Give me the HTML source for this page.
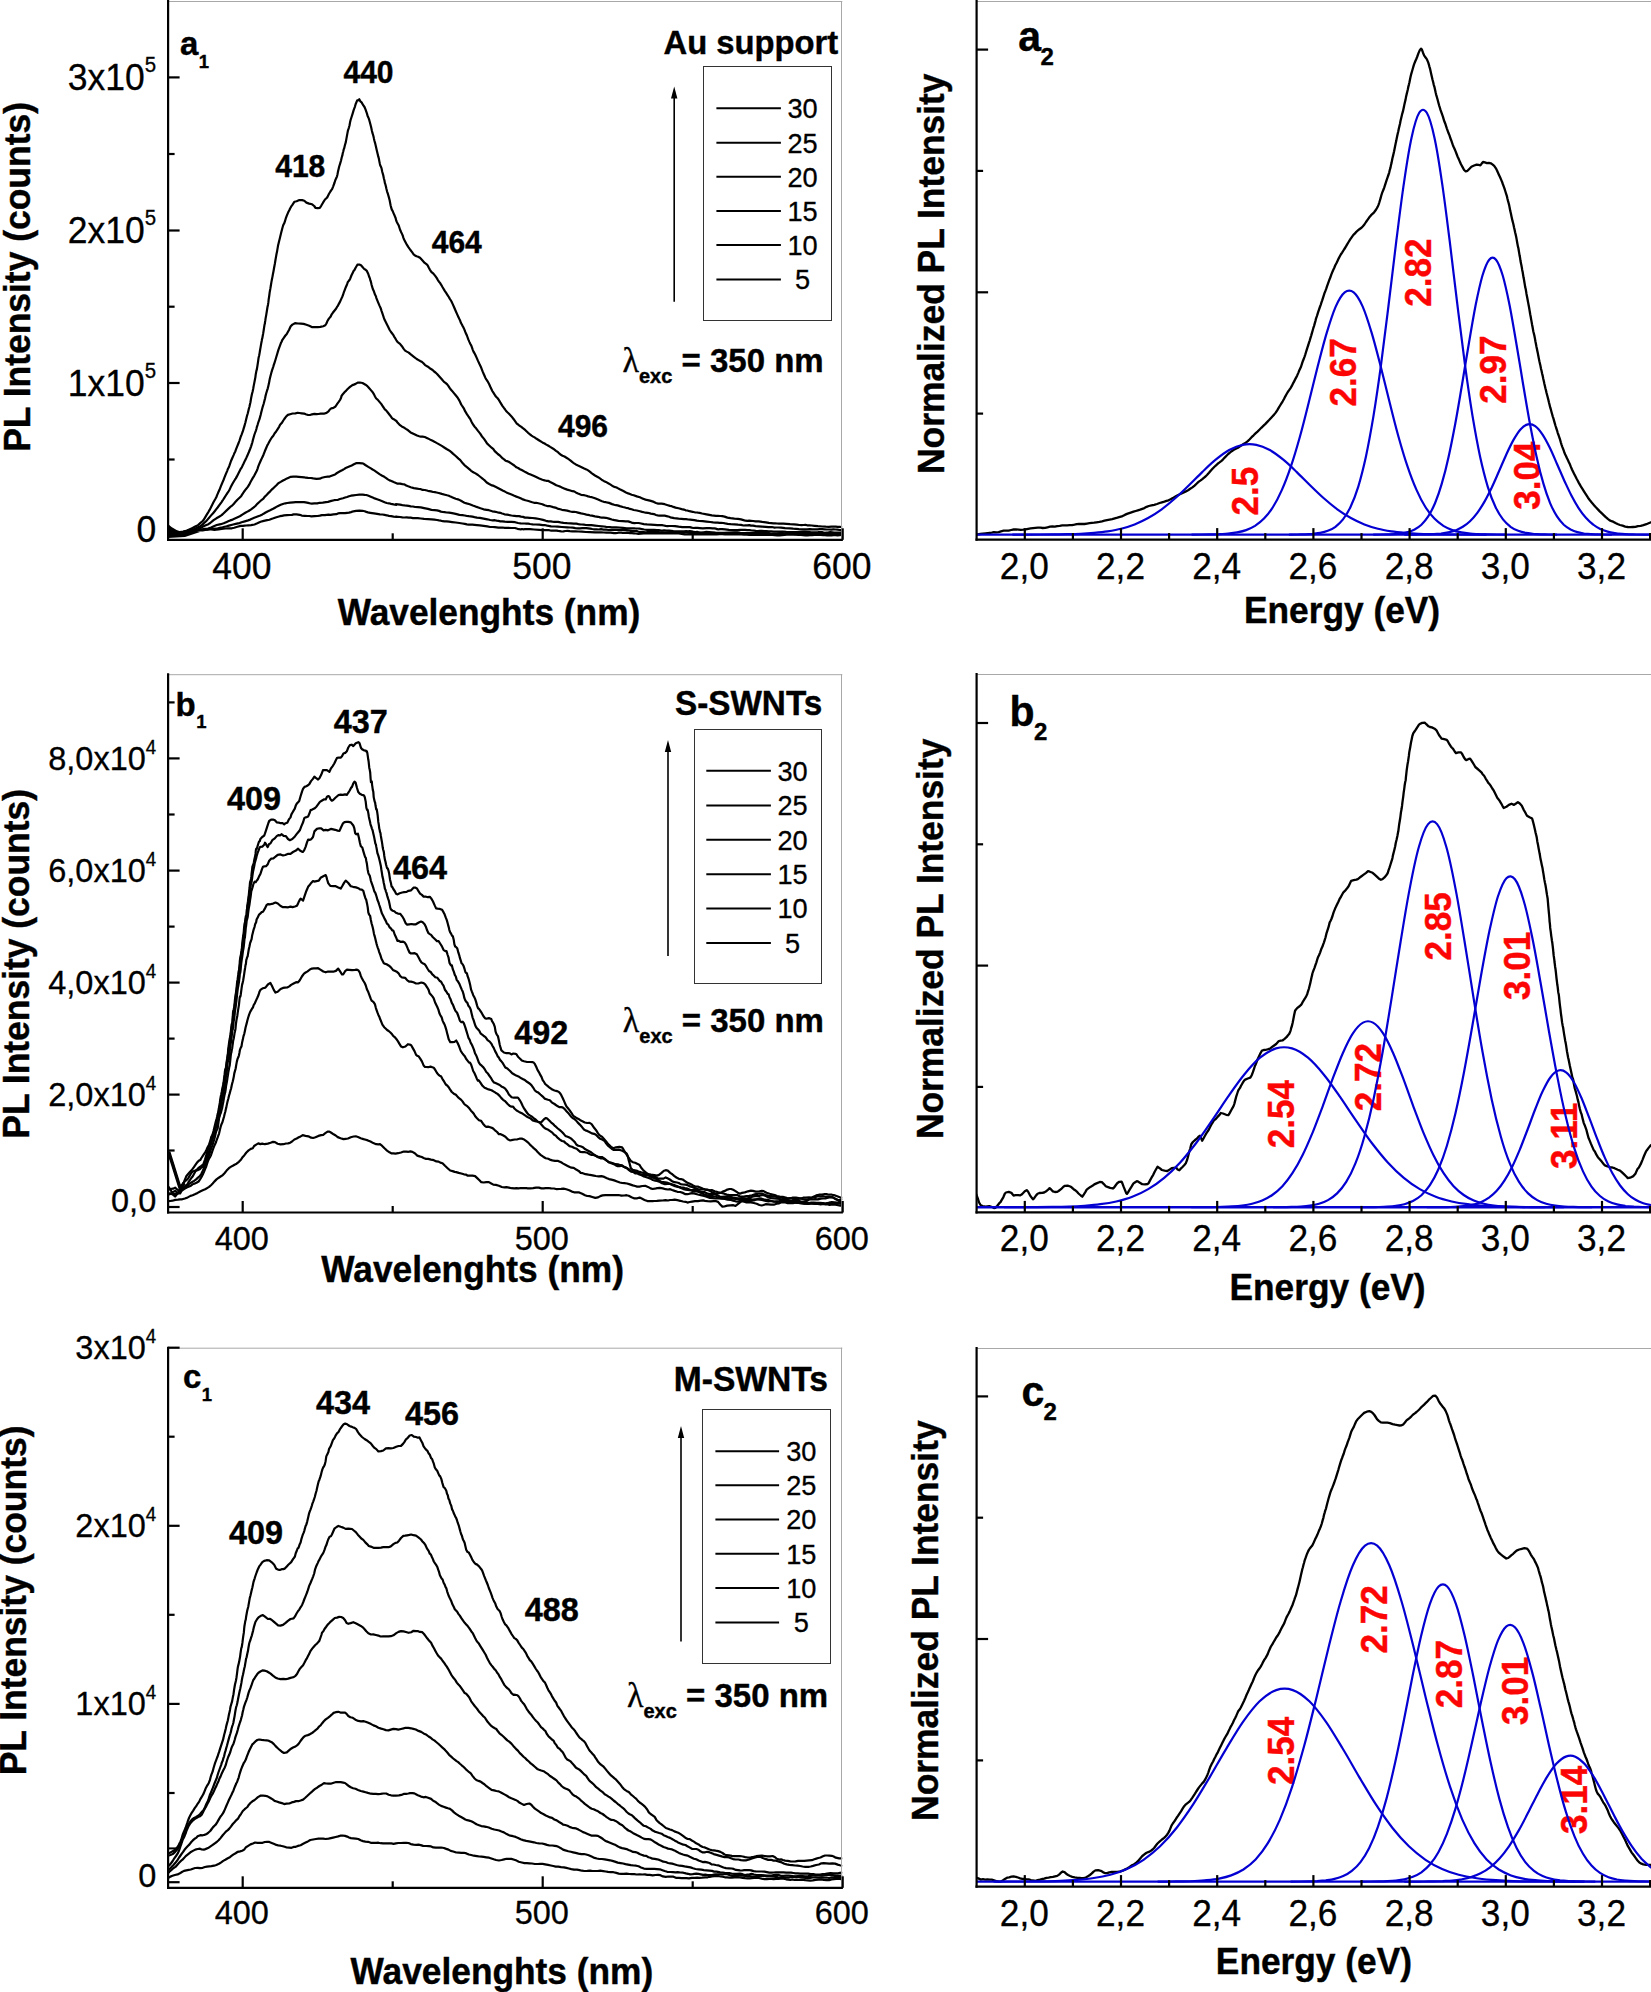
<!DOCTYPE html>
<html lang="en"><head><meta charset="utf-8"><title>PL spectra</title>
<style>html,body{margin:0;padding:0;background:#fff}svg{display:block}text{font-family:'Liberation Sans', Arial, sans-serif;stroke:#000;stroke-width:.3px}text[font-weight=bold]{stroke-width:.4px}text[fill]{stroke:#fb0505}</style>
</head><body>
<svg width="1651" height="1992" viewBox="0 0 1651 1992">
<rect width="1651" height="1992" fill="#fff"/>
<defs>
<clipPath id="cl_a1"><rect x="168.1" y="1" width="674.1999999999999" height="538.8"/></clipPath>
<clipPath id="cl_b1"><rect x="168.1" y="674.2" width="674.1999999999999" height="538.3"/></clipPath>
<clipPath id="cl_c1"><rect x="168.1" y="1347.7" width="674.1999999999999" height="540.0999999999999"/></clipPath>
<clipPath id="cl_a2"><rect x="976.6" y="1" width="675.4" height="538.6"/></clipPath>
<clipPath id="cl_b2"><rect x="976.6" y="674" width="675.4" height="538.4000000000001"/></clipPath>
<clipPath id="cl_c2"><rect x="976.6" y="1348" width="675.4" height="538.5999999999999"/></clipPath>
</defs>
<path d="M168.7,532.2 170.8,532.3 173.1,532.5 176.0,532.5 179.9,532.1 183.1,531.5 185.3,531.0 187.2,530.6 189.3,529.6 192.1,528.2 195.2,526.6 196.9,525.8 198.3,524.8 200.5,522.9 202.7,521.0 203.9,519.5 205.0,517.6 206.9,514.4 208.5,511.8 209.6,509.9 210.5,508.2 211.6,506.1 213.2,502.7 214.6,500.2 215.6,498.5 216.4,497.0 217.1,495.2 218.1,492.8 219.5,489.8 220.9,486.1 221.9,483.8 222.7,481.9 223.5,480.0 224.4,477.7 225.8,474.1 227.1,471.1 228.0,468.7 228.8,467.3 229.4,465.7 230.2,463.4 231.0,461.0 232.2,458.2 233.6,455.1 234.5,452.9 235.3,451.4 236.1,449.1 237.4,445.9 238.6,443.0 239.5,440.5 240.2,438.4 240.8,436.5 241.6,434.6 242.7,431.7 243.7,428.4 244.4,426.2 244.9,424.3 245.4,422.5 246.0,420.0 246.9,416.3 247.8,413.2 248.4,410.7 248.9,408.5 249.4,407.0 249.8,405.0 250.4,402.5 251.1,398.2 251.9,394.3 252.5,392.0 252.8,390.7 253.2,388.8 253.6,386.4 254.3,382.9 254.9,379.7 255.4,377.1 255.7,374.6 256.0,373.0 256.4,370.9 256.9,369.1 257.5,365.3 258.1,361.3 258.5,358.3 258.9,356.6 259.2,355.2 259.6,353.1 260.0,350.5 260.6,347.1 261.2,343.6 261.7,341.0 262.0,339.1 262.4,337.9 262.7,336.0 263.2,333.4 263.8,329.5 264.3,326.2 264.6,324.4 264.9,323.6 265.0,322.2 265.3,320.5 265.6,318.4 266.2,315.1 267.1,309.5 267.5,306.9 268.0,304.7 268.4,302.2 268.7,299.2 269.1,296.8 269.4,294.5 269.7,292.2 270.1,290.0 270.4,288.4 270.7,286.5 271.1,284.0 271.5,281.6 271.9,279.5 272.4,277.1 272.9,274.3 273.5,271.2 274.1,267.7 274.9,263.5 275.5,259.8 276.1,256.4 276.5,254.0 277.0,251.8 277.4,249.3 277.8,247.1 278.1,245.3 278.5,243.7 278.9,242.0 279.4,240.0 279.9,238.0 280.5,235.5 281.1,233.1 282.4,228.0 283.2,225.3 283.8,224.0 284.3,223.2 284.9,221.3 285.7,218.7 286.8,215.7 288.2,212.3 289.3,210.3 290.1,208.5 291.1,206.7 292.4,204.9 294.5,201.7 296.6,201.2 299.4,200.0 302.2,200.1 304.3,200.7 306.4,202.6 309.1,203.6 312.1,204.3 314.2,206.0 315.6,208.0 317.7,208.2 319.8,207.8 321.2,205.8 323.3,202.2 325.0,199.5 326.1,198.5 327.2,197.4 328.9,194.0 330.4,191.5 331.3,190.2 332.1,189.1 333.1,186.6 334.6,182.5 335.5,179.7 336.3,178.1 336.9,176.6 337.4,174.8 337.9,172.1 338.5,169.4 339.2,166.5 340.2,163.3 341.1,160.2 341.7,157.5 342.3,155.7 342.8,153.0 343.2,151.7 343.7,149.4 344.2,148.3 344.9,145.3 345.8,142.1 346.7,137.1 347.4,133.4 348.0,130.3 348.5,128.9 349.0,127.3 349.5,125.5 350.0,122.6 350.6,120.0 351.4,117.5 352.7,113.3 353.5,110.6 354.1,108.9 354.8,107.1 355.6,104.2 357.2,100.4 358.2,100.3 359.3,99.2 360.4,101.4 361.6,102.4 363.2,105.2 364.5,107.0 365.4,109.2 366.9,113.4 367.7,116.3 368.3,117.4 368.8,118.6 369.3,120.2 370.0,122.7 371.1,127.1 371.9,130.8 372.5,133.2 373.1,135.0 373.5,136.5 374.0,138.9 374.5,141.0 375.1,143.1 375.8,145.9 376.7,149.9 377.6,153.7 378.3,156.7 378.8,158.3 379.3,161.1 379.8,163.5 380.2,165.2 380.8,166.4 381.5,168.1 382.3,172.0 383.2,175.1 383.9,178.4 384.5,180.8 384.9,183.1 385.4,184.4 385.8,186.0 386.4,188.8 387.1,191.6 388.0,194.2 388.9,197.4 389.7,200.5 390.2,203.2 390.7,205.8 391.2,207.6 391.8,209.6 392.6,210.9 393.6,213.3 394.7,215.8 395.6,218.0 396.2,220.5 396.8,221.9 397.6,223.4 398.6,225.2 400.0,229.5 401.2,232.2 402.1,234.1 402.8,235.7 403.4,237.9 404.1,239.5 405.1,241.4 406.5,244.1 408.4,247.1 410.4,250.0 412.1,252.2 413.6,254.3 415.0,255.5 416.5,256.3 418.1,256.7 420.0,257.8 422.3,260.3 424.7,262.9 426.4,264.1 427.6,265.2 428.7,267.5 429.8,269.6 431.3,271.8 433.4,273.6 435.4,276.1 436.8,278.1 438.0,280.3 439.0,281.7 440.0,282.9 441.2,284.8 442.6,287.3 444.6,290.6 446.3,293.2 447.7,295.3 448.8,297.0 449.7,298.6 450.6,300.0 451.5,301.5 452.6,303.9 454.0,307.0 455.7,311.0 457.2,314.4 458.4,317.0 459.4,319.1 460.2,320.8 460.9,322.8 461.7,324.2 462.4,325.6 463.2,327.0 464.2,329.1 465.4,332.2 466.9,335.5 468.3,339.4 469.5,342.1 470.5,344.2 471.3,345.6 472.1,347.8 472.8,349.8 473.5,351.6 474.4,353.1 475.4,355.0 476.6,357.6 478.0,360.9 479.6,364.3 480.9,366.9 481.9,369.6 482.8,371.9 483.6,373.7 484.4,375.5 485.3,377.7 486.3,379.4 487.6,381.3 489.2,384.2 490.9,388.1 492.3,391.0 493.4,392.7 494.3,394.1 495.2,395.5 496.1,396.8 497.2,397.8 498.6,399.5 500.3,402.4 502.4,405.8 503.9,407.9 505.1,409.5 506.1,411.0 507.4,412.3 509.0,413.8 511.5,416.4 513.7,419.2 515.4,421.6 516.8,423.6 518.1,424.5 519.5,425.8 521.0,426.6 522.9,428.2 525.4,430.2 528.1,432.8 530.1,434.5 531.6,435.6 533.1,436.6 534.6,437.4 536.6,438.8 539.3,440.5 542.4,442.4 544.6,443.5 546.3,444.6 548.0,445.5 550.2,446.9 553.2,448.7 556.0,450.8 558.0,452.2 559.5,453.7 560.9,454.8 562.5,455.7 564.5,456.5 567.2,458.2 570.3,460.3 572.4,462.1 574.1,463.3 575.8,464.4 578.0,465.5 581.1,466.9 584.2,468.4 586.4,469.4 588.1,470.4 589.8,471.7 591.9,473.4 595.0,475.5 598.1,477.2 600.3,478.7 602.0,480.0 603.7,480.9 605.9,481.9 609.0,483.7 612.1,485.7 614.2,486.9 615.9,487.3 617.6,488.1 619.8,489.3 622.9,490.8 626.0,492.4 628.2,493.4 629.9,494.0 631.6,494.7 633.7,495.3 636.8,496.4 639.9,497.2 642.1,498.4 643.8,499.0 645.5,499.6 647.7,500.1 650.8,500.9 653.9,501.9 656.0,502.9 657.7,503.6 659.4,503.7 661.6,503.6 664.7,504.2 667.8,505.2 670.0,505.9 671.7,506.2 673.4,506.9 675.5,507.6 678.6,508.3 681.7,509.1 683.9,509.6 685.6,510.3 687.3,510.5 689.5,511.2 692.6,511.8 695.4,512.5 697.0,512.5 698.1,512.7 699.6,512.9 702.1,513.5 706.5,514.3 709.3,514.9 711.8,515.4 714.0,515.6 716.0,515.8 718.0,515.9 720.1,516.0 722.2,516.1 724.6,516.6 727.4,517.6 730.6,518.1 734.4,518.6 738.0,518.8 741.0,519.4 743.5,520.1 745.5,520.7 747.4,520.9 749.2,520.7 751.0,520.8 753.1,521.0 755.6,521.3 758.6,521.4 762.2,521.9 765.9,522.3 768.9,522.9 771.3,523.1 773.4,523.3 775.3,523.3 777.0,523.5 778.9,523.7 781.0,523.6 783.4,523.7 786.4,523.8 790.1,524.1 793.8,524.3 796.8,524.6 799.4,525.0 801.5,525.1 803.5,525.0 805.4,524.9 807.2,525.3 809.3,525.3 811.7,525.5 814.5,525.8 817.9,526.2 822.2,526.5 825.7,526.7 828.8,526.8 831.4,526.6 833.7,526.5 835.7,526.6 837.7,526.8 839.6,526.8 841.6,527.0" fill="none" stroke="#000" stroke-width="2.2" stroke-linejoin="round" stroke-linecap="round" clip-path="url(#cl_a1)"/>
<path d="M168.7,533.1 170.7,533.3 172.9,533.6 175.7,533.5 179.9,533.0 182.9,532.0 185.3,531.3 187.4,530.7 189.3,530.5 191.5,529.9 194.2,529.1 197.5,527.6 199.0,527.1 200.3,526.3 202.7,524.4 204.8,522.3 206.3,521.0 207.5,519.6 208.9,518.0 211.1,515.4 213.3,512.9 214.9,511.0 216.1,509.4 217.6,507.5 219.5,504.9 221.4,502.3 222.5,500.7 223.3,499.5 224.3,497.9 225.8,495.5 227.5,492.8 228.6,491.3 229.5,489.7 230.5,487.6 232.2,484.3 233.8,481.5 234.9,479.7 235.8,478.4 236.9,476.4 238.5,473.2 239.9,470.5 240.9,468.6 241.8,467.3 242.6,465.6 243.5,463.8 244.8,460.9 246.3,457.9 247.3,455.7 248.0,454.1 248.9,452.0 250.1,449.0 251.1,446.3 251.8,444.2 252.3,442.5 252.8,440.4 253.4,438.2 254.3,435.0 255.2,432.5 255.9,430.6 256.4,429.0 256.9,426.8 257.6,424.8 258.5,421.8 259.5,419.2 260.1,416.9 260.6,415.1 261.1,412.9 261.8,410.3 262.7,406.8 263.6,404.0 264.2,401.7 264.6,400.1 265.1,398.3 265.5,396.1 266.1,393.8 267.0,390.7 267.8,388.3 268.4,385.8 268.9,383.6 269.3,381.5 269.7,379.3 270.3,376.8 271.2,373.3 272.1,370.1 272.8,368.1 273.3,366.6 273.8,364.9 274.5,362.8 275.4,360.0 276.5,356.3 277.2,354.0 277.8,351.9 278.5,349.6 279.6,346.7 280.9,343.1 281.6,341.7 282.4,339.8 283.8,337.8 285.4,335.5 286.6,334.2 287.7,332.2 289.1,329.7 290.7,326.3 292.4,324.6 295.0,323.2 298.0,323.5 300.8,323.6 303.6,323.9 306.4,324.8 309.2,325.8 311.8,327.1 314.9,327.0 317.9,327.1 320.3,326.9 323.3,326.2 325.3,325.3 326.4,323.5 327.3,321.3 328.9,318.6 330.7,316.5 331.7,314.3 332.8,312.8 334.6,310.5 336.0,308.8 337.0,306.9 337.8,305.9 338.7,304.1 340.2,301.4 341.4,298.6 342.3,296.7 343.0,295.0 343.7,292.7 344.5,290.6 345.8,287.2 347.1,284.2 348.0,281.7 348.7,281.0 349.5,280.0 350.3,278.4 351.4,275.5 352.9,272.4 353.7,270.8 354.5,269.9 355.6,267.7 357.4,264.7 359.3,264.5 361.0,265.3 362.3,266.8 364.1,268.9 365.6,269.8 366.6,270.6 368.3,274.0 369.2,276.8 369.9,278.4 370.4,280.4 371.0,282.1 371.5,284.5 372.1,286.6 372.9,289.2 373.9,291.3 375.1,294.8 375.9,296.2 376.4,298.1 377.1,299.9 378.0,302.1 379.5,305.6 380.7,308.2 381.6,311.1 382.4,313.3 383.1,315.5 383.8,317.7 384.6,319.8 385.5,321.6 386.6,323.8 388.0,326.5 389.7,330.0 391.0,332.0 392.2,333.5 393.2,334.8 394.1,336.6 395.2,338.2 396.4,340.3 397.7,342.2 400.0,343.9 401.9,346.2 403.5,348.6 405.1,350.6 406.8,351.6 408.7,352.6 411.1,354.7 413.9,356.8 416.7,359.0 418.6,360.1 420.2,361.0 421.6,361.7 423.2,363.0 425.1,365.1 427.9,366.7 430.6,368.8 432.6,370.0 434.1,371.5 435.5,372.5 437.1,374.0 439.1,376.3 441.8,379.3 444.0,381.9 445.8,383.2 447.2,384.4 448.5,386.1 449.6,387.9 450.8,389.5 452.1,390.9 453.7,392.9 455.7,395.3 457.7,397.7 459.1,400.1 460.3,402.5 461.2,404.5 462.0,405.7 462.8,406.8 463.8,408.3 465.1,411.2 466.9,414.1 468.8,417.0 470.3,419.1 471.4,421.5 472.4,423.4 473.4,425.0 474.6,426.7 476.1,428.3 478.0,430.9 480.2,433.6 481.8,436.2 483.0,437.6 484.2,439.2 485.4,440.9 487.0,443.4 489.2,445.5 491.6,447.7 493.4,449.2 494.7,451.1 496.1,452.4 497.8,454.0 500.3,455.9 502.7,458.4 504.4,459.6 505.6,460.8 506.9,461.1 508.7,461.8 511.5,463.6 514.3,465.5 516.4,467.3 518.1,468.0 520.0,469.2 522.2,470.3 525.4,472.1 528.5,473.7 530.6,474.6 532.3,475.3 534.1,476.1 536.2,477.1 539.3,478.5 542.4,479.7 544.6,480.4 546.3,480.8 548.0,480.8 550.2,482.0 553.2,483.5 556.3,485.3 558.5,486.0 560.2,486.6 561.9,487.5 564.1,488.4 567.2,489.6 570.3,490.5 572.4,491.2 574.1,491.4 575.8,492.4 578.0,493.5 581.1,494.8 584.2,495.2 586.4,495.8 588.1,496.4 589.8,496.8 591.9,497.2 595.0,498.2 598.1,499.6 600.3,500.6 602.0,501.3 603.7,501.8 605.9,502.2 609.0,502.9 612.1,504.1 614.2,504.8 615.9,505.2 617.6,505.4 619.8,506.1 622.9,507.0 626.0,507.8 628.2,508.2 629.9,508.9 631.6,509.3 633.7,510.0 636.8,510.5 639.9,511.2 642.1,511.9 643.8,512.3 645.5,512.7 647.7,512.8 650.8,513.6 653.9,514.1 656.0,515.0 657.7,515.4 659.4,515.7 661.6,515.6 664.7,515.7 667.5,516.3 669.1,516.7 670.3,517.3 671.7,517.6 674.2,518.1 678.6,518.6 681.5,518.8 683.9,519.1 686.1,519.2 688.2,519.5 690.2,519.7 692.2,519.9 694.4,520.2 696.8,520.7 699.5,521.0 702.7,521.2 706.5,521.6 710.2,522.0 713.1,522.4 715.6,522.6 717.7,522.7 719.5,522.9 721.3,522.9 723.2,523.0 725.2,523.4 727.7,523.8 730.7,524.1 734.4,524.3 738.0,524.7 741.0,524.9 743.5,525.5 745.5,525.4 747.4,525.4 749.2,525.1 751.0,525.6 753.1,525.7 755.6,526.1 758.6,526.3 762.2,526.6 765.7,526.9 768.4,527.2 770.3,527.1 771.8,527.0 773.1,527.3 774.5,527.6 776.1,527.5 778.2,527.5 781.1,527.6 785.0,528.1 790.1,528.3 793.1,528.7 796.0,528.9 798.9,529.2 801.7,529.3 804.5,529.4 807.2,529.3 809.8,529.2 812.4,529.3 814.9,529.4 817.4,529.3 819.9,529.1 822.2,529.2 824.6,529.3 826.9,529.5 829.1,529.5 831.3,529.7 833.4,529.4 835.6,529.5 837.6,529.7 839.6,530.0 841.6,530.2" fill="none" stroke="#000" stroke-width="2.2" stroke-linejoin="round" stroke-linecap="round" clip-path="url(#cl_a1)"/>
<path d="M168.7,532.9 170.7,533.0 172.7,533.6 175.5,533.6 179.9,533.0 182.8,532.2 185.2,531.5 187.3,530.8 189.3,530.7 191.3,530.8 193.6,530.6 196.3,529.7 200.0,528.2 201.7,527.4 203.0,526.6 205.8,525.3 208.4,524.2 210.2,523.0 211.8,521.7 213.6,520.2 216.4,518.3 219.1,516.7 220.9,515.6 222.4,514.5 224.2,512.7 226.9,510.1 229.3,507.9 231.0,506.3 232.4,505.3 233.7,503.9 235.3,502.1 237.4,499.7 239.8,497.5 241.3,495.9 242.4,494.2 243.8,492.0 245.9,489.2 247.8,486.9 249.2,484.7 250.4,482.3 251.5,480.3 252.7,478.1 254.3,475.6 256.0,472.3 256.9,470.5 257.6,468.6 258.3,466.4 259.6,463.2 260.9,460.3 261.8,458.4 262.6,456.7 263.5,454.7 264.8,451.3 266.3,447.8 267.3,445.4 268.1,444.0 269.0,442.3 270.1,440.3 271.8,437.5 273.3,435.8 274.7,433.3 275.8,432.0 277.5,429.3 279.1,426.8 280.1,424.8 281.7,423.1 283.3,420.5 284.3,419.0 285.9,416.8 287.9,414.9 290.1,414.2 292.6,413.5 295.4,413.4 297.7,412.8 299.3,413.0 301.7,413.3 304.1,413.6 305.7,414.3 308.1,415.0 310.5,414.8 312.0,414.4 314.4,413.9 316.8,414.1 318.4,414.0 320.7,413.7 323.8,413.7 326.5,412.9 328.5,411.3 329.6,409.8 331.3,408.3 333.4,407.9 335.5,406.5 337.2,403.9 338.5,402.2 340.0,400.0 341.1,397.7 341.5,396.0 343.0,393.9 344.7,392.0 346.2,390.6 347.9,388.8 350.0,386.9 352.4,385.1 353.8,384.6 355.6,383.9 357.7,382.6 359.9,382.5 362.5,383.0 365.5,384.7 367.4,386.1 368.6,387.5 371.1,390.4 372.7,392.2 374.0,394.4 375.0,396.5 376.2,398.5 377.6,399.6 379.5,401.9 381.4,404.1 382.7,406.3 383.8,407.7 384.8,409.4 386.1,410.4 388.0,412.8 390.3,415.7 392.0,418.1 393.3,419.1 394.7,419.8 396.4,421.0 397.7,422.8 400.0,425.2 402.1,426.7 404.0,427.6 405.9,428.9 408.1,430.3 410.6,432.4 413.9,434.0 417.0,435.5 419.2,436.2 420.9,436.6 422.6,436.6 424.8,437.0 427.9,438.4 431.0,440.1 433.1,441.1 434.8,441.9 436.5,442.9 438.7,444.1 441.8,445.9 444.6,447.7 446.6,449.0 448.3,450.0 449.8,450.9 451.3,452.1 453.2,453.9 455.7,456.0 458.5,458.6 460.3,460.1 461.6,461.8 462.8,463.3 464.4,465.1 466.9,467.1 469.3,469.1 471.1,470.8 472.4,471.7 473.8,472.5 475.5,473.4 478.0,475.0 480.5,477.0 482.2,478.3 483.6,479.5 485.0,480.7 486.7,482.5 489.2,484.0 492.0,485.4 493.9,485.9 495.5,486.7 497.4,487.7 500.3,489.3 503.1,490.8 504.9,491.6 506.4,492.4 508.3,493.3 511.5,494.6 514.3,495.8 516.4,496.6 518.1,497.2 520.0,498.1 522.2,499.1 525.4,500.3 528.5,501.0 530.6,501.7 532.3,502.3 534.1,502.8 536.2,502.8 539.3,503.5 542.4,504.2 544.6,505.3 546.3,505.7 548.0,506.2 550.2,506.2 553.2,507.1 556.3,507.9 558.5,508.9 560.2,509.3 561.9,509.8 564.1,510.1 567.2,510.6 570.3,511.5 572.4,511.8 574.1,511.9 575.8,512.0 578.0,512.6 581.1,513.4 584.2,514.0 586.4,514.6 588.1,514.9 589.8,515.3 591.9,515.7 595.0,516.3 598.1,516.8 600.3,517.4 602.0,517.6 603.7,517.7 605.9,517.8 609.0,518.6 611.8,519.5 613.4,519.9 614.5,520.2 616.0,520.4 618.5,520.9 622.9,521.2 625.7,521.4 628.2,521.4 630.4,522.1 632.4,522.9 634.4,523.2 636.5,523.0 638.6,523.0 641.1,523.5 643.8,524.1 647.0,524.4 650.8,524.6 654.4,524.9 657.4,525.2 659.9,525.2 662.0,525.2 663.8,525.5 665.6,525.9 667.4,526.1 669.5,526.0 672.0,526.0 675.0,526.2 678.6,526.7 682.3,527.1 685.3,527.2 687.7,527.1 689.8,527.1 691.7,527.6 693.5,528.0 695.3,527.9 697.4,527.9 699.8,528.1 702.8,528.3 706.5,528.1 710.0,528.1 712.5,528.3 714.4,528.3 715.8,528.6 717.0,529.2 718.3,529.4 719.9,529.2 722.0,529.1 725.0,529.4 729.0,529.8 734.4,530.1 737.3,530.1 740.0,529.8 742.6,529.8 745.0,529.9 747.3,530.2 749.5,530.1 751.7,530.5 753.7,530.7 755.8,530.9 757.8,531.0 759.8,530.8 761.9,530.9 764.1,531.0 766.3,531.1 768.7,531.4 771.1,531.4 773.8,531.6 776.6,531.6 779.6,531.6 782.8,531.5 786.3,531.8 790.1,532.0 794.0,532.1 797.7,532.0 801.2,531.8 804.5,531.7 807.5,531.8 810.4,532.2 813.1,532.4 815.6,532.3 818.1,532.2 820.3,532.0 822.5,532.2 824.6,532.8 826.6,532.6 828.5,532.4 830.4,532.1 832.3,532.4 834.1,532.7 835.9,532.7 837.8,532.7 839.7,532.6 841.6,532.6" fill="none" stroke="#000" stroke-width="2.2" stroke-linejoin="round" stroke-linecap="round" clip-path="url(#cl_a1)"/>
<path d="M168.7,533.3 170.6,533.3 172.5,533.6 175.2,533.5 179.9,533.1 182.7,532.6 185.0,532.3 187.1,532.0 189.0,532.1 191.0,531.8 193.2,531.1 195.6,530.4 198.4,529.8 202.3,529.4 204.5,528.9 206.1,528.9 208.0,528.5 211.1,527.5 214.4,525.9 216.7,525.0 218.6,524.6 220.7,524.2 223.7,523.3 226.7,521.9 228.7,521.0 230.2,520.4 231.8,519.9 234.3,518.8 237.1,517.5 238.7,516.8 240.2,516.0 242.7,514.4 245.3,512.8 246.9,511.9 248.6,511.0 251.1,509.4 253.7,507.4 255.4,506.0 257.0,504.1 259.6,501.8 261.8,499.8 263.4,498.6 264.6,496.9 266.1,495.5 268.0,493.4 270.2,491.4 271.4,489.8 272.5,489.0 274.3,487.2 276.7,485.0 278.3,483.2 280.7,481.9 283.0,480.5 284.6,479.7 287.0,478.4 289.2,477.4 290.7,476.8 293.3,476.7 296.4,476.7 298.7,476.9 301.7,477.1 304.3,477.3 305.6,477.7 308.1,477.9 311.0,478.0 313.2,478.4 316.5,478.8 319.8,478.7 321.9,477.8 324.9,477.0 327.8,476.6 329.6,476.6 332.3,475.5 335.1,474.4 337.0,473.0 340.0,471.3 342.5,470.0 344.0,469.1 345.7,468.0 348.6,466.8 351.7,465.5 353.9,464.3 356.1,463.2 359.3,463.1 362.2,463.3 363.7,463.8 365.3,465.0 368.3,466.9 370.9,468.4 372.6,469.5 374.2,470.4 376.3,471.8 379.5,474.1 382.2,475.7 384.3,476.8 386.2,478.1 387.9,479.4 389.6,480.4 391.4,481.0 393.6,482.1 396.5,483.3 397.1,483.6 400.0,483.7 402.4,484.2 404.4,484.3 406.2,485.5 408.2,486.3 410.7,487.2 413.9,488.1 417.0,488.6 419.2,489.0 420.9,489.2 422.6,489.9 424.8,490.0 427.9,490.8 431.0,491.4 433.1,492.0 434.8,492.1 436.5,492.5 438.7,493.0 441.8,493.9 444.9,494.7 447.1,495.3 448.8,495.7 450.5,496.6 452.6,497.5 455.7,498.8 458.8,499.6 461.0,500.8 462.7,501.8 464.4,502.7 466.6,503.4 469.7,504.2 472.8,505.5 474.9,506.2 476.6,506.9 478.3,507.5 480.5,508.3 483.6,509.3 486.7,509.8 488.9,510.2 490.6,510.7 492.3,511.3 494.4,511.6 497.5,512.3 500.4,512.8 502.0,513.5 503.1,513.8 504.5,514.3 507.1,514.7 511.5,515.5 514.3,515.8 516.7,516.1 519.0,516.1 521.0,516.6 523.0,516.9 525.0,517.6 527.2,517.6 529.6,517.8 532.4,518.0 535.6,518.4 539.3,519.0 543.0,519.9 546.0,520.8 548.4,521.3 550.5,521.4 552.4,521.7 554.1,521.8 556.0,521.8 558.1,521.8 560.5,522.3 563.5,522.8 567.2,523.1 570.8,523.3 573.8,523.6 576.3,523.7 578.4,524.1 580.2,524.4 582.0,524.5 583.9,524.7 585.9,525.0 588.4,525.2 591.4,525.2 595.0,525.6 598.7,526.0 601.7,526.3 604.1,526.5 606.2,526.8 608.1,527.0 609.9,527.1 611.7,527.3 613.8,527.4 616.3,527.4 619.2,527.5 622.9,527.9 626.6,528.3 629.6,528.4 632.0,528.3 634.1,528.4 635.9,528.5 637.7,528.5 639.6,528.7 641.7,529.0 644.1,529.5 647.1,529.8 650.8,529.9 654.3,529.9 656.8,530.0 658.7,530.1 660.1,530.4 661.3,530.7 662.6,530.7 664.2,530.4 666.3,530.5 669.3,530.7 673.3,531.1 678.6,531.3 681.5,531.3 684.0,531.3 686.2,531.2 688.1,531.3 689.8,531.1 691.4,531.4 692.9,531.7 694.3,531.9 695.6,532.0 697.1,531.8 698.6,532.2 700.2,532.6 702.0,532.7 704.0,532.3 706.3,531.9 709.0,532.0 712.0,532.3 715.4,532.7 719.3,532.8 723.8,532.8 728.8,532.5 734.4,532.4 737.4,532.4 740.4,532.8 743.3,533.0 746.3,533.1 749.2,533.0 752.1,533.2 754.9,533.0 757.8,532.8 760.6,532.6 763.4,532.6 766.1,532.9 768.9,533.1 771.6,533.7 774.2,533.7 776.9,533.6 779.5,533.2 782.1,533.1 784.7,533.3 787.3,533.4 789.8,533.2 792.3,533.3 794.8,533.4 797.3,533.8 799.7,533.7 802.1,533.6 804.5,533.5 806.9,533.4 809.2,533.7 811.5,533.9 813.8,534.0 816.1,533.7 818.4,533.5 820.6,533.5 822.8,533.6 825.0,533.6 827.1,533.5 829.3,533.6 831.4,533.9 833.5,533.8 835.5,533.6 837.6,533.6 839.6,533.8 841.6,533.9" fill="none" stroke="#000" stroke-width="2.2" stroke-linejoin="round" stroke-linecap="round" clip-path="url(#cl_a1)"/>
<path d="M168.7,533.6 170.5,533.6 172.2,533.8 175.0,534.3 179.9,533.8 182.9,533.2 185.4,532.6 187.6,532.3 189.8,532.0 192.0,531.8 194.4,531.1 197.2,530.5 200.5,530.0 204.5,529.7 207.1,529.6 208.9,529.1 210.7,529.0 212.9,528.8 216.4,528.7 219.9,527.8 222.5,527.3 224.6,526.8 226.6,526.3 228.9,525.6 232.2,524.7 235.7,523.9 238.0,523.4 239.6,523.1 241.6,522.3 244.8,521.4 248.1,520.4 250.2,519.6 252.0,518.7 254.2,517.8 257.5,516.5 260.3,515.4 262.4,514.4 264.0,513.5 265.6,512.5 267.5,511.5 270.1,510.3 273.1,508.8 275.0,507.7 276.4,506.9 278.1,506.0 280.7,504.8 283.6,503.7 285.4,503.3 287.2,503.0 290.1,502.6 293.4,502.3 295.6,502.1 297.8,502.0 300.7,502.1 303.9,502.1 305.6,502.4 308.1,502.9 310.5,503.5 311.8,503.6 314.4,503.4 317.3,503.4 319.5,502.8 322.8,502.6 326.0,502.1 328.0,501.9 331.3,500.9 334.1,500.2 336.2,500.0 338.0,499.8 340.0,499.0 343.0,498.2 345.1,497.5 347.0,497.0 349.0,496.3 351.0,495.7 353.4,495.3 356.1,495.0 359.3,494.7 362.6,494.7 364.7,494.9 366.3,495.0 367.9,495.5 370.2,496.5 373.9,498.1 377.1,499.3 379.9,500.3 382.3,501.2 384.6,502.2 386.7,503.0 388.9,503.3 391.1,503.9 393.6,504.4 396.3,504.8 395.8,504.1 400.0,504.7 402.4,505.1 404.6,505.4 406.6,505.6 408.7,505.9 410.7,506.3 412.9,506.5 415.2,507.0 417.8,507.1 420.8,507.4 424.1,508.1 427.9,508.9 431.5,509.9 434.5,510.2 437.0,510.4 439.0,510.9 440.9,511.6 442.7,512.0 444.5,512.1 446.6,512.5 449.1,512.6 452.1,513.2 455.7,513.9 459.4,514.9 462.4,515.2 464.8,515.5 466.9,516.0 468.8,516.2 470.5,516.3 472.4,516.6 474.5,517.1 476.9,517.6 479.9,517.9 483.6,518.6 487.3,519.3 490.2,520.0 492.7,520.3 494.8,520.2 496.6,520.6 498.4,520.9 500.3,521.3 502.3,521.3 504.8,521.7 507.8,521.8 511.5,521.9 515.1,522.2 518.1,523.0 520.6,523.4 522.6,523.5 524.5,523.5 526.3,523.6 528.1,523.6 530.2,524.0 532.7,524.3 535.7,524.5 539.3,524.6 542.8,525.1 545.4,525.2 547.2,525.6 548.6,525.8 549.8,526.2 551.1,526.4 552.7,526.5 554.9,526.5 557.8,526.7 561.8,527.0 567.2,527.3 570.1,527.5 572.8,527.7 575.4,528.1 577.8,528.3 580.0,528.3 582.2,528.1 584.2,528.1 586.3,528.1 588.3,528.3 590.2,528.6 592.3,529.0 594.3,529.3 596.4,529.4 598.7,529.5 601.0,529.2 603.5,529.6 606.1,529.7 609.0,530.0 612.1,529.8 615.4,529.9 619.0,529.8 622.9,529.9 626.6,530.1 629.6,530.6 632.0,531.1 633.9,531.1 635.3,531.0 636.5,530.9 637.3,531.2 638.1,531.5 638.7,531.7 639.3,531.9 640.0,532.0 640.9,531.8 642.1,531.9 643.6,532.0 645.6,532.4 648.0,532.0 651.1,531.7 654.9,531.8 659.4,532.1 664.9,532.3 671.2,532.2 678.6,532.5 681.3,532.8 684.0,532.6 686.7,532.7 689.4,532.8 692.1,533.2 694.8,532.9 697.5,532.8 700.3,532.8 703.0,532.9 705.7,533.2 708.4,533.0 711.1,533.0 713.8,533.0 716.5,533.3 719.2,533.2 721.9,533.2 724.6,533.3 727.3,533.4 730.0,533.3 732.7,533.2 735.4,533.2 738.0,533.2 740.7,533.1 743.4,533.1 746.0,533.2 748.7,533.3 751.3,533.4 754.0,533.5 756.6,533.7 759.2,533.8 761.8,533.9 764.4,533.6 767.0,533.7 769.6,534.0 772.1,534.4 774.7,534.4 777.2,534.1 779.8,534.1 782.3,534.0 784.8,534.1 787.3,533.6 789.7,533.5 792.2,533.5 794.6,534.2 797.1,534.3 799.5,534.2 801.9,534.0 804.3,534.0 806.6,533.8 809.0,533.6 811.3,533.8 813.6,534.1 815.9,534.3 818.1,534.5 820.4,534.3 822.6,534.2 824.8,534.0 827.0,534.2 829.2,534.3 831.3,534.4 833.4,534.3 835.5,534.3 837.6,534.3 839.6,534.3 841.6,534.5" fill="none" stroke="#000" stroke-width="2.2" stroke-linejoin="round" stroke-linecap="round" clip-path="url(#cl_a1)"/>
<path d="M168.7,533.8 170.4,533.9 172.0,533.9 174.8,534.1 179.9,533.6 182.7,533.4 185.2,533.0 187.4,532.9 189.5,532.5 191.6,532.1 193.8,531.4 196.3,531.0 199.2,530.5 202.7,530.3 206.3,529.6 209.0,529.4 211.1,529.4 212.8,529.6 214.5,529.8 216.3,529.7 218.6,529.3 221.6,528.9 225.5,528.5 228.1,528.4 230.1,528.3 231.9,528.3 234.2,527.8 237.4,526.8 240.7,525.9 242.9,525.8 244.6,525.6 246.2,525.5 248.2,525.3 251.1,525.2 254.5,524.5 256.7,523.6 258.4,522.7 260.6,521.8 263.8,520.9 267.1,520.2 269.4,519.7 271.3,519.0 273.4,518.3 276.4,517.2 279.9,516.2 282.0,515.8 284.0,515.4 287.0,515.2 290.0,515.0 291.9,514.9 293.7,514.4 296.5,514.3 299.7,514.8 301.7,515.6 304.9,515.8 307.7,516.0 309.4,516.0 311.3,516.3 314.4,516.1 317.6,516.0 319.8,515.6 321.9,515.1 324.9,515.1 328.5,514.7 330.5,514.9 333.4,514.3 336.3,514.2 338.0,513.4 340.0,513.2 343.0,513.2 345.1,513.2 347.0,512.9 349.0,512.6 351.0,512.1 353.4,511.3 356.1,510.9 359.3,510.6 362.6,510.8 364.7,511.3 366.3,511.9 367.9,512.4 370.2,512.8 373.9,513.4 377.1,513.9 379.9,514.3 382.3,514.5 384.6,514.9 386.7,515.3 388.9,515.9 391.1,516.2 393.6,516.6 396.3,516.8 395.8,516.7 400.0,517.0 402.4,517.3 404.6,517.5 406.6,517.4 408.7,517.6 410.7,517.7 412.9,518.1 415.2,518.0 417.8,518.2 420.8,518.5 424.1,518.9 427.9,519.1 431.5,519.3 434.5,519.7 437.0,520.0 439.0,520.4 440.9,520.7 442.7,521.2 444.5,521.3 446.6,521.4 449.1,521.7 452.1,522.1 455.7,522.5 459.4,523.0 462.4,523.5 464.8,523.9 466.9,524.3 468.8,524.6 470.5,524.7 472.4,524.7 474.5,524.9 476.9,525.1 479.9,525.3 483.6,525.8 487.3,526.4 490.2,527.0 492.7,527.0 494.8,527.2 496.6,527.4 498.4,527.6 500.3,527.7 502.3,527.5 504.8,527.8 507.8,527.8 511.5,528.0 514.9,528.0 517.5,528.8 519.4,529.2 520.8,529.4 522.0,529.0 523.3,529.3 524.8,529.2 527.0,529.1 530.0,529.2 534.0,529.5 539.3,529.9 542.2,530.1 544.8,530.0 547.2,530.2 549.3,530.2 551.3,530.7 553.1,530.6 554.8,530.7 556.5,530.6 558.2,530.9 559.9,531.1 561.6,531.5 563.4,531.4 565.4,531.0 567.5,530.9 569.8,531.2 572.4,531.4 575.3,531.3 578.4,531.5 582.0,531.6 585.9,532.0 590.2,532.1 595.0,532.4 598.3,532.3 601.2,532.3 603.9,532.5 606.3,532.7 608.5,532.7 610.6,532.6 612.4,532.8 614.1,533.1 615.7,533.1 617.2,533.0 618.6,532.7 620.0,532.7 621.3,532.7 622.6,532.9 624.0,532.8 625.4,532.8 626.8,532.6 628.4,532.9 630.1,533.1 631.9,533.2 633.8,533.3 636.0,533.5 638.3,533.8 640.9,533.6 643.8,533.5 646.9,533.5 650.3,533.5 654.1,533.4 658.2,533.4 662.7,533.4 667.6,533.5 672.9,533.3 678.6,533.5 681.7,533.8 684.7,534.4 687.7,534.5 690.6,534.4 693.6,534.2 696.5,534.3 699.5,534.3 702.4,534.4 705.3,534.4 708.1,534.5 711.0,534.5 713.8,534.4 716.7,534.3 719.5,534.1 722.3,534.1 725.0,534.3 727.8,534.4 730.5,534.4 733.3,534.4 736.0,534.3 738.7,534.4 741.3,534.5 744.0,534.6 746.7,534.6 749.3,534.9 751.9,534.9 754.5,534.8 757.1,534.7 759.6,534.9 762.2,534.9 764.7,534.9 767.2,535.0 769.7,534.9 772.2,535.0 774.7,535.2 777.1,535.5 779.6,535.3 782.0,535.1 784.4,534.9 786.8,534.7 789.2,534.7 791.5,534.6 793.9,534.6 796.2,534.7 798.5,534.9 800.8,535.0 803.1,535.1 805.4,535.4 807.6,535.4 809.9,535.2 812.1,535.1 814.3,534.9 816.5,534.8 818.7,534.9 820.8,535.0 823.0,535.1 825.1,535.1 827.2,535.5 829.3,535.5 831.4,535.4 833.5,535.1 835.5,535.2 837.6,535.3 839.6,535.1 841.6,535.0" fill="none" stroke="#000" stroke-width="2.2" stroke-linejoin="round" stroke-linecap="round" clip-path="url(#cl_a1)"/>
<path d="M168,524 Q175,531 185,532 L200,532 L185,537 L168,538 Z" fill="#000"/>
<line x1="168.1" y1="1.5" x2="842.3" y2="1.5" stroke="#a8a8a8" stroke-width="1"/>
<line x1="841.5" y1="1.0" x2="841.5" y2="539.8" stroke="#a8a8a8" stroke-width="1"/>
<line x1="168.1" y1="0.0" x2="168.1" y2="540.9" stroke="#000" stroke-width="2.2"/>
<line x1="167.0" y1="539.8" x2="842.9" y2="539.8" stroke="#000" stroke-width="2.2"/>
<line x1="242.7" y1="539.8" x2="242.7" y2="528.3" stroke="#000" stroke-width="2.2"/>
<line x1="542.7" y1="539.8" x2="542.7" y2="528.3" stroke="#000" stroke-width="2.2"/>
<line x1="842.7" y1="539.8" x2="842.7" y2="528.3" stroke="#000" stroke-width="2.2"/>
<line x1="392.7" y1="539.8" x2="392.7" y2="533.3" stroke="#000" stroke-width="2.2"/>
<line x1="692.7" y1="539.8" x2="692.7" y2="533.3" stroke="#000" stroke-width="2.2"/>
<text transform="translate(241.8 578.5) scale(1 1.05)" font-size="35.5" text-anchor="middle">400</text>
<text transform="translate(541.8 578.5) scale(1 1.05)" font-size="35.5" text-anchor="middle">500</text>
<text transform="translate(841.8 578.5) scale(1 1.05)" font-size="35.5" text-anchor="middle">600</text>
<line x1="168.1" y1="77.4" x2="179.6" y2="77.4" stroke="#000" stroke-width="2.2"/>
<line x1="168.1" y1="230.5" x2="179.6" y2="230.5" stroke="#000" stroke-width="2.2"/>
<line x1="168.1" y1="383.0" x2="179.6" y2="383.0" stroke="#000" stroke-width="2.2"/>
<line x1="168.1" y1="154.0" x2="174.6" y2="154.0" stroke="#000" stroke-width="2.2"/>
<line x1="168.1" y1="306.7" x2="174.6" y2="306.7" stroke="#000" stroke-width="2.2"/>
<line x1="168.1" y1="459.5" x2="174.6" y2="459.5" stroke="#000" stroke-width="2.2"/>
<text transform="translate(156.0 89.9) scale(1 1.05)" font-size="35.5" text-anchor="end">3x10<tspan font-size="20.4" dy="-16.7">5</tspan></text>
<text transform="translate(156.0 243.0) scale(1 1.05)" font-size="35.5" text-anchor="end">2x10<tspan font-size="20.4" dy="-16.7">5</tspan></text>
<text transform="translate(156.0 395.5) scale(1 1.05)" font-size="35.5" text-anchor="end">1x10<tspan font-size="20.4" dy="-16.7">5</tspan></text>
<text transform="translate(156.2 541.6) scale(1 1.05)" font-size="35.5" text-anchor="end">0</text>
<text transform="translate(29.6 451.8) rotate(-90) scale(1 1.03)" font-size="35.45" font-weight="bold">PL Intensity (counts)</text>
<text transform="translate(489.0 624.5) scale(1 1.03)" font-size="35.3" font-weight="bold" text-anchor="middle">Wavelenghts (nm)</text>
<text transform="translate(180.0 55.0) scale(1 1.03)" font-size="33" font-weight="bold">a<tspan font-size="18.5" dy="12.4" dx="0.5">1</tspan></text>
<text transform="translate(838.3 53.6) scale(1 1.03)" font-size="32.8" font-weight="bold" text-anchor="end">Au support</text>
<rect x="703.5" y="66.5" width="128.0" height="254.0" fill="#fff" stroke="#333" stroke-width="1"/>
<line x1="716.4" y1="108.2" x2="780.9" y2="108.2" stroke="#000" stroke-width="2.0"/>
<text transform="translate(787.5 118.0) scale(1 1.05)" font-size="27.2">30</text>
<line x1="716.4" y1="142.7" x2="780.9" y2="142.7" stroke="#000" stroke-width="2.0"/>
<text transform="translate(787.5 152.5) scale(1 1.05)" font-size="27.2">25</text>
<line x1="716.4" y1="176.7" x2="780.9" y2="176.7" stroke="#000" stroke-width="2.0"/>
<text transform="translate(787.5 186.5) scale(1 1.05)" font-size="27.2">20</text>
<line x1="716.4" y1="210.9" x2="780.9" y2="210.9" stroke="#000" stroke-width="2.0"/>
<text transform="translate(787.5 220.7) scale(1 1.05)" font-size="27.2">15</text>
<line x1="716.4" y1="244.9" x2="780.9" y2="244.9" stroke="#000" stroke-width="2.0"/>
<text transform="translate(787.5 254.7) scale(1 1.05)" font-size="27.2">10</text>
<line x1="716.4" y1="279.5" x2="780.9" y2="279.5" stroke="#000" stroke-width="2.0"/>
<text transform="translate(795.0 289.3) scale(1 1.05)" font-size="27.2">5</text>
<line x1="674.2" y1="94.4" x2="674.2" y2="301.8" stroke="#000" stroke-width="1.6"/>
<path d="M674.2,86.4 L671.0,98.4 L677.4000000000001,98.4 Z" fill="#000"/>
<text transform="translate(622.5 371.8) scale(1 1.03)" font-size="33" font-weight="bold"><tspan font-family="'Liberation Serif', 'DejaVu Serif', serif" font-weight="normal" font-size="34">λ</tspan><tspan font-size="20" dy="10.5">exc</tspan><tspan dy="-10.5"> = 350 nm</tspan></text>
<text transform="translate(343.5 82.9) scale(1 1.03)" font-size="30" font-weight="bold">440</text>
<text transform="translate(275.2 176.6) scale(1 1.03)" font-size="30" font-weight="bold">418</text>
<text transform="translate(431.7 252.5) scale(1 1.03)" font-size="30" font-weight="bold">464</text>
<text transform="translate(558.0 436.5) scale(1 1.03)" font-size="30" font-weight="bold">496</text>
<path d="M168.8,1194.4 170.4,1194.0 173.0,1191.9 175.1,1191.0 177.6,1192.6 180.1,1193.5 180.8,1192.2 181.6,1189.6 182.5,1186.5 183.4,1183.7 184.3,1181.2 185.1,1179.3 186.3,1176.2 187.9,1174.2 189.6,1172.3 191.3,1170.5 192.6,1168.9 193.9,1167.2 195.6,1164.7 197.4,1162.1 199.0,1160.6 200.2,1160.1 201.4,1158.0 202.8,1155.9 204.1,1153.9 205.2,1152.3 206.3,1150.2 207.6,1147.3 209.0,1144.7 210.2,1141.2 210.7,1139.4 211.2,1137.0 211.9,1135.7 212.7,1134.0 213.5,1131.1 214.3,1127.7 215.1,1124.4 215.8,1121.6 216.6,1118.8 217.2,1116.4 217.7,1113.8 218.1,1112.9 218.4,1110.7 218.8,1108.8 219.3,1105.6 219.8,1103.0 220.2,1099.7 220.7,1096.7 221.2,1094.5 221.8,1091.5 222.3,1088.6 222.8,1086.4 223.2,1084.7 223.7,1081.7 224.1,1078.1 224.6,1074.7 224.9,1071.4 225.3,1069.3 225.5,1069.1 225.8,1068.3 226.1,1066.3 226.4,1063.5 226.8,1060.8 227.1,1059.0 227.5,1056.1 227.9,1053.5 228.2,1049.6 228.6,1046.5 229.0,1043.3 229.4,1040.5 229.8,1038.6 230.2,1036.3 230.6,1034.4 230.9,1030.8 231.3,1027.1 231.6,1024.6 232.0,1023.2 232.3,1022.7 232.5,1019.4 232.8,1016.2 233.0,1012.6 233.3,1010.9 233.6,1010.0 233.9,1008.5 234.2,1007.3 234.6,1003.5 234.9,1000.2 235.3,996.9 235.7,994.1 236.0,992.6 236.4,989.4 236.8,985.6 237.2,981.4 237.6,979.7 237.9,977.1 238.3,974.7 238.6,971.5 239.0,970.4 239.3,967.5 239.6,964.8 239.8,961.2 240.1,958.8 240.3,957.2 240.6,956.0 240.9,954.8 241.2,952.6 241.5,950.9 241.9,947.9 242.2,944.4 242.6,940.6 243.0,937.2 243.4,935.3 243.8,931.3 244.1,927.4 244.5,924.0 244.9,922.6 245.2,920.8 245.5,918.8 245.8,916.2 246.1,916.6 246.4,915.6 246.6,915.2 246.9,910.8 247.2,907.4 247.6,903.7 248.0,901.2 248.4,897.2 248.8,895.1 249.2,890.7 249.6,887.5 250.0,882.7 250.3,881.2 250.7,880.5 251.0,879.0 251.3,876.9 251.6,873.6 252.0,870.4 252.4,866.6 252.9,865.3 253.4,864.3 253.9,862.2 254.4,859.2 255.0,856.9 255.5,853.9 255.9,850.0 256.3,848.5 256.6,849.3 257.3,847.0 258.2,844.0 259.0,841.7 259.8,841.1 260.4,838.9 262.2,837.0 264.2,835.6 265.0,833.4 266.1,830.1 267.3,826.4 268.4,823.0 269.2,821.0 271.1,819.7 273.0,819.5 274.9,820.3 276.7,822.3 279.2,822.7 280.6,823.2 282.6,823.2 284.2,824.3 285.6,823.2 287.3,822.7 289.1,819.1 290.5,817.4 291.4,814.4 292.5,812.5 293.7,810.4 294.8,808.7 295.9,805.2 296.8,803.6 297.9,802.4 299.2,801.0 300.7,795.8 302.0,791.6 303.1,788.7 304.5,786.9 306.3,786.3 308.0,785.3 309.3,784.1 311.0,781.1 312.9,778.9 314.4,776.6 316.2,778.2 318.1,779.5 319.4,778.3 321.2,774.8 323.0,770.2 324.4,770.0 326.9,770.2 329.4,771.9 330.8,768.7 332.5,766.3 334.3,763.5 335.7,760.5 337.1,757.8 338.8,757.7 340.6,757.7 342.0,756.3 343.4,753.5 345.2,752.9 346.9,751.2 348.3,747.5 349.9,745.1 351.7,744.7 353.3,746.1 355.8,743.3 358.3,742.2 359.5,743.2 360.9,747.7 362.1,749.2 364.0,750.3 365.8,750.6 366.3,751.5 366.8,751.2 367.3,752.9 367.9,756.9 368.3,759.8 368.6,761.3 368.9,764.2 369.3,767.9 369.7,769.6 370.2,772.5 370.6,778.5 371.0,782.3 371.4,782.4 371.8,781.6 372.1,785.1 372.4,786.9 372.8,789.9 373.3,791.7 373.7,797.1 374.2,799.5 374.7,801.8 375.1,802.5 375.5,805.3 375.9,807.6 376.2,809.3 376.7,809.2 377.2,812.1 377.7,815.6 378.3,821.9 378.8,824.7 379.3,828.9 379.6,829.6 380.0,832.0 380.4,832.7 380.8,835.5 381.3,838.5 381.8,841.2 382.2,843.7 382.7,847.3 383.1,849.5 383.4,850.4 383.8,851.9 384.3,856.0 384.9,859.6 385.5,861.7 386.1,864.7 386.7,866.8 387.2,868.4 387.7,868.3 388.4,870.3 389.2,873.8 390.0,879.4 390.9,882.9 391.6,886.6 392.2,886.8 393.3,889.0 394.7,891.0 396.1,893.8 397.2,894.4 399.7,893.2 402.2,892.5 404.1,892.2 406.6,891.9 408.5,890.8 411.1,890.3 413.5,887.7 415.1,887.6 417.0,888.5 418.5,891.2 420.1,893.6 421.9,894.9 423.6,896.6 425.4,896.5 427.8,897.2 429.8,896.8 431.2,898.4 432.9,901.3 434.7,905.4 436.1,908.4 437.8,908.7 439.9,908.9 442.1,909.8 443.6,912.4 444.6,914.3 445.7,917.4 446.8,920.1 447.8,923.7 448.7,927.1 449.3,929.8 450.2,932.3 451.1,933.7 452.0,935.6 452.9,936.4 453.7,939.7 454.4,944.3 455.2,946.5 456.2,947.1 457.3,948.5 458.3,952.4 459.2,955.1 459.9,957.9 460.7,960.4 461.6,963.3 462.6,964.2 463.6,966.1 464.6,969.2 465.5,972.3 466.2,973.0 466.9,973.3 467.6,976.2 468.5,978.5 469.4,981.7 470.3,985.6 471.1,989.7 471.9,991.7 472.5,993.1 473.2,995.2 474.1,996.8 475.1,998.9 476.1,1001.9 477.1,1005.6 478.0,1008.2 478.8,1008.7 480.0,1010.3 481.7,1012.9 483.5,1016.3 485.1,1018.2 486.3,1018.7 488.9,1018.1 491.3,1019.0 492.0,1021.1 492.9,1022.4 493.8,1024.1 494.8,1026.9 495.6,1031.7 496.3,1033.7 497.0,1034.8 497.9,1036.1 498.9,1040.6 499.8,1045.0 500.7,1048.2 501.4,1050.4 503.9,1052.5 506.4,1053.2 508.0,1053.0 509.9,1053.4 511.4,1054.4 513.3,1053.5 515.3,1053.8 516.5,1054.3 518.2,1057.0 520.1,1058.7 521.8,1060.5 524.0,1061.3 527.1,1062.0 530.2,1062.0 532.7,1062.2 533.7,1062.6 534.8,1063.9 536.2,1066.8 537.5,1069.9 539.0,1072.3 540.3,1074.9 541.6,1077.1 542.7,1080.1 543.6,1081.3 545.2,1084.0 547.2,1085.7 549.2,1087.3 551.0,1088.6 552.3,1089.6 554.5,1090.5 556.9,1091.1 558.9,1091.9 560.0,1093.2 561.3,1095.2 562.8,1098.2 564.2,1101.4 565.4,1104.3 566.5,1106.5 568.0,1108.3 569.7,1110.4 571.4,1112.8 572.9,1115.4 574.1,1116.3 576.1,1117.7 578.5,1118.9 580.9,1120.6 582.9,1121.5 584.8,1122.5 587.2,1123.0 589.6,1122.9 591.6,1124.1 592.8,1125.8 594.3,1128.1 595.9,1129.9 597.6,1132.6 599.1,1134.8 600.3,1135.7 601.8,1136.6 603.8,1138.7 605.9,1141.1 607.7,1143.4 609.0,1144.9 611.2,1147.1 613.4,1148.2 615.9,1147.3 619.3,1146.9 622.1,1147.4 623.3,1149.2 624.8,1151.9 626.5,1154.3 628.1,1156.9 629.6,1159.1 630.8,1160.8 632.8,1162.2 635.2,1162.8 637.6,1163.9 639.6,1165.0 641.0,1167.5 642.9,1169.7 644.9,1171.7 646.8,1173.3 648.3,1174.2 651.0,1174.7 654.3,1175.1 657.0,1175.6 659.0,1174.9 661.5,1172.9 663.9,1170.7 665.7,1170.2 667.8,1170.6 670.2,1172.9 672.3,1174.2 674.1,1175.9 676.4,1177.5 678.9,1178.8 681.0,1179.1 682.7,1179.5 685.0,1181.1 687.5,1182.8 689.9,1183.7 691.9,1184.7 693.6,1185.8 695.8,1186.7 698.3,1186.7 700.8,1187.7 703.1,1188.8 705.0,1189.3 706.8,1189.6 709.0,1190.1 711.5,1191.9 714.0,1192.9 716.2,1194.0 718.1,1193.5 719.9,1192.9 722.2,1191.9 724.8,1190.9 727.3,1189.6 729.5,1189.0 731.1,1189.0 733.2,1189.8 735.5,1191.1 737.8,1192.7 739.9,1193.7 742.0,1192.9 744.8,1192.4 748.0,1191.3 750.9,1190.7 752.9,1190.9 755.8,1191.6 758.8,1191.5 761.7,1190.9 763.7,1191.2 766.5,1192.7 769.6,1193.8 772.5,1194.5 774.7,1195.1 777.0,1196.1 779.8,1196.5 782.8,1196.8 785.6,1197.5 787.8,1198.6 790.1,1198.5 792.9,1197.5 795.9,1197.6 798.7,1198.1 800.9,1198.5 803.2,1197.7 806.0,1197.6 809.0,1197.4 811.8,1197.5 814.0,1196.4 816.2,1195.4 819.0,1194.7 822.0,1194.5 824.8,1194.1 827.1,1194.2 829.2,1194.7 831.9,1194.7 835.0,1195.4 837.9,1196.6 840.2,1197.6 841.7,1197.6" fill="none" stroke="#000" stroke-width="2.2" stroke-linejoin="round" stroke-linecap="round" clip-path="url(#cl_b1)"/>
<path d="M168.8,1187.2 169.9,1188.8 171.6,1191.8 173.6,1195.1 175.1,1196.5 176.5,1194.7 178.2,1192.5 179.9,1190.8 181.3,1189.8 183.3,1187.9 185.6,1185.6 187.6,1184.1 188.6,1181.9 189.9,1180.2 191.3,1178.0 192.8,1176.2 194.1,1173.8 195.1,1171.9 196.8,1169.7 198.9,1167.6 201.0,1166.2 202.7,1164.8 203.3,1164.3 204.1,1162.1 205.0,1159.5 206.0,1156.1 206.9,1153.2 207.9,1149.9 208.7,1147.2 209.5,1145.8 210.2,1144.4 210.7,1142.2 211.4,1139.3 212.1,1137.8 212.8,1136.2 213.6,1133.5 214.4,1130.4 215.1,1127.7 215.9,1125.1 216.6,1121.8 217.2,1119.1 217.7,1116.4 218.1,1114.9 218.4,1113.1 218.8,1112.2 219.3,1110.3 219.8,1107.6 220.2,1103.7 220.7,1100.7 221.2,1097.8 221.8,1096.1 222.3,1093.1 222.8,1090.1 223.2,1086.0 223.7,1083.1 224.1,1080.6 224.6,1077.9 224.9,1075.3 225.3,1072.4 225.5,1070.5 225.8,1069.1 226.1,1067.6 226.4,1065.7 226.8,1063.2 227.1,1060.8 227.5,1058.0 227.9,1055.1 228.2,1052.4 228.6,1049.2 229.0,1047.2 229.4,1045.2 229.8,1043.1 230.2,1038.9 230.6,1035.4 230.9,1032.9 231.3,1031.6 231.6,1028.9 232.0,1026.0 232.3,1024.3 232.5,1023.4 232.8,1021.1 233.0,1017.9 233.3,1014.4 233.6,1011.9 233.9,1010.2 234.2,1008.8 234.6,1006.2 234.9,1003.9 235.3,1001.9 235.7,998.6 236.0,995.0 236.4,991.4 236.8,989.2 237.2,985.9 237.6,983.4 237.9,981.4 238.3,978.6 238.6,975.1 239.0,972.6 239.3,969.9 239.6,968.0 239.8,965.4 240.1,963.6 240.3,961.5 240.6,959.4 240.9,957.9 241.2,955.8 241.5,953.3 241.9,950.4 242.2,947.4 242.6,945.1 243.0,940.8 243.4,937.3 243.8,934.6 244.1,933.2 244.5,931.2 244.9,927.8 245.2,924.8 245.5,921.4 245.8,918.4 246.1,918.1 246.4,916.1 246.6,915.2 246.9,909.7 247.2,907.9 247.6,905.1 248.0,904.6 248.4,902.1 248.8,901.1 249.2,897.6 249.6,894.6 250.0,890.7 250.3,888.7 250.7,885.6 251.0,883.3 251.3,882.2 251.6,882.1 252.0,878.9 252.5,875.2 253.0,871.9 253.6,869.0 254.2,866.2 254.8,862.8 255.3,861.2 255.8,859.4 256.3,857.7 256.6,856.1 257.5,853.1 258.6,850.3 259.6,847.6 260.4,846.8 262.3,846.6 264.2,844.8 265.0,842.7 265.9,844.0 266.7,845.6 267.7,847.1 269.1,844.0 270.4,843.5 272.3,840.2 274.8,838.4 276.7,836.1 278.3,835.1 280.1,835.4 281.7,834.2 283.6,835.9 285.9,836.1 288.0,839.0 289.9,840.2 292.3,839.1 294.9,836.4 296.8,833.9 298.2,832.2 299.8,830.3 301.5,825.9 303.1,822.3 304.3,818.1 305.4,817.4 306.8,817.1 308.2,816.4 309.5,813.3 310.6,810.1 312.2,809.6 314.3,808.6 316.4,806.7 318.1,804.4 319.9,801.9 322.1,800.5 324.2,799.3 325.7,799.5 327.0,796.7 328.4,796.0 329.4,796.6 330.5,799.3 331.8,800.7 333.2,800.0 335.4,797.8 338.3,795.2 340.7,794.7 342.8,794.9 345.1,794.4 347.0,794.8 348.2,792.8 349.7,790.5 351.0,787.9 352.0,786.9 353.3,783.3 354.5,781.7 355.6,782.6 357.0,788.0 358.3,792.1 359.8,793.8 361.8,794.8 363.3,795.1 364.0,795.5 364.8,797.2 365.7,801.6 366.4,807.8 367.1,810.0 367.5,809.6 367.9,811.0 368.4,813.6 368.9,817.0 369.4,819.2 369.9,821.2 370.4,823.8 370.8,825.4 371.3,826.5 371.9,828.6 372.6,830.2 373.3,833.4 374.0,836.4 374.7,840.0 375.4,843.7 375.9,844.5 376.3,846.9 376.8,849.5 377.4,853.0 378.1,854.9 378.7,856.9 379.3,859.2 379.9,861.8 380.4,864.1 380.9,866.3 381.3,869.2 381.9,872.9 382.4,876.4 383.1,879.1 383.7,882.8 384.3,885.2 384.9,888.8 385.5,889.8 385.9,891.6 386.5,892.9 387.2,895.6 388.0,898.4 388.8,900.6 389.6,904.2 390.3,907.9 390.9,909.3 392.5,910.7 394.3,911.2 395.9,912.7 397.9,913.6 400.3,913.8 402.2,916.3 403.8,919.0 405.6,923.1 407.2,924.7 409.1,924.4 411.5,924.0 413.5,924.4 415.9,924.3 418.8,922.5 421.0,921.5 422.7,922.3 424.6,924.3 426.1,927.3 427.1,930.3 428.5,933.2 429.8,934.1 431.1,934.9 432.7,937.0 434.8,939.0 437.0,941.1 438.6,941.2 440.1,943.5 441.8,946.1 443.5,949.8 444.9,950.8 445.6,951.2 446.5,951.1 447.5,954.5 448.5,957.3 449.5,962.9 450.4,964.5 451.2,965.6 451.9,965.4 452.8,969.3 453.8,971.6 454.8,974.9 455.8,976.5 456.7,979.9 457.4,980.7 458.3,982.0 459.4,983.9 460.6,986.8 461.8,989.6 462.8,991.7 463.7,994.9 464.4,998.2 465.3,1000.4 466.3,1001.9 467.4,1002.9 468.4,1005.8 469.3,1006.8 470.0,1007.8 470.7,1009.6 471.6,1013.5 472.6,1017.6 473.6,1020.2 474.6,1023.3 475.5,1026.0 476.3,1027.5 477.5,1028.9 479.1,1030.5 480.8,1033.7 482.5,1034.9 483.8,1036.0 485.5,1037.1 487.6,1040.2 489.7,1041.6 491.3,1043.6 492.4,1045.7 493.7,1047.9 495.1,1051.1 496.5,1053.6 497.8,1056.5 498.9,1057.6 499.9,1059.8 501.2,1061.1 502.6,1062.9 504.0,1065.2 505.3,1067.6 506.4,1067.9 508.1,1069.2 510.1,1071.0 512.2,1073.3 513.9,1074.3 516.2,1075.6 519.1,1076.8 521.8,1078.6 523.1,1079.2 524.9,1080.1 527.0,1081.8 529.2,1083.2 531.4,1085.1 533.3,1087.8 534.9,1090.5 536.4,1091.7 538.3,1092.6 540.4,1094.5 542.5,1096.3 544.6,1098.6 546.4,1099.2 548.0,1099.8 549.8,1100.2 552.0,1102.6 554.5,1104.0 557.0,1105.8 559.2,1107.1 561.1,1107.2 562.6,1107.4 564.5,1108.9 566.5,1111.3 568.7,1113.6 570.7,1116.2 572.6,1118.0 574.1,1118.9 575.7,1120.1 577.6,1122.4 579.8,1124.6 582.0,1127.1 584.0,1129.5 585.9,1130.6 587.2,1130.9 589.4,1132.0 591.8,1133.4 594.1,1133.8 595.9,1134.8 597.9,1136.8 600.3,1138.8 602.7,1139.8 604.7,1141.1 606.1,1143.3 607.9,1145.7 609.8,1147.1 611.7,1148.8 613.4,1149.8 615.5,1149.9 618.5,1149.6 621.7,1150.5 624.6,1152.0 626.5,1153.3 627.4,1155.0 628.2,1158.1 628.8,1160.7 629.5,1162.9 630.1,1165.4 630.8,1168.0 632.5,1169.8 634.8,1170.3 637.3,1170.9 639.6,1171.9 641.2,1172.4 643.4,1172.9 645.9,1173.7 648.5,1174.8 650.8,1175.6 652.6,1176.0 654.9,1176.7 657.7,1178.5 660.7,1178.7 663.5,1178.6 665.7,1177.4 667.5,1178.3 669.8,1179.5 672.3,1181.4 674.7,1182.2 677.0,1182.5 678.8,1183.0 680.6,1184.1 682.8,1184.5 685.3,1184.7 687.7,1185.2 690.0,1186.4 691.9,1186.8 693.9,1187.8 696.5,1188.7 699.4,1189.5 702.3,1189.1 705.0,1189.7 707.2,1189.9 709.3,1190.3 711.8,1190.1 714.7,1191.2 717.6,1192.1 720.2,1192.8 722.4,1193.3 724.3,1193.8 726.7,1194.6 729.4,1195.1 732.3,1195.2 735.1,1195.2 737.7,1195.2 739.9,1196.5 741.6,1196.6 743.9,1196.6 746.4,1196.1 749.2,1195.9 752.0,1195.3 754.8,1194.4 757.4,1193.8 759.7,1193.5 761.7,1193.6 763.6,1194.3 765.9,1195.1 768.4,1195.8 771.2,1196.0 774.0,1196.3 776.7,1197.0 779.3,1197.1 781.6,1197.7 783.5,1198.2 785.4,1198.6 787.7,1198.4 790.3,1198.1 793.0,1198.9 795.8,1198.9 798.5,1198.9 801.1,1198.4 803.4,1199.4 805.3,1199.7 807.2,1199.5 809.6,1198.8 812.2,1197.8 815.1,1197.1 817.9,1196.2 820.7,1196.4 823.2,1196.2 825.4,1196.8 827.1,1196.6 829.5,1196.9 832.4,1197.1 835.3,1198.9 838.1,1200.0 840.3,1200.2 841.7,1199.3" fill="none" stroke="#000" stroke-width="2.2" stroke-linejoin="round" stroke-linecap="round" clip-path="url(#cl_b1)"/>
<path d="M168.8,1152.1 169.1,1153.0 169.6,1154.8 170.3,1157.8 171.0,1159.9 171.9,1162.1 172.8,1164.0 173.7,1167.7 174.7,1170.9 175.7,1174.1 176.6,1176.9 177.5,1180.0 178.3,1182.7 179.0,1184.6 179.6,1185.4 180.1,1185.8 181.9,1185.8 183.6,1183.2 185.1,1180.9 186.3,1180.3 187.9,1178.7 189.6,1175.9 191.3,1173.0 192.6,1171.5 195.0,1170.7 197.9,1170.1 200.2,1168.9 201.4,1167.5 202.8,1166.6 204.1,1164.8 205.2,1162.5 205.9,1159.9 206.7,1157.2 207.6,1155.1 208.5,1152.6 209.4,1150.7 210.2,1147.3 210.7,1144.9 211.4,1142.8 212.1,1140.5 213.0,1138.0 213.9,1134.8 214.7,1132.3 215.6,1128.8 216.4,1125.6 217.1,1123.7 217.7,1122.2 218.1,1120.4 218.5,1118.9 218.9,1117.4 219.4,1115.5 219.9,1112.1 220.4,1109.2 221.0,1106.3 221.5,1103.2 222.0,1099.4 222.6,1096.8 223.1,1094.6 223.6,1092.2 224.1,1089.7 224.5,1086.5 224.9,1084.0 225.3,1081.5 225.5,1079.8 225.8,1077.5 226.1,1075.2 226.5,1073.5 226.8,1071.1 227.2,1067.6 227.6,1063.1 228.0,1060.6 228.4,1059.8 228.8,1059.5 229.2,1057.1 229.6,1052.8 230.0,1047.8 230.4,1044.9 230.8,1043.0 231.2,1040.6 231.6,1037.1 231.9,1034.5 232.2,1031.9 232.5,1030.1 232.8,1029.4 233.0,1028.3 233.3,1025.4 233.6,1021.6 233.9,1020.2 234.2,1017.9 234.6,1015.1 234.9,1011.5 235.3,1009.0 235.7,1006.7 236.0,1004.2 236.4,1001.1 236.8,997.1 237.2,993.5 237.6,990.2 237.9,987.8 238.3,986.0 238.6,984.1 239.0,981.9 239.3,979.0 239.6,976.8 239.8,974.2 240.1,973.2 240.3,972.3 240.6,970.1 240.9,966.7 241.2,963.6 241.5,961.4 241.9,958.6 242.2,956.8 242.6,953.8 243.0,950.9 243.4,948.8 243.8,946.0 244.1,943.2 244.5,938.6 244.9,937.5 245.2,934.2 245.5,931.5 245.8,927.4 246.1,926.0 246.4,923.3 246.6,921.4 246.9,919.8 247.3,918.6 247.7,917.0 248.1,913.4 248.5,910.1 248.9,907.5 249.4,905.0 249.8,902.2 250.2,899.2 250.6,896.9 251.0,893.7 251.3,891.2 251.6,890.4 252.5,887.4 253.5,883.7 254.6,881.7 255.7,882.2 256.6,880.7 257.7,879.5 259.0,876.6 260.4,874.0 261.8,869.6 262.9,866.8 264.3,866.4 266.0,866.2 267.8,864.2 269.2,860.7 271.1,858.7 273.4,858.3 275.5,856.7 277.7,854.8 280.6,854.4 283.0,855.4 285.3,855.0 288.2,853.8 290.5,853.8 293.0,852.0 295.9,850.6 298.1,848.7 300.0,850.5 301.8,851.7 302.8,852.0 304.1,850.4 305.6,846.8 307.0,842.3 308.1,839.6 309.5,839.9 311.3,839.2 313.0,837.0 314.4,831.4 316.9,828.9 319.4,828.3 321.2,828.3 323.6,830.4 325.7,829.9 328.0,830.3 330.9,828.9 333.2,829.4 335.2,829.8 337.6,830.6 339.5,830.9 341.1,827.2 343.0,823.3 344.5,822.1 346.4,821.9 348.3,821.9 350.8,822.4 353.3,825.5 354.2,827.8 355.2,833.2 356.2,834.3 357.0,833.9 357.9,833.7 358.9,837.7 359.9,842.8 360.8,846.2 361.4,846.7 362.3,847.5 363.3,851.1 364.2,854.1 365.1,857.0 365.8,857.9 366.3,861.0 366.9,863.8 367.6,869.2 368.3,872.8 369.0,874.6 369.7,875.4 370.3,877.9 370.8,880.5 371.5,882.6 372.4,885.2 373.4,888.2 374.3,891.3 375.2,892.7 375.9,894.5 376.6,896.8 377.4,899.8 378.4,902.1 379.3,905.0 380.2,907.6 380.9,910.2 382.0,913.6 383.3,916.0 384.7,918.9 385.9,921.1 386.9,923.7 388.3,924.7 389.7,927.4 391.1,928.6 392.2,930.3 393.3,930.5 394.6,934.2 396.0,937.2 397.4,940.9 398.5,940.7 400.4,941.8 402.8,941.6 404.7,942.5 406.1,944.6 407.8,948.7 409.5,952.5 411.0,953.5 412.6,953.3 414.7,953.2 416.8,954.3 418.5,957.2 419.8,959.8 421.4,962.4 423.2,963.6 424.8,964.3 426.1,966.2 427.4,968.5 429.0,971.0 430.7,972.0 432.3,974.3 433.6,975.4 435.3,977.2 437.4,977.8 439.5,980.7 441.1,981.7 442.2,983.8 443.5,985.6 444.9,989.7 446.3,991.5 447.6,993.8 448.7,994.5 449.5,997.3 450.6,999.3 451.8,1002.9 453.0,1004.8 454.2,1008.0 455.3,1010.6 456.2,1011.7 457.2,1013.0 458.5,1016.5 459.9,1020.7 461.4,1022.2 462.7,1021.7 463.7,1022.9 464.5,1025.0 465.4,1027.7 466.4,1030.9 467.5,1034.5 468.6,1038.2 469.6,1039.7 470.5,1042.2 471.2,1043.7 472.0,1045.0 472.9,1047.1 473.9,1049.7 475.0,1053.2 476.1,1055.2 477.1,1057.6 478.0,1060.1 478.8,1062.4 480.1,1064.3 481.7,1065.7 483.4,1067.4 485.0,1069.7 486.3,1072.0 487.6,1073.2 489.2,1075.5 490.9,1077.8 492.5,1080.7 493.8,1082.4 495.5,1083.0 497.6,1084.0 499.7,1085.0 501.4,1086.4 503.1,1087.2 505.2,1088.7 507.3,1091.5 508.9,1094.5 511.6,1097.2 513.9,1097.7 517.4,1097.6 518.3,1098.0 519.5,1099.8 521.0,1102.3 522.6,1105.7 524.2,1108.7 525.8,1111.0 527.2,1113.0 528.3,1114.3 529.9,1115.4 531.9,1116.7 534.0,1118.5 536.1,1120.0 537.9,1121.5 539.2,1122.5 541.5,1122.0 543.8,1119.4 545.8,1118.0 547.2,1118.6 549.0,1120.2 551.0,1122.3 552.9,1123.8 554.5,1125.6 555.9,1126.7 557.8,1128.5 559.9,1130.2 562.0,1132.0 563.9,1134.1 565.4,1135.9 566.9,1136.5 568.8,1137.3 570.9,1138.4 572.9,1140.3 574.8,1142.1 576.3,1144.5 578.2,1145.7 580.5,1146.3 583.0,1147.3 585.4,1149.3 587.2,1150.2 589.1,1151.2 591.4,1152.5 593.9,1154.5 596.3,1156.1 598.1,1156.9 600.0,1157.2 602.3,1157.2 604.7,1159.3 607.1,1160.9 609.0,1162.5 610.8,1162.5 613.0,1163.2 615.5,1164.2 618.0,1164.4 620.3,1165.2 622.1,1165.4 623.9,1166.9 626.2,1167.6 628.7,1169.1 631.1,1171.2 633.4,1172.0 635.2,1173.3 637.0,1173.3 639.3,1174.4 641.7,1174.6 644.2,1174.9 646.5,1175.1 648.3,1175.3 650.1,1176.5 652.3,1177.4 654.8,1178.2 657.3,1179.4 659.5,1180.8 661.4,1181.9 663.2,1182.1 665.4,1182.3 667.9,1182.9 670.4,1183.9 672.6,1184.5 674.4,1185.1 676.3,1185.9 678.5,1186.7 681.0,1187.9 683.5,1189.1 685.7,1189.6 687.5,1189.9 689.7,1190.1 692.4,1190.1 695.3,1189.7 698.2,1190.8 700.6,1191.5 702.5,1192.0 704.8,1192.2 707.5,1193.7 710.4,1194.1 713.2,1194.2 715.8,1194.5 718.1,1195.8 719.8,1196.6 722.1,1196.9 724.6,1196.5 727.4,1196.5 730.2,1196.8 733.0,1197.6 735.6,1198.0 737.9,1198.4 739.9,1198.4 741.8,1198.2 744.1,1198.4 746.6,1198.6 749.4,1197.9 752.2,1196.7 754.9,1196.2 757.4,1196.1 759.7,1195.8 761.7,1195.2 763.6,1195.2 765.9,1196.1 768.4,1197.5 771.2,1198.2 774.0,1198.4 776.7,1198.6 779.3,1198.8 781.6,1199.5 783.5,1199.7 785.4,1200.0 787.7,1200.1 790.3,1201.1 793.0,1201.2 795.8,1201.1 798.5,1200.9 801.1,1201.5 803.4,1202.0 805.3,1201.3 807.2,1200.8 809.6,1199.3 812.2,1199.5 815.1,1199.1 817.9,1199.4 820.7,1198.6 823.2,1198.5 825.4,1198.5 827.1,1198.0 829.5,1197.5 832.4,1197.3 835.3,1198.7 838.1,1200.3 840.3,1202.0 841.7,1202.2" fill="none" stroke="#000" stroke-width="2.2" stroke-linejoin="round" stroke-linecap="round" clip-path="url(#cl_b1)"/>
<path d="M168.8,1189.5 170.4,1189.0 173.0,1188.7 175.1,1187.7 177.5,1189.8 180.1,1190.9 181.6,1190.5 183.7,1189.4 185.9,1187.7 187.6,1185.9 189.3,1183.7 191.4,1182.5 193.5,1181.3 195.1,1180.2 196.4,1179.1 198.0,1177.6 199.8,1176.2 201.4,1173.8 202.7,1171.0 203.3,1169.6 204.1,1167.7 205.0,1165.5 206.0,1161.9 206.9,1160.1 207.9,1158.1 208.7,1156.1 209.5,1153.9 210.2,1151.3 210.8,1149.5 211.5,1147.6 212.3,1145.6 213.1,1143.0 214.0,1140.1 214.8,1137.2 215.7,1133.2 216.4,1130.7 217.1,1129.4 217.7,1128.2 218.1,1125.2 218.6,1121.5 219.1,1117.9 219.7,1116.0 220.3,1114.0 220.9,1112.8 221.5,1110.2 222.1,1108.2 222.7,1104.8 223.3,1102.0 223.9,1098.0 224.4,1095.6 224.9,1093.3 225.3,1091.9 225.6,1089.9 225.9,1087.3 226.2,1085.2 226.6,1083.3 227.0,1081.1 227.5,1077.6 227.9,1075.4 228.3,1072.3 228.8,1069.9 229.3,1066.9 229.7,1065.4 230.2,1060.8 230.6,1057.2 231.0,1053.5 231.4,1052.4 231.8,1049.8 232.2,1048.2 232.5,1045.7 232.8,1043.6 233.1,1041.1 233.4,1039.8 233.8,1038.2 234.2,1035.6 234.6,1032.9 235.0,1031.2 235.5,1028.7 235.9,1024.2 236.4,1020.5 236.8,1018.2 237.3,1015.9 237.7,1012.7 238.2,1009.4 238.6,1007.1 239.0,1004.3 239.4,1000.5 239.7,997.5 240.0,996.5 240.3,996.7 240.7,994.9 241.1,991.9 241.6,988.2 242.0,985.3 242.5,983.4 243.1,980.8 243.6,977.8 244.1,974.6 244.6,971.0 245.1,968.0 245.5,965.1 245.9,964.0 246.3,959.8 246.6,959.3 247.1,957.2 247.6,956.6 248.2,952.8 248.8,949.3 249.5,946.2 250.1,943.1 250.7,941.5 251.2,940.1 251.6,939.1 252.2,935.2 252.9,932.5 253.7,929.3 254.5,927.1 255.3,923.8 256.1,922.4 256.6,919.5 257.7,917.4 259.1,914.6 260.5,913.4 261.7,912.1 263.0,911.7 264.7,908.9 266.5,905.2 267.9,904.1 270.2,904.3 273.1,903.6 275.5,902.5 277.8,903.5 280.6,906.0 283.0,907.2 285.4,907.2 288.2,907.3 290.5,906.6 292.6,907.1 295.0,906.5 296.8,905.8 297.8,904.2 298.8,901.7 299.8,899.9 300.6,898.7 303.1,900.5 303.8,898.3 304.8,895.4 306.0,891.8 307.1,889.2 308.1,886.8 309.4,885.3 311.2,882.9 313.0,881.0 314.4,881.6 316.4,881.1 318.8,880.6 320.6,877.8 323.3,876.3 325.7,875.1 326.4,876.7 327.2,879.8 328.2,883.1 330.3,885.9 333.4,886.2 335.7,886.2 338.3,887.5 340.7,888.6 342.3,886.0 344.2,882.6 345.7,880.6 348.1,882.8 350.8,886.2 353.0,886.8 356.0,887.4 358.3,888.2 360.0,889.4 361.8,889.6 363.3,890.8 363.9,893.1 364.6,895.7 365.4,898.2 366.2,899.8 367.0,903.4 367.7,907.1 368.3,912.4 368.8,913.9 369.4,915.0 370.1,915.7 370.8,919.7 371.6,923.5 372.2,925.5 372.8,927.8 373.4,930.6 373.9,933.4 374.4,935.4 375.1,937.7 375.8,940.7 376.5,943.6 377.2,946.0 377.8,947.8 378.4,949.3 379.2,952.1 380.3,954.9 381.5,958.8 382.7,961.1 383.8,963.2 384.6,963.6 386.6,964.3 389.0,965.7 390.9,967.3 392.9,969.9 395.2,971.1 397.2,972.1 398.6,973.3 400.3,976.2 402.0,977.5 403.5,977.6 405.1,977.8 407.3,980.4 409.4,981.7 411.0,981.6 413.5,982.3 416.0,983.5 418.3,983.5 421.3,982.5 423.6,983.1 425.2,984.3 427.1,987.3 428.6,989.9 429.6,993.2 431.0,994.8 432.4,996.4 433.6,998.1 434.3,1000.1 435.1,1002.5 436.2,1004.7 437.2,1006.8 438.4,1009.6 439.4,1013.2 440.4,1015.3 441.1,1016.3 441.8,1017.8 442.6,1020.6 443.5,1022.6 444.4,1024.2 445.4,1026.9 446.3,1029.8 447.2,1033.4 448.0,1036.4 448.7,1039.3 450.3,1042.2 452.4,1042.1 454.5,1041.8 456.2,1040.5 457.5,1042.8 459.1,1046.3 460.8,1051.0 462.4,1053.4 463.7,1055.0 464.8,1056.2 466.1,1058.8 467.5,1060.6 468.9,1062.4 470.2,1062.9 471.2,1064.8 472.1,1067.5 473.2,1071.0 474.4,1073.0 475.6,1075.7 476.8,1078.7 477.9,1080.6 478.8,1080.4 480.4,1082.6 482.5,1085.8 484.6,1087.8 486.3,1088.4 488.6,1089.4 491.5,1090.2 493.8,1091.6 495.5,1092.7 497.5,1093.9 499.6,1095.9 501.4,1098.1 503.1,1099.8 505.4,1101.4 507.9,1104.2 510.0,1106.1 511.4,1106.7 513.1,1106.7 514.4,1108.5 516.6,1110.5 519.1,1111.9 521.8,1113.2 524.3,1114.9 526.2,1116.2 528.0,1117.2 530.2,1118.2 532.7,1120.4 535.2,1121.1 537.4,1121.7 539.2,1122.1 541.1,1124.2 543.3,1126.8 545.8,1128.8 548.3,1129.8 550.5,1131.3 552.3,1132.6 553.9,1134.5 555.7,1135.6 557.8,1137.9 559.9,1139.6 562.0,1141.0 563.9,1141.4 565.4,1142.9 567.2,1144.2 569.5,1146.1 572.0,1146.7 574.4,1148.0 576.7,1148.8 578.5,1150.4 580.3,1151.9 582.6,1152.2 585.0,1152.2 587.5,1152.8 589.8,1154.3 591.6,1155.0 593.4,1154.9 595.7,1155.8 598.1,1157.3 600.6,1158.3 602.8,1158.5 604.7,1158.7 606.5,1160.4 608.7,1162.1 611.2,1163.3 613.7,1164.1 615.9,1165.4 617.7,1166.1 619.6,1166.1 621.8,1165.7 624.3,1166.9 626.8,1168.2 629.0,1170.1 630.8,1171.5 632.7,1172.0 634.9,1172.0 637.4,1172.5 639.8,1174.2 642.1,1175.5 643.9,1176.4 645.7,1176.9 648.0,1177.8 650.5,1178.6 652.9,1180.0 655.2,1180.6 657.0,1180.9 659.2,1181.6 662.0,1183.2 665.0,1184.1 667.8,1183.9 670.1,1183.9 672.3,1184.9 675.1,1186.2 678.1,1186.9 680.9,1187.3 683.2,1187.5 684.9,1188.0 687.0,1188.4 689.3,1189.5 691.7,1190.6 694.1,1191.3 696.2,1191.5 697.9,1191.7 700.1,1192.5 702.6,1193.7 705.3,1194.8 708.2,1195.8 711.0,1195.8 713.7,1196.4 716.1,1196.7 718.1,1198.0 720.0,1198.2 722.3,1198.7 724.8,1198.9 727.6,1199.6 730.3,1199.8 733.1,1200.6 735.6,1201.3 737.9,1201.6 739.9,1201.0 741.8,1200.7 744.1,1200.8 746.6,1201.0 749.4,1201.2 752.2,1200.7 754.9,1200.1 757.4,1199.1 759.7,1198.4 761.7,1198.7 763.6,1199.3 765.9,1199.8 768.4,1199.9 771.2,1201.0 774.0,1201.5 776.7,1201.8 779.3,1201.6 781.6,1201.3 783.5,1201.0 785.3,1201.3 787.5,1202.2 789.9,1202.6 792.4,1202.2 795.1,1201.6 797.7,1201.9 800.4,1202.7 802.9,1203.5 805.3,1203.8 806.9,1203.4 808.9,1203.1 811.3,1202.7 813.9,1202.6 816.8,1202.8 819.8,1203.0 822.9,1203.7 826.0,1203.4 829.0,1202.7 831.9,1202.1 834.5,1202.3 836.9,1202.6 839.0,1202.4 840.6,1202.2 841.7,1202.5" fill="none" stroke="#000" stroke-width="2.2" stroke-linejoin="round" stroke-linecap="round" clip-path="url(#cl_b1)"/>
<path d="M168.8,1193.7 170.3,1193.4 172.8,1194.4 175.5,1193.8 177.6,1193.7 179.3,1192.8 181.4,1191.0 183.5,1188.8 185.1,1188.1 187.4,1187.3 190.3,1186.1 192.6,1184.3 194.3,1183.8 196.5,1182.8 198.6,1181.5 200.2,1179.2 201.4,1177.2 202.8,1174.5 204.1,1171.6 205.2,1168.9 206.0,1167.1 207.0,1164.0 208.1,1160.7 209.2,1158.3 210.2,1156.9 210.8,1155.6 211.5,1153.7 212.4,1150.9 213.4,1148.1 214.3,1145.8 215.3,1143.8 216.2,1141.5 217.1,1138.8 217.7,1137.3 218.3,1135.7 219.0,1133.8 219.8,1130.3 220.6,1126.9 221.5,1124.2 222.4,1122.3 223.2,1119.5 224.0,1116.7 224.7,1113.8 225.3,1111.8 225.7,1109.7 226.3,1107.4 226.9,1104.4 227.6,1101.2 228.3,1098.8 229.0,1095.7 229.7,1093.4 230.4,1090.7 231.1,1088.5 231.7,1085.5 232.3,1083.0 232.8,1081.3 233.2,1079.5 233.8,1076.6 234.3,1073.4 235.0,1070.9 235.6,1068.7 236.3,1064.6 236.9,1061.4 237.6,1058.7 238.3,1057.3 238.9,1055.5 239.4,1053.0 239.9,1050.0 240.3,1048.8 240.8,1047.6 241.5,1046.4 242.1,1042.5 242.8,1039.6 243.5,1036.1 244.2,1034.1 244.9,1031.1 245.5,1027.8 246.1,1025.5 246.6,1023.6 247.3,1020.8 248.2,1017.5 249.2,1014.3 250.2,1011.8 251.2,1010.2 252.1,1008.5 252.9,1007.6 253.7,1005.0 254.8,1003.3 256.1,1000.4 257.3,997.8 258.6,994.8 259.6,991.4 260.4,989.9 263.0,988.2 265.4,987.6 267.9,984.5 270.4,982.9 271.9,985.7 273.8,989.9 275.5,992.6 277.7,991.7 280.6,989.0 283.0,987.9 284.9,987.6 287.2,987.5 289.3,986.4 291.1,984.9 293.6,983.5 296.1,982.2 298.1,982.3 299.8,980.3 301.9,976.5 304.0,973.6 305.6,972.5 307.6,971.4 309.9,969.5 311.9,968.6 313.8,968.4 316.1,968.3 318.1,968.2 320.4,969.6 323.3,971.5 325.7,972.3 328.1,971.5 331.0,971.7 333.2,971.7 335.9,970.9 338.2,968.6 340.1,971.4 342.0,974.5 343.3,974.3 345.1,971.2 347.0,969.7 349.1,969.8 352.1,970.2 355.0,969.9 357.0,969.6 358.5,970.5 359.7,972.3 360.8,975.9 361.9,978.2 363.3,980.7 364.7,983.0 365.8,985.5 366.9,989.2 368.3,992.1 369.7,995.8 370.8,998.9 371.7,1000.8 372.8,1001.4 373.9,1002.6 375.0,1004.4 375.9,1008.1 376.6,1010.1 377.4,1012.4 378.4,1014.9 379.3,1016.7 380.2,1019.3 380.9,1020.8 382.4,1024.7 384.2,1027.2 385.9,1028.8 387.1,1030.0 388.7,1031.0 390.4,1032.5 392.1,1034.3 393.4,1036.1 394.7,1037.1 396.3,1038.9 398.0,1041.4 399.6,1044.1 401.0,1046.4 402.9,1047.3 405.4,1046.5 407.9,1044.2 409.7,1044.6 411.2,1045.3 412.8,1048.1 414.5,1051.1 416.0,1054.6 417.1,1055.7 418.5,1056.2 420.2,1058.6 421.9,1061.4 423.6,1065.4 425.0,1066.9 426.1,1067.0 428.2,1067.2 430.5,1066.6 432.3,1067.2 433.7,1067.7 435.3,1070.0 437.0,1073.0 438.6,1074.9 439.6,1075.7 441.0,1076.2 442.5,1079.1 444.2,1081.7 445.8,1084.5 447.4,1085.7 448.7,1087.2 450.0,1089.4 451.8,1092.0 453.8,1093.7 455.9,1094.8 457.9,1097.1 459.7,1098.7 461.2,1099.9 462.5,1101.4 464.0,1103.7 465.7,1105.2 467.5,1106.4 469.3,1108.3 471.0,1110.7 472.5,1112.2 473.8,1113.8 475.2,1116.3 477.0,1118.3 479.0,1120.3 481.1,1120.9 483.0,1123.7 484.8,1125.8 486.3,1126.9 488.0,1126.6 490.2,1127.3 492.6,1128.1 495.0,1130.3 497.1,1132.0 498.9,1134.2 500.7,1134.2 502.9,1135.3 505.4,1136.7 507.8,1139.3 509.9,1140.4 511.4,1140.2 514.8,1139.5 517.4,1139.3 519.5,1138.7 521.8,1138.6 523.5,1139.2 526.0,1140.9 528.5,1142.9 530.5,1145.2 532.0,1146.5 533.7,1148.1 535.7,1149.8 537.6,1151.9 539.2,1153.6 540.9,1155.1 543.2,1156.7 545.7,1158.2 548.3,1158.8 550.6,1159.9 552.3,1160.4 554.9,1160.8 558.1,1160.9 561.1,1162.3 563.2,1163.6 565.4,1164.8 567.6,1165.9 569.8,1167.0 571.4,1167.7 573.7,1167.8 576.2,1169.6 578.7,1170.9 580.7,1172.9 582.8,1173.2 585.5,1174.2 588.5,1174.7 591.4,1175.1 593.8,1175.6 595.8,1176.0 598.5,1176.3 601.4,1176.1 604.3,1176.9 607.0,1178.2 609.0,1179.1 611.4,1179.6 614.2,1180.4 617.1,1181.5 619.9,1182.5 622.1,1183.0 624.3,1183.1 627.0,1183.5 629.9,1184.4 632.8,1185.4 635.2,1186.0 637.1,1186.6 639.5,1186.6 642.3,1186.0 645.2,1185.8 648.0,1186.9 650.6,1188.4 652.6,1189.0 654.7,1188.7 657.2,1188.1 659.9,1187.9 662.8,1188.4 665.6,1189.2 668.0,1189.5 670.1,1189.2 672.1,1190.0 674.6,1190.9 677.4,1191.8 680.2,1192.0 683.0,1192.9 685.5,1194.2 687.5,1194.2 689.6,1193.7 692.1,1193.2 695.0,1193.7 697.9,1194.5 700.7,1195.1 703.1,1195.8 705.0,1196.3 707.3,1197.0 709.9,1197.9 712.7,1198.1 715.5,1198.5 718.1,1198.2 719.7,1198.4 721.9,1198.5 724.4,1198.2 727.1,1198.2 730.0,1198.3 732.9,1198.7 735.5,1198.9 737.9,1199.2 739.9,1199.5 741.8,1199.8 744.1,1199.2 746.6,1199.3 749.4,1198.9 752.2,1199.5 754.9,1199.3 757.4,1199.5 759.7,1199.7 761.7,1199.8 763.6,1200.5 765.9,1200.9 768.4,1201.3 771.2,1201.0 774.0,1201.7 776.7,1201.4 779.3,1201.1 781.6,1200.4 783.5,1200.5 785.3,1200.6 787.5,1200.8 789.9,1201.7 792.4,1202.3 795.1,1202.7 797.7,1202.8 800.4,1203.0 802.9,1202.9 805.3,1203.5 806.9,1203.9 808.9,1203.9 811.3,1203.5 813.9,1203.3 816.8,1203.1 819.8,1202.8 822.9,1203.0 826.0,1203.7 829.0,1203.7 831.9,1203.8 834.5,1203.9 836.9,1203.9 839.0,1203.2 840.6,1203.4 841.7,1203.9" fill="none" stroke="#000" stroke-width="2.2" stroke-linejoin="round" stroke-linecap="round" clip-path="url(#cl_b1)"/>
<path d="M168.8,1201.2 170.2,1201.0 172.5,1200.7 175.3,1199.9 178.0,1199.7 180.1,1199.3 182.2,1199.3 184.9,1198.5 187.7,1197.4 190.5,1195.9 192.6,1195.3 194.8,1194.3 197.6,1192.9 200.6,1191.2 203.3,1190.0 205.2,1189.3 207.1,1188.1 209.1,1186.9 211.0,1185.2 212.7,1183.5 214.3,1181.6 216.5,1179.4 218.8,1177.7 221.0,1176.3 222.8,1175.1 224.5,1173.2 226.6,1170.6 228.9,1168.2 231.1,1166.6 232.8,1165.7 234.5,1164.7 236.6,1163.7 238.9,1161.8 241.1,1159.4 242.8,1156.9 244.4,1155.2 246.4,1152.5 248.6,1150.4 250.8,1148.9 252.8,1148.2 254.1,1146.0 256.2,1144.6 258.3,1143.4 260.4,1144.1 262.2,1143.6 264.8,1144.2 267.8,1143.6 270.6,1142.8 273.0,1141.9 275.0,1142.1 277.6,1143.7 280.5,1144.4 283.4,1144.2 286.0,1143.5 288.0,1143.3 289.9,1142.9 292.0,1141.5 294.4,1139.5 296.7,1138.5 298.8,1137.3 300.6,1136.4 302.7,1135.2 305.5,1135.8 308.4,1136.3 311.1,1137.7 313.1,1138.0 315.5,1137.3 318.4,1135.9 321.2,1135.1 323.2,1134.8 325.3,1133.2 327.6,1131.7 329.4,1131.6 331.3,1132.8 333.6,1134.3 335.7,1135.5 337.7,1137.1 340.6,1138.2 343.5,1139.1 345.7,1138.8 348.0,1138.5 350.8,1137.2 353.6,1136.5 355.8,1136.3 358.0,1137.0 360.7,1138.2 363.5,1139.1 365.8,1139.7 367.8,1140.4 370.5,1141.5 373.3,1143.1 376.1,1144.2 378.4,1144.3 380.0,1144.2 382.2,1145.9 384.5,1148.3 387.0,1150.6 389.5,1152.3 391.7,1153.4 393.4,1153.4 395.5,1153.6 398.1,1153.2 401.0,1152.5 403.8,1151.5 406.4,1151.6 408.5,1151.8 410.3,1151.4 412.4,1151.9 414.8,1153.3 417.3,1155.6 419.6,1156.4 421.8,1157.0 423.6,1157.9 425.6,1158.8 428.2,1158.9 431.0,1159.6 433.8,1160.2 436.4,1161.4 438.6,1161.6 440.3,1162.6 442.5,1163.2 445.0,1165.8 447.6,1168.2 450.2,1170.5 452.6,1171.1 454.7,1171.9 456.2,1172.1 458.7,1172.9 461.3,1173.5 463.9,1174.3 466.2,1174.7 467.8,1175.7 470.0,1175.7 472.5,1175.7 475.1,1176.1 477.5,1178.4 479.7,1180.5 481.3,1182.2 483.7,1182.5 486.3,1182.1 488.9,1182.1 491.3,1183.5 493.3,1184.6 495.9,1184.9 498.9,1185.7 501.8,1187.0 504.5,1187.4 506.4,1187.1 508.9,1187.6 511.6,1188.2 514.3,1188.4 516.4,1188.2 518.5,1188.4 521.0,1188.0 523.6,1188.2 526.2,1188.2 527.9,1188.3 530.3,1188.4 533.1,1188.2 536.0,1187.7 538.9,1187.6 541.5,1188.4 543.6,1188.4 545.7,1188.1 548.2,1188.0 551.1,1188.4 554.0,1188.5 556.8,1189.2 559.2,1189.0 561.1,1188.9 563.5,1188.6 566.3,1189.3 569.2,1190.3 571.9,1191.6 574.1,1192.3 576.4,1192.4 579.2,1192.4 582.2,1193.7 585.0,1195.2 587.2,1196.0 589.5,1196.1 592.3,1197.0 595.3,1197.9 598.1,1197.4 600.3,1196.1 602.5,1195.4 605.4,1195.2 608.3,1195.1 611.1,1195.2 613.4,1195.0 615.6,1195.1 618.4,1195.0 621.4,1195.6 624.2,1195.5 626.5,1195.2 628.7,1195.7 631.5,1197.2 634.5,1198.4 637.3,1198.3 639.6,1197.6 641.7,1198.6 644.5,1199.9 647.4,1201.1 650.2,1201.1 652.6,1201.1 654.5,1201.0 656.9,1200.9 659.7,1200.6 662.6,1200.5 665.5,1200.1 668.0,1200.5 670.1,1200.0 672.1,1200.0 674.6,1199.6 677.4,1200.2 680.2,1200.8 683.0,1201.5 685.5,1201.8 687.5,1202.6 689.6,1202.0 692.1,1201.6 695.0,1201.1 697.9,1201.1 700.7,1200.7 703.1,1200.4 705.0,1200.8 707.5,1201.1 710.5,1201.3 713.6,1201.1 716.3,1201.2 718.1,1201.9 720.2,1204.5 722.4,1206.6 724.3,1206.5 727.2,1205.6 730.4,1205.3 733.4,1205.2 735.5,1205.9 737.5,1204.4 739.7,1202.7 741.9,1201.1 744.2,1201.8 745.9,1202.3 748.2,1202.5 750.9,1202.5 753.8,1203.0 756.7,1203.8 759.4,1205.0 761.7,1205.5 763.5,1205.0 765.7,1204.2 768.2,1204.4 771.0,1204.7 773.8,1204.7 776.6,1203.7 779.2,1203.3 781.5,1202.3 783.5,1202.4 785.4,1202.5 787.7,1203.2 790.3,1203.2 793.0,1203.1 795.8,1202.4 798.5,1203.0 801.1,1203.3 803.4,1203.5 805.3,1202.7 807.2,1202.7 809.6,1203.3 812.2,1203.6 815.1,1203.9 817.9,1203.8 820.7,1204.3 823.2,1204.0 825.4,1204.5 827.1,1204.3 829.5,1204.9 832.4,1204.3 835.3,1204.6 838.1,1205.2 840.3,1205.6 841.7,1205.1" fill="none" stroke="#000" stroke-width="2.2" stroke-linejoin="round" stroke-linecap="round" clip-path="url(#cl_b1)"/>
<path d="M168.8,1152 L180.2,1188.6 L184,1183" fill="none" stroke="#000" stroke-width="3.4" stroke-linejoin="round" clip-path="url(#cl_b1)"/>
<line x1="168.1" y1="674.7" x2="842.3" y2="674.7" stroke="#a8a8a8" stroke-width="1"/>
<line x1="841.5" y1="674.2" x2="841.5" y2="1212.5" stroke="#a8a8a8" stroke-width="1"/>
<line x1="168.1" y1="673.2" x2="168.1" y2="1213.6" stroke="#000" stroke-width="2.2"/>
<line x1="167.0" y1="1212.5" x2="842.9" y2="1212.5" stroke="#000" stroke-width="2.2"/>
<line x1="242.7" y1="1212.5" x2="242.7" y2="1201.0" stroke="#000" stroke-width="2.2"/>
<line x1="542.7" y1="1212.5" x2="542.7" y2="1201.0" stroke="#000" stroke-width="2.2"/>
<line x1="842.7" y1="1212.5" x2="842.7" y2="1201.0" stroke="#000" stroke-width="2.2"/>
<line x1="392.7" y1="1212.5" x2="392.7" y2="1206.0" stroke="#000" stroke-width="2.2"/>
<line x1="692.7" y1="1212.5" x2="692.7" y2="1206.0" stroke="#000" stroke-width="2.2"/>
<text transform="translate(241.8 1250.0) scale(1 1.05)" font-size="32.5" text-anchor="middle">400</text>
<text transform="translate(541.8 1250.0) scale(1 1.05)" font-size="32.5" text-anchor="middle">500</text>
<text transform="translate(841.8 1250.0) scale(1 1.05)" font-size="32.5" text-anchor="middle">600</text>
<line x1="168.1" y1="758.4" x2="179.6" y2="758.4" stroke="#000" stroke-width="2.2"/>
<line x1="168.1" y1="870.6" x2="179.6" y2="870.6" stroke="#000" stroke-width="2.2"/>
<line x1="168.1" y1="982.6" x2="179.6" y2="982.6" stroke="#000" stroke-width="2.2"/>
<line x1="168.1" y1="1094.6" x2="179.6" y2="1094.6" stroke="#000" stroke-width="2.2"/>
<line x1="168.1" y1="1207.0" x2="179.6" y2="1207.0" stroke="#000" stroke-width="2.2"/>
<line x1="168.1" y1="702.4" x2="174.6" y2="702.4" stroke="#000" stroke-width="2.2"/>
<line x1="168.1" y1="814.5" x2="174.6" y2="814.5" stroke="#000" stroke-width="2.2"/>
<line x1="168.1" y1="926.6" x2="174.6" y2="926.6" stroke="#000" stroke-width="2.2"/>
<line x1="168.1" y1="1038.6" x2="174.6" y2="1038.6" stroke="#000" stroke-width="2.2"/>
<line x1="168.1" y1="1150.5" x2="174.6" y2="1150.5" stroke="#000" stroke-width="2.2"/>
<text transform="translate(156.2 769.7) scale(1 1.05)" font-size="32.5" text-anchor="end">8,0x10<tspan font-size="18.7" dy="-15.3">4</tspan></text>
<text transform="translate(156.2 881.9) scale(1 1.05)" font-size="32.5" text-anchor="end">6,0x10<tspan font-size="18.7" dy="-15.3">4</tspan></text>
<text transform="translate(156.2 993.9) scale(1 1.05)" font-size="32.5" text-anchor="end">4,0x10<tspan font-size="18.7" dy="-15.3">4</tspan></text>
<text transform="translate(156.2 1105.9) scale(1 1.05)" font-size="32.5" text-anchor="end">2,0x10<tspan font-size="18.7" dy="-15.3">4</tspan></text>
<text transform="translate(156.2 1212.2) scale(1 1.05)" font-size="32.5" text-anchor="end">0,0</text>
<text transform="translate(28.9 1138.7) rotate(-90) scale(1 1.03)" font-size="35.45" font-weight="bold">PL Intensity (counts)</text>
<text transform="translate(472.6 1282.1) scale(1 1.03)" font-size="35.3" font-weight="bold" text-anchor="middle">Wavelenghts (nm)</text>
<text transform="translate(175.6 716.0) scale(1 1.03)" font-size="33" font-weight="bold">b<tspan font-size="18.5" dy="11.6" dx="0.5">1</tspan></text>
<text transform="translate(822.3 714.6) scale(1 1.03)" font-size="33.3" font-weight="bold" text-anchor="end">S-SWNTs</text>
<rect x="694.5" y="729.5" width="127.0" height="254.0" fill="#fff" stroke="#333" stroke-width="1"/>
<line x1="706.3" y1="770.8" x2="770.9" y2="770.8" stroke="#000" stroke-width="2.0"/>
<text transform="translate(777.5 780.6) scale(1 1.05)" font-size="27.2">30</text>
<line x1="706.3" y1="805.4" x2="770.9" y2="805.4" stroke="#000" stroke-width="2.0"/>
<text transform="translate(777.5 815.2) scale(1 1.05)" font-size="27.2">25</text>
<line x1="706.3" y1="839.8" x2="770.9" y2="839.8" stroke="#000" stroke-width="2.0"/>
<text transform="translate(777.5 849.6) scale(1 1.05)" font-size="27.2">20</text>
<line x1="706.3" y1="874.3" x2="770.9" y2="874.3" stroke="#000" stroke-width="2.0"/>
<text transform="translate(777.5 884.1) scale(1 1.05)" font-size="27.2">15</text>
<line x1="706.3" y1="908.5" x2="770.9" y2="908.5" stroke="#000" stroke-width="2.0"/>
<text transform="translate(777.5 918.3) scale(1 1.05)" font-size="27.2">10</text>
<line x1="706.3" y1="943.0" x2="770.9" y2="943.0" stroke="#000" stroke-width="2.0"/>
<text transform="translate(785.0 952.8) scale(1 1.05)" font-size="27.2">5</text>
<line x1="668.0" y1="748.1" x2="668.0" y2="956.0" stroke="#000" stroke-width="1.6"/>
<path d="M668,740.1 L664.8,752.1 L671.2,752.1 Z" fill="#000"/>
<text transform="translate(622.8 1032.4) scale(1 1.03)" font-size="33" font-weight="bold"><tspan font-family="'Liberation Serif', 'DejaVu Serif', serif" font-weight="normal" font-size="34">λ</tspan><tspan font-size="20" dy="10.5">exc</tspan><tspan dy="-10.5"> = 350 nm</tspan></text>
<text transform="translate(333.8 732.5) scale(1 1.03)" font-size="32.4" font-weight="bold">437</text>
<text transform="translate(227.0 809.8) scale(1 1.03)" font-size="32.4" font-weight="bold">409</text>
<text transform="translate(393.0 878.8) scale(1 1.03)" font-size="32.4" font-weight="bold">464</text>
<text transform="translate(514.3 1044.0) scale(1 1.03)" font-size="32.4" font-weight="bold">492</text>
<path d="M168.8,1853.2 170.5,1852.4 172.7,1851.2 175.2,1849.8 177.6,1847.0 178.7,1845.0 179.7,1842.9 180.5,1841.4 181.3,1839.5 182.0,1837.1 182.8,1834.4 183.8,1831.9 184.8,1829.6 185.7,1827.5 186.5,1825.2 187.3,1822.9 188.1,1820.3 189.0,1818.0 190.1,1815.8 191.7,1812.8 193.2,1810.6 194.7,1808.2 196.2,1806.2 197.6,1803.8 199.2,1801.6 200.2,1799.4 201.3,1797.6 202.7,1795.2 203.7,1793.4 204.7,1790.8 205.7,1788.3 206.7,1786.4 207.8,1784.7 208.9,1782.7 209.8,1780.4 210.6,1777.3 211.4,1774.6 212.1,1772.8 212.8,1771.0 213.5,1768.3 214.3,1765.5 215.2,1762.6 216.1,1760.3 216.9,1758.2 217.6,1756.5 218.3,1754.1 219.1,1751.9 219.8,1749.6 220.6,1747.1 221.5,1744.3 222.2,1742.2 222.9,1740.2 223.5,1737.9 224.1,1735.0 224.6,1733.2 225.2,1730.9 225.8,1728.4 226.4,1725.6 227.0,1723.4 227.8,1720.5 228.4,1717.5 228.9,1714.8 229.5,1712.2 230.0,1709.9 230.5,1706.8 231.0,1705.1 231.5,1703.3 232.0,1701.7 232.5,1699.1 233.0,1696.4 233.5,1694.2 234.0,1690.3 234.6,1686.7 235.1,1684.0 235.5,1682.4 236.0,1680.3 236.4,1678.0 236.7,1675.9 237.1,1672.9 237.5,1669.7 237.8,1667.4 238.2,1665.6 238.6,1664.1 239.1,1662.1 239.6,1659.2 240.1,1656.6 240.5,1653.3 240.9,1650.6 241.3,1648.1 241.7,1647.2 242.0,1645.5 242.4,1642.9 242.8,1639.6 243.2,1636.6 243.5,1634.6 243.8,1632.9 244.0,1630.7 244.2,1628.2 244.5,1625.7 244.9,1623.4 245.3,1621.0 245.8,1619.4 246.2,1616.2 246.7,1613.5 247.2,1610.7 247.7,1608.7 248.2,1607.0 248.7,1604.1 249.2,1601.4 249.8,1597.9 250.4,1595.7 251.1,1592.8 251.7,1590.1 252.3,1587.8 252.9,1585.0 253.4,1582.4 254.0,1580.4 254.7,1578.3 255.4,1576.0 256.8,1572.0 258.0,1568.9 259.2,1566.4 260.4,1564.9 262.3,1562.2 264.2,1560.9 266.6,1560.2 269.2,1560.4 271.8,1562.3 274.2,1564.8 276.2,1568.8 278.0,1569.6 279.8,1570.0 281.7,1569.2 283.3,1569.1 284.8,1568.6 286.8,1566.4 288.3,1564.8 289.7,1563.5 291.2,1562.1 293.0,1559.2 294.0,1557.8 294.9,1556.5 295.8,1553.0 296.7,1551.0 297.6,1548.5 298.5,1547.9 299.5,1544.8 300.6,1542.5 301.4,1539.1 302.2,1536.5 302.9,1534.4 303.6,1532.9 304.3,1530.8 305.0,1528.1 305.7,1525.8 306.4,1524.4 307.2,1521.6 308.1,1517.7 309.0,1513.7 309.7,1511.6 310.5,1509.6 311.2,1507.7 311.9,1505.5 312.5,1503.3 313.2,1501.6 314.0,1499.3 314.8,1497.0 315.6,1493.8 316.5,1490.8 317.3,1487.1 318.0,1484.0 318.7,1481.3 319.4,1479.7 320.1,1477.7 320.8,1475.4 321.5,1472.5 322.3,1469.6 323.2,1467.3 324.0,1466.4 324.8,1464.5 325.6,1461.2 326.3,1456.4 327.0,1454.9 327.7,1453.5 328.4,1452.1 329.1,1448.8 329.9,1447.5 330.7,1446.2 331.9,1442.9 333.0,1439.9 334.0,1438.7 334.9,1437.1 335.9,1435.1 337.0,1433.4 338.5,1432.0 339.7,1429.7 340.8,1428.0 342.0,1426.3 343.7,1424.3 345.2,1423.6 347.2,1424.3 349.5,1426.0 351.2,1426.6 352.7,1427.3 354.5,1427.9 356.3,1429.2 357.8,1431.9 359.5,1434.3 362.0,1437.0 364.6,1439.0 366.6,1440.2 368.5,1441.7 370.8,1443.4 372.8,1446.0 374.5,1447.9 376.3,1449.1 378.4,1451.5 381.0,1451.1 383.3,1450.5 385.9,1448.3 388.5,1448.2 390.8,1448.3 393.4,1448.0 396.2,1446.8 398.6,1446.0 401.0,1445.9 403.0,1443.9 404.5,1441.9 406.0,1439.3 407.8,1437.8 409.7,1435.5 411.8,1435.0 413.8,1436.7 416.0,1437.0 417.9,1437.7 419.4,1437.3 421.0,1440.4 422.4,1443.0 423.6,1446.3 424.7,1447.9 426.1,1449.7 427.4,1450.8 428.6,1453.4 429.7,1454.5 431.1,1458.1 432.1,1459.0 433.0,1461.7 433.8,1463.7 434.8,1467.5 436.1,1469.6 437.2,1470.8 438.2,1473.1 439.2,1475.4 440.2,1476.4 441.3,1478.9 442.4,1483.1 443.6,1487.1 444.6,1487.8 445.5,1489.3 446.3,1490.7 447.0,1493.7 447.8,1495.2 448.5,1498.7 449.3,1500.0 450.2,1503.4 451.2,1505.6 452.1,1509.4 453.0,1511.0 453.8,1513.3 454.6,1514.9 455.3,1516.6 456.1,1517.8 456.9,1520.0 457.7,1522.7 458.7,1525.3 459.6,1528.6 460.3,1531.3 461.1,1534.0 461.8,1535.4 462.5,1537.9 463.1,1539.8 463.8,1541.0 464.6,1542.8 465.4,1546.2 466.2,1549.7 467.6,1552.1 468.8,1552.6 470.0,1554.7 471.1,1556.9 472.4,1559.9 473.8,1562.0 475.4,1563.9 476.8,1564.4 478.2,1565.6 479.6,1567.1 481.3,1569.2 482.3,1570.8 483.3,1573.6 484.2,1576.1 485.1,1578.3 485.9,1580.4 486.8,1582.5 487.8,1585.0 488.8,1588.0 489.9,1590.7 490.8,1592.9 491.7,1595.3 492.6,1598.1 493.4,1599.9 494.3,1601.7 495.3,1603.6 496.3,1606.6 497.6,1609.0 498.6,1610.0 499.6,1611.0 500.6,1613.1 501.6,1616.5 502.7,1619.6 503.9,1622.0 505.2,1624.4 506.4,1625.4 507.4,1626.8 508.5,1628.4 509.8,1630.9 511.4,1633.8 512.9,1636.0 514.3,1638.1 515.7,1638.9 517.1,1640.1 518.5,1642.6 520.1,1645.0 521.8,1647.6 523.3,1649.0 524.7,1651.2 526.0,1653.1 527.2,1655.8 528.5,1657.9 529.8,1660.1 531.2,1661.4 532.7,1663.7 534.2,1666.1 535.6,1668.5 536.9,1670.5 538.2,1672.2 539.4,1674.4 540.7,1677.1 542.1,1679.2 543.6,1681.3 545.0,1682.6 546.2,1685.2 547.4,1688.0 548.5,1690.3 549.6,1691.9 550.7,1693.6 551.9,1696.1 553.1,1698.1 554.5,1700.5 556.1,1702.5 557.4,1705.8 558.7,1707.5 560.0,1709.3 561.2,1710.9 562.5,1713.4 563.9,1716.1 565.4,1718.5 567.0,1720.8 568.3,1722.6 569.6,1724.4 570.9,1726.2 572.1,1727.8 573.4,1729.0 574.8,1730.6 576.3,1733.0 578.1,1735.6 579.6,1737.7 581.1,1738.8 582.5,1740.1 583.9,1741.1 585.5,1743.2 587.2,1746.4 588.8,1749.3 590.2,1751.3 591.4,1752.5 592.7,1754.1 593.9,1755.2 595.2,1757.3 596.6,1759.4 598.1,1761.8 600.1,1764.0 601.9,1765.3 603.6,1766.7 605.2,1768.6 607.0,1770.9 609.0,1773.2 611.0,1775.4 612.8,1776.9 614.5,1778.4 616.1,1779.7 617.9,1781.7 619.9,1783.9 621.9,1786.7 623.7,1788.8 625.4,1790.1 627.0,1791.2 628.8,1792.1 630.8,1794.3 632.9,1796.0 634.6,1797.5 636.3,1798.9 637.9,1800.9 639.7,1802.5 641.7,1803.9 643.8,1805.6 645.5,1807.3 647.2,1809.5 648.8,1812.4 650.6,1814.0 652.6,1815.3 654.7,1816.9 656.4,1819.9 658.1,1821.7 659.7,1823.1 661.5,1824.3 663.5,1826.0 665.9,1828.0 668.0,1828.7 670.0,1829.5 672.1,1830.1 674.4,1831.4 676.8,1832.2 678.9,1833.1 680.9,1834.4 683.0,1835.9 685.3,1837.7 687.7,1839.0 689.8,1839.2 691.8,1840.5 693.9,1841.6 696.2,1843.3 698.6,1844.4 700.7,1846.0 702.7,1847.0 704.8,1847.4 707.2,1848.5 709.5,1849.5 711.6,1850.1 713.6,1850.3 715.7,1850.7 718.1,1851.1 720.4,1851.9 722.5,1853.0 724.5,1854.5 726.6,1855.2 729.0,1855.4 731.9,1855.9 734.4,1856.2 736.9,1856.2 739.9,1856.0 742.8,1856.5 745.3,1857.1 747.8,1857.5 750.8,1857.3 753.7,1856.9 756.2,1856.2 758.7,1855.8 761.7,1855.6 764.7,1856.0 767.4,1856.3 770.0,1856.3 772.6,1856.0 775.1,1857.2 776.8,1858.7 779.1,1859.6 781.1,1859.4 783.0,1860.0 785.1,1860.6 787.8,1860.9 790.4,1861.3 792.9,1861.5 795.5,1861.3 798.1,1860.9 800.9,1860.8 804.1,1860.8 806.7,1860.6 809.1,1860.4 811.8,1860.2 814.3,1859.2 816.3,1858.6 818.3,1858.0 820.5,1857.5 822.9,1856.3 825.1,1855.5 827.1,1855.5 829.3,1855.6 831.8,1855.8 833.7,1856.5 835.8,1857.7 839.2,1858.4 841.7,1858.4" fill="none" stroke="#000" stroke-width="2.2" stroke-linejoin="round" stroke-linecap="round" clip-path="url(#cl_c1)"/>
<path d="M168.8,1855.4 170.5,1855.0 172.7,1854.1 175.2,1851.9 177.6,1849.0 178.9,1846.7 180.0,1844.7 180.9,1842.8 181.8,1840.7 182.7,1837.9 183.8,1835.0 184.9,1832.7 185.8,1830.8 186.7,1828.4 187.6,1825.9 188.7,1823.8 190.1,1821.8 192.1,1819.4 194.1,1817.9 196.1,1817.0 198.2,1815.7 200.1,1814.0 201.8,1811.9 203.0,1810.8 204.1,1809.2 205.1,1807.0 206.4,1803.9 207.4,1802.1 208.3,1800.0 209.1,1797.4 209.9,1794.7 210.7,1793.0 211.6,1790.9 212.7,1788.2 213.6,1785.8 214.4,1783.7 215.2,1781.8 216.0,1779.8 216.8,1778.0 217.6,1775.0 218.4,1772.5 219.3,1770.0 220.2,1767.5 221.1,1765.1 221.9,1762.4 222.7,1760.7 223.4,1758.1 224.1,1756.3 224.8,1753.0 225.5,1750.9 226.2,1748.2 227.0,1745.5 227.8,1742.5 228.5,1739.9 229.2,1737.4 229.9,1735.0 230.4,1733.5 231.0,1731.4 231.5,1728.7 232.1,1726.7 232.7,1725.0 233.3,1723.0 234.0,1719.3 234.6,1716.1 235.2,1712.2 235.7,1709.3 236.2,1706.9 236.7,1705.5 237.2,1703.4 237.6,1701.6 238.1,1698.8 238.6,1696.2 239.1,1693.7 239.7,1690.9 240.3,1688.4 240.9,1685.6 241.4,1682.9 241.9,1679.7 242.4,1677.0 242.9,1675.0 243.4,1672.7 243.9,1670.3 244.3,1668.3 244.8,1666.5 245.2,1663.9 245.7,1661.1 246.1,1658.5 246.6,1657.3 247.3,1653.7 247.9,1651.3 248.4,1648.0 248.8,1645.7 249.2,1643.5 249.7,1641.8 250.4,1640.0 251.1,1637.6 251.8,1635.6 252.4,1633.3 253.1,1630.6 253.8,1627.4 254.6,1624.6 255.4,1622.0 257.2,1619.0 258.9,1617.1 260.4,1616.1 262.9,1615.0 265.0,1616.6 267.9,1619.0 269.7,1618.8 271.5,1619.7 273.4,1621.4 275.5,1623.2 278.1,1625.3 280.4,1625.6 283.0,1624.9 285.6,1622.8 287.9,1620.8 290.5,1619.0 292.2,1618.7 293.6,1618.4 295.0,1616.4 296.4,1613.8 298.1,1611.0 299.3,1609.6 300.3,1607.7 301.3,1606.3 302.3,1604.4 303.3,1602.0 304.4,1599.0 305.6,1596.1 306.5,1593.8 307.4,1591.5 308.2,1589.2 309.0,1586.4 309.7,1584.7 310.5,1583.0 311.3,1581.0 312.2,1578.9 313.1,1576.6 314.2,1573.5 315.1,1569.3 316.0,1566.8 316.9,1564.8 317.7,1563.1 318.6,1561.0 319.6,1559.4 320.6,1557.3 321.7,1555.3 322.7,1553.9 323.6,1552.2 324.5,1549.9 325.4,1547.1 326.3,1545.3 327.2,1542.4 328.2,1539.5 329.6,1536.7 330.9,1536.3 331.9,1534.5 333.1,1531.8 334.4,1528.7 336.6,1527.0 338.4,1525.9 340.7,1526.8 343.2,1527.6 345.6,1528.9 348.3,1528.6 350.3,1528.8 352.0,1529.0 353.8,1530.5 355.8,1532.1 357.8,1534.7 359.5,1536.5 361.3,1538.5 363.3,1539.9 365.3,1542.4 367.1,1544.1 368.8,1546.0 370.8,1546.6 373.5,1547.8 375.8,1547.8 378.4,1547.8 381.0,1547.6 383.3,1547.2 385.9,1547.1 388.5,1547.2 390.8,1546.4 393.4,1544.2 395.5,1542.8 397.3,1542.5 399.0,1540.7 401.0,1538.0 403.3,1535.9 405.1,1535.7 407.2,1535.3 409.4,1534.9 411.2,1534.5 413.5,1535.2 416.0,1535.6 418.4,1537.4 421.0,1539.5 422.7,1541.8 424.1,1543.1 425.5,1545.2 426.9,1548.4 428.6,1550.9 429.8,1553.7 430.9,1554.6 431.9,1557.0 432.8,1558.9 433.8,1561.5 434.9,1563.2 436.1,1564.9 437.2,1566.7 438.1,1569.4 439.0,1571.9 439.9,1575.3 440.7,1576.8 441.6,1578.5 442.6,1579.5 443.6,1582.8 444.7,1584.6 445.6,1587.1 446.4,1588.4 447.2,1591.6 448.0,1593.9 448.9,1596.3 450.0,1598.6 451.2,1600.9 452.4,1604.3 453.7,1606.8 454.8,1609.2 456.0,1610.5 457.2,1611.8 458.4,1613.9 459.8,1615.6 461.2,1617.9 463.1,1620.7 464.7,1622.8 466.2,1624.4 467.7,1626.1 469.4,1628.3 471.2,1631.2 472.7,1633.1 473.9,1635.5 475.1,1638.0 476.3,1640.3 477.4,1642.0 478.6,1643.2 479.9,1645.3 481.3,1647.6 482.9,1650.2 484.3,1652.5 485.7,1654.8 487.0,1657.7 488.3,1660.3 489.7,1662.8 491.3,1665.1 492.9,1667.0 494.4,1669.1 495.7,1670.3 497.0,1672.5 498.3,1674.1 499.8,1676.9 501.4,1679.4 503.0,1682.4 504.5,1685.1 506.0,1686.9 507.4,1688.3 508.7,1689.1 510.0,1690.8 511.4,1693.1 513.6,1694.9 515.1,1694.7 517.4,1695.2 518.7,1696.5 520.0,1698.5 521.2,1700.9 522.5,1702.4 523.9,1703.9 525.3,1706.3 526.8,1709.1 528.3,1711.2 530.1,1713.5 531.7,1715.3 533.1,1717.4 534.5,1719.1 535.9,1720.7 537.5,1722.2 539.2,1724.5 541.0,1727.2 542.6,1728.4 544.0,1729.8 545.4,1731.0 546.8,1733.9 548.4,1736.2 550.2,1737.9 551.9,1739.5 553.5,1740.6 554.9,1743.4 556.3,1745.0 557.7,1747.5 559.3,1748.6 561.1,1750.6 562.8,1752.2 564.4,1755.2 565.8,1757.9 567.2,1759.5 568.7,1760.3 570.2,1761.1 572.0,1763.1 574.0,1765.2 575.8,1767.5 577.4,1768.6 579.1,1769.4 580.8,1770.9 582.9,1773.0 584.6,1774.7 586.2,1775.9 587.6,1778.1 589.0,1780.2 590.5,1781.6 592.0,1782.9 593.8,1784.5 596.2,1787.2 598.2,1788.7 600.2,1790.3 602.3,1791.8 604.7,1794.3 606.7,1795.4 608.5,1796.6 610.1,1797.5 611.8,1798.9 613.6,1800.5 615.6,1802.0 617.6,1803.8 619.4,1805.1 621.0,1806.5 622.7,1807.8 624.5,1809.4 626.5,1811.7 628.5,1813.5 630.3,1814.6 631.9,1815.3 633.6,1816.9 635.4,1818.7 637.4,1820.4 639.8,1822.3 641.8,1824.1 643.8,1825.8 645.9,1826.3 648.3,1827.6 650.7,1828.9 652.7,1830.6 654.7,1831.6 656.8,1832.2 659.2,1833.0 661.6,1833.7 663.6,1835.2 665.6,1836.0 667.7,1837.0 670.1,1837.9 672.5,1839.3 674.5,1840.4 676.5,1841.4 678.6,1842.8 681.0,1843.7 683.4,1844.7 685.5,1845.0 687.4,1846.3 689.5,1847.4 691.9,1848.8 694.3,1849.0 696.4,1849.0 698.3,1849.7 700.4,1851.3 702.8,1852.4 705.2,1852.3 707.3,1851.8 709.2,1852.2 711.3,1853.1 713.7,1854.1 716.6,1854.9 719.1,1855.6 721.7,1856.4 724.6,1857.2 727.0,1857.2 729.1,1857.4 731.0,1858.2 733.1,1859.1 735.5,1859.5 738.4,1859.5 741.0,1860.1 743.5,1860.4 746.4,1860.3 749.3,1859.4 751.9,1858.5 754.4,1857.6 757.3,1856.9 760.2,1856.7 762.8,1857.9 765.3,1858.9 768.2,1859.9 771.1,1859.8 773.5,1860.6 776.0,1860.7 779.1,1861.6 781.8,1862.4 784.3,1863.7 786.7,1864.4 789.3,1864.9 792.2,1865.2 795.1,1865.5 797.7,1865.7 800.1,1866.0 802.6,1866.5 805.3,1866.8 808.3,1866.9 810.7,1866.5 813.1,1865.9 816.2,1865.0 818.9,1864.5 821.4,1863.3 823.8,1863.2 826.4,1863.3 829.3,1863.6 832.3,1863.4 835.1,1863.6 837.7,1864.6 839.9,1865.3 841.7,1865.8" fill="none" stroke="#000" stroke-width="2.2" stroke-linejoin="round" stroke-linecap="round" clip-path="url(#cl_c1)"/>
<path d="M168.8,1865.7 169.8,1864.7 171.2,1863.0 172.7,1861.0 174.3,1858.3 176.0,1856.0 177.6,1853.7 178.7,1851.3 179.7,1848.6 180.5,1846.2 181.3,1844.0 182.0,1841.9 182.8,1839.5 183.8,1837.7 184.9,1835.2 185.8,1833.0 186.7,1830.2 187.6,1828.3 188.7,1825.8 190.1,1823.6 192.1,1821.2 194.0,1819.6 196.0,1818.2 198.1,1817.0 200.1,1816.3 201.7,1814.7 203.0,1812.3 204.1,1809.9 205.2,1808.0 206.3,1806.1 207.7,1803.3 208.9,1801.1 210.0,1798.5 211.0,1796.6 211.9,1794.9 212.9,1793.3 214.0,1791.0 215.2,1788.1 216.4,1785.9 217.5,1783.2 218.5,1781.2 219.5,1778.4 220.5,1776.6 221.5,1774.1 222.7,1771.6 223.8,1769.3 224.8,1767.4 225.7,1765.2 226.5,1762.3 227.4,1759.3 228.2,1757.0 229.2,1754.8 230.3,1752.0 231.1,1749.2 231.9,1746.9 232.7,1745.2 233.4,1743.9 234.0,1742.2 234.7,1739.8 235.4,1737.1 236.1,1735.1 236.9,1732.9 237.8,1729.8 238.6,1726.6 239.4,1724.1 240.1,1722.0 240.8,1720.1 241.4,1717.7 242.1,1715.3 242.7,1712.0 243.4,1709.3 244.0,1706.6 244.7,1704.6 245.3,1702.9 246.4,1700.1 247.3,1697.5 248.0,1694.9 248.7,1692.4 249.5,1690.1 250.4,1688.2 251.5,1685.2 252.4,1682.5 253.3,1680.0 254.3,1678.8 255.4,1676.8 257.1,1674.3 258.5,1672.7 260.4,1671.5 262.5,1670.4 264.4,1670.6 266.7,1671.2 268.8,1672.5 270.6,1673.7 272.9,1675.7 275.3,1677.4 277.6,1678.5 280.5,1679.1 283.1,1678.9 285.7,1679.2 288.2,1678.6 290.5,1677.9 293.2,1677.3 295.5,1675.8 297.0,1674.0 298.4,1671.2 299.8,1668.9 301.4,1667.0 303.1,1665.2 304.4,1662.8 305.6,1660.4 306.7,1658.7 307.9,1656.3 309.1,1653.9 310.6,1650.8 312.2,1648.6 313.8,1646.7 315.3,1645.0 316.7,1643.9 318.1,1642.3 319.4,1640.7 320.7,1637.0 321.4,1635.0 322.0,1632.8 323.2,1631.4 324.5,1629.0 326.0,1627.0 327.5,1624.9 329.1,1623.3 330.7,1621.6 333.0,1619.6 334.8,1618.0 337.0,1617.6 339.2,1616.9 341.2,1617.0 343.2,1618.0 345.1,1620.2 346.6,1623.1 348.3,1623.8 350.6,1623.1 353.3,1622.2 355.7,1623.3 358.1,1624.5 360.8,1625.9 362.8,1627.3 364.6,1629.2 366.3,1631.3 368.3,1633.2 371.0,1634.5 373.2,1634.4 375.9,1635.0 378.4,1635.6 380.5,1636.5 383.4,1636.3 386.0,1636.4 388.4,1636.4 390.9,1636.2 393.4,1635.3 396.3,1633.1 398.5,1631.9 401.0,1631.1 403.6,1631.4 405.9,1632.0 408.5,1632.8 411.2,1632.2 413.5,1630.8 416.0,1631.1 418.2,1631.2 419.9,1631.9 422.3,1632.2 424.0,1634.0 425.6,1636.1 427.2,1638.3 429.0,1640.5 431.1,1642.8 432.6,1645.9 434.0,1648.2 435.4,1650.9 436.7,1653.3 438.0,1655.5 439.5,1657.1 441.1,1658.6 442.7,1661.0 444.2,1662.9 445.5,1664.9 446.8,1666.7 448.1,1668.8 449.6,1671.5 451.2,1674.6 452.8,1677.0 454.2,1678.7 455.5,1680.4 456.8,1682.6 458.2,1684.3 459.6,1685.7 461.2,1687.9 463.1,1690.7 464.7,1693.1 466.2,1693.8 467.7,1695.5 469.4,1697.7 471.2,1701.3 473.1,1703.8 474.7,1706.0 476.3,1707.9 477.8,1709.8 479.4,1712.1 481.3,1714.1 483.1,1716.1 484.8,1717.5 486.3,1719.8 487.8,1722.1 489.5,1723.9 491.3,1725.9 493.2,1727.3 494.8,1728.2 496.3,1729.0 497.9,1731.3 499.5,1733.3 501.4,1734.8 503.6,1736.8 505.5,1738.6 507.3,1740.4 509.2,1741.6 511.4,1743.6 513.3,1745.9 515.0,1747.8 516.5,1749.4 518.1,1750.9 519.8,1753.1 521.8,1754.9 523.8,1757.0 525.6,1758.4 527.2,1760.2 528.9,1761.5 530.7,1763.4 532.7,1764.9 535.1,1767.0 537.2,1768.9 539.1,1769.7 541.2,1770.5 543.6,1771.2 546.0,1772.8 548.1,1774.2 550.0,1776.0 552.1,1777.3 554.5,1779.0 556.5,1780.4 558.3,1782.6 560.0,1784.1 561.6,1786.0 563.4,1787.5 565.4,1788.5 567.4,1789.3 569.2,1790.2 570.9,1792.4 572.5,1794.3 574.3,1795.7 576.3,1796.6 578.7,1798.3 580.8,1800.3 582.8,1802.0 584.8,1803.9 587.2,1805.6 589.6,1807.5 591.7,1808.7 593.7,1809.2 595.7,1810.2 598.1,1811.3 600.5,1813.0 602.6,1814.0 604.6,1815.5 606.6,1817.1 609.0,1818.7 611.4,1819.9 613.5,1820.0 615.5,1820.9 617.5,1822.2 619.9,1824.0 622.3,1825.3 624.4,1827.3 626.4,1829.0 628.4,1830.5 630.8,1831.6 633.2,1833.2 635.3,1834.3 637.3,1835.3 639.3,1836.2 641.7,1837.6 644.1,1838.9 646.2,1839.2 648.2,1839.2 650.2,1839.3 652.6,1840.6 655.0,1842.3 657.1,1843.5 659.1,1844.8 661.2,1845.7 663.5,1847.0 665.9,1847.8 668.0,1848.6 670.0,1849.0 672.1,1849.4 674.4,1850.4 676.8,1851.8 678.9,1852.9 680.9,1853.8 683.0,1854.5 685.3,1855.2 687.7,1855.6 689.8,1856.8 691.8,1857.7 693.9,1858.7 696.2,1859.3 698.6,1860.5 700.7,1861.3 702.7,1862.1 704.8,1861.9 707.2,1862.4 709.5,1863.0 711.6,1864.4 713.6,1864.5 715.7,1865.0 718.1,1865.3 721.0,1866.5 723.5,1867.5 726.0,1868.1 729.0,1868.3 731.6,1868.5 733.6,1868.9 736.0,1869.9 739.9,1870.4 742.0,1870.5 744.2,1870.1 746.5,1870.2 748.8,1870.0 751.1,1870.4 753.6,1871.1 756.2,1871.5 758.8,1871.5 761.7,1871.5 764.4,1871.6 766.9,1872.1 769.3,1872.6 771.5,1872.7 773.7,1872.5 775.9,1872.3 778.2,1872.3 780.7,1872.3 783.5,1872.4 786.2,1872.6 788.7,1872.6 791.1,1872.6 793.3,1873.0 795.5,1873.4 797.7,1873.3 800.0,1873.7 802.5,1873.6 805.3,1873.7 808.1,1873.6 810.7,1874.1 813.2,1874.0 815.6,1874.6 817.9,1874.7 820.1,1874.5 822.4,1874.2 824.7,1874.0 827.1,1873.6 830.5,1873.0 833.5,1873.3 836.0,1873.4 838.2,1873.3 840.1,1872.8 841.7,1872.6" fill="none" stroke="#000" stroke-width="2.2" stroke-linejoin="round" stroke-linecap="round" clip-path="url(#cl_c1)"/>
<path d="M168.8,1869.5 170.0,1868.5 171.5,1867.1 173.3,1865.2 175.4,1862.8 177.6,1859.8 179.1,1857.5 180.5,1855.5 181.8,1853.6 183.1,1851.9 184.5,1849.8 186.0,1848.1 187.6,1846.3 189.5,1844.4 191.3,1842.0 193.0,1840.2 194.6,1838.8 196.1,1837.9 197.6,1836.3 200.3,1835.2 202.7,1835.3 204.4,1834.9 206.1,1834.3 208.0,1833.0 210.2,1831.0 211.7,1829.0 213.1,1827.1 214.5,1825.7 215.9,1824.4 217.3,1822.1 219.0,1819.1 220.4,1816.7 221.7,1815.1 222.9,1813.4 224.0,1811.4 225.2,1808.6 226.4,1805.8 227.8,1802.6 228.9,1800.0 229.9,1798.0 230.8,1796.1 231.6,1794.5 232.4,1792.6 233.3,1791.0 234.2,1788.4 235.3,1785.8 236.2,1783.5 237.1,1782.0 237.9,1779.7 238.7,1777.6 239.4,1774.8 240.2,1772.1 241.0,1769.6 241.9,1767.3 242.8,1765.3 243.9,1762.8 244.9,1761.4 245.9,1759.3 246.8,1756.7 247.7,1754.3 248.5,1752.3 249.4,1750.2 250.4,1748.2 252.3,1744.4 253.6,1743.3 255.4,1741.4 257.3,1740.0 259.1,1739.5 261.6,1739.9 264.1,1740.2 266.6,1740.3 269.1,1740.9 271.7,1742.2 273.9,1744.1 275.6,1746.1 277.3,1747.8 279.2,1749.5 281.8,1751.7 284.0,1753.0 286.8,1752.4 289.0,1750.4 291.0,1748.7 293.0,1747.5 295.5,1746.5 297.3,1745.1 298.9,1743.5 300.5,1741.0 302.0,1739.0 303.7,1737.0 305.6,1735.7 307.8,1735.1 309.7,1734.4 311.5,1733.3 313.4,1732.0 315.6,1730.1 317.5,1728.7 319.1,1726.5 320.6,1725.3 322.2,1723.2 323.8,1721.3 325.7,1719.4 327.9,1717.8 329.8,1716.3 331.7,1714.7 333.6,1712.9 335.7,1712.2 338.4,1711.8 340.9,1712.7 343.0,1712.6 345.0,1712.5 346.6,1713.9 348.3,1716.0 350.4,1717.2 352.8,1717.8 355.4,1719.7 358.3,1720.9 361.0,1721.4 363.3,1721.1 365.6,1721.7 368.3,1722.8 371.1,1724.1 373.5,1725.4 375.9,1726.3 378.4,1727.7 381.2,1728.6 383.4,1729.2 385.9,1730.1 388.5,1730.4 390.8,1729.6 393.4,1728.9 396.1,1729.1 398.3,1729.6 401.0,1729.0 403.5,1728.4 405.6,1727.8 408.5,1727.9 411.0,1728.3 413.3,1728.9 415.8,1729.5 418.5,1730.9 421.2,1731.9 423.6,1733.4 425.9,1734.4 428.6,1736.5 430.7,1737.8 432.5,1739.4 434.3,1740.4 436.2,1742.0 438.6,1744.0 440.5,1745.8 442.2,1747.4 443.9,1748.8 445.5,1750.6 447.3,1752.5 449.1,1754.8 451.2,1756.6 453.2,1758.5 455.0,1759.9 456.6,1761.1 458.2,1762.1 459.9,1763.7 461.7,1765.3 463.7,1767.0 465.7,1769.1 467.5,1770.7 469.2,1772.2 470.8,1773.4 472.5,1775.8 474.3,1778.2 476.3,1780.0 478.6,1780.9 480.6,1781.6 482.5,1783.0 484.4,1784.2 486.5,1786.2 488.8,1787.8 491.6,1789.9 494.1,1790.4 496.4,1791.0 498.8,1791.4 501.4,1792.8 504.4,1794.4 506.9,1795.8 509.1,1797.2 511.4,1798.3 513.8,1799.2 515.5,1799.9 517.4,1800.9 519.7,1802.8 521.8,1803.9 524.0,1805.0 526.6,1804.0 529.4,1803.5 531.3,1804.7 533.0,1806.7 534.9,1808.6 537.1,1810.1 539.3,1811.6 541.2,1813.1 543.2,1814.0 545.8,1815.5 548.0,1816.4 550.1,1817.4 552.1,1817.9 554.3,1819.5 556.7,1820.4 559.1,1822.0 561.2,1823.2 563.1,1824.7 565.2,1825.0 567.6,1825.8 570.0,1827.1 572.1,1827.8 574.0,1828.1 576.1,1828.4 578.5,1829.6 580.9,1830.9 583.0,1832.1 584.9,1832.8 587.0,1833.7 589.4,1834.7 591.8,1835.7 593.9,1835.6 595.8,1835.7 597.9,1835.9 600.3,1837.3 602.7,1838.8 604.8,1840.5 606.7,1841.4 608.8,1842.2 611.2,1843.2 613.6,1844.2 615.7,1845.1 617.6,1846.3 619.7,1847.4 622.1,1848.1 624.5,1848.6 626.6,1849.1 628.5,1850.0 630.6,1850.8 633.0,1851.9 635.4,1852.1 637.5,1852.8 639.5,1854.0 641.5,1854.8 643.9,1855.6 646.3,1855.9 648.4,1857.2 650.4,1857.7 652.4,1858.7 654.8,1858.9 657.2,1859.3 659.3,1859.9 661.3,1860.7 663.3,1861.7 665.7,1862.0 668.1,1863.0 670.2,1863.3 672.2,1863.6 674.2,1864.2 676.6,1865.0 679.6,1865.7 682.1,1865.8 684.6,1866.3 687.5,1866.8 690.5,1867.4 693.0,1868.3 695.5,1869.0 698.4,1869.3 701.4,1869.7 703.9,1870.2 706.4,1870.4 709.3,1870.6 712.0,1870.9 714.1,1871.6 716.6,1871.7 720.2,1872.3 722.5,1872.5 724.7,1872.8 726.9,1873.0 729.2,1873.2 731.6,1873.7 734.2,1873.8 736.9,1873.8 739.9,1873.7 742.5,1874.2 744.9,1875.0 747.3,1874.7 749.5,1874.4 751.7,1873.9 754.0,1874.5 756.4,1875.0 758.9,1875.2 761.7,1875.1 764.4,1875.3 766.9,1875.5 769.3,1875.6 771.5,1875.6 773.7,1875.0 775.9,1874.8 778.2,1874.9 780.7,1875.8 783.5,1875.8 786.2,1875.7 788.7,1875.6 791.1,1875.9 793.3,1876.2 795.5,1876.4 797.7,1876.2 800.0,1876.1 802.5,1876.1 805.3,1876.4 808.1,1876.2 810.7,1875.9 813.2,1875.5 815.6,1875.5 817.9,1875.5 820.1,1875.4 822.4,1875.6 824.7,1875.1 827.1,1874.9 830.5,1874.6 833.5,1875.2 836.0,1875.5 838.2,1875.6 840.1,1875.7 841.7,1875.5" fill="none" stroke="#000" stroke-width="2.2" stroke-linejoin="round" stroke-linecap="round" clip-path="url(#cl_c1)"/>
<path d="M168.8,1872.4 170.0,1871.1 171.5,1869.8 173.3,1868.2 175.4,1866.9 177.6,1864.4 179.3,1862.6 180.9,1860.9 182.5,1859.7 184.0,1858.1 185.7,1856.1 187.6,1854.6 190.4,1852.3 192.9,1850.9 195.3,1849.6 197.6,1849.0 200.0,1848.7 201.7,1849.5 203.9,1849.7 206.0,1848.9 208.0,1848.1 210.2,1846.6 212.7,1844.9 214.8,1843.3 216.7,1842.0 218.6,1840.3 220.5,1838.1 222.7,1835.3 224.6,1833.1 226.2,1831.3 227.8,1830.1 229.3,1828.6 230.9,1826.6 232.8,1824.0 234.7,1822.0 236.4,1820.1 238.0,1818.7 239.5,1816.0 241.1,1813.8 242.8,1811.0 244.7,1809.2 246.1,1808.0 247.4,1807.0 248.7,1804.9 250.4,1803.0 252.4,1801.3 254.3,1800.3 256.1,1798.7 257.9,1797.1 260.4,1795.7 262.9,1795.5 265.2,1795.8 267.6,1796.4 270.4,1798.0 272.7,1799.4 274.6,1800.9 276.7,1801.5 279.2,1802.4 281.8,1803.1 284.1,1804.1 286.4,1803.7 289.3,1803.5 291.7,1802.4 293.9,1801.9 296.1,1801.1 298.3,1801.2 300.6,1800.5 303.1,1799.6 305.0,1798.0 306.9,1796.3 309.3,1794.0 311.4,1792.2 313.3,1790.4 315.1,1788.9 317.1,1787.7 319.4,1786.0 321.8,1784.7 324.0,1783.2 326.1,1783.5 328.3,1783.7 330.7,1783.7 333.7,1782.7 336.2,1782.0 338.5,1782.2 340.7,1782.2 343.2,1782.6 345.0,1783.0 346.7,1784.3 348.3,1785.7 350.8,1787.3 353.1,1788.2 355.5,1788.8 358.0,1789.9 360.8,1791.0 363.4,1791.6 365.6,1792.2 367.9,1792.9 370.8,1793.7 373.4,1793.9 375.8,1793.9 378.1,1794.1 380.6,1793.9 383.4,1793.5 386.2,1793.5 388.7,1794.7 391.0,1795.3 393.4,1795.7 395.9,1795.6 399.0,1795.4 401.4,1794.9 403.7,1793.9 406.0,1793.9 408.4,1793.5 410.0,1793.1 412.3,1793.1 414.4,1793.4 416.4,1794.5 418.5,1795.6 421.0,1796.6 423.6,1797.3 425.8,1796.9 428.1,1797.8 431.1,1798.9 433.2,1800.8 435.1,1801.7 437.0,1803.2 438.9,1804.6 441.1,1805.9 443.6,1806.8 445.9,1807.6 448.0,1808.3 450.0,1808.9 452.0,1810.4 454.0,1812.4 456.3,1814.1 458.7,1815.7 461.1,1817.0 463.3,1818.3 465.3,1819.5 467.2,1820.2 469.2,1820.6 471.3,1821.3 473.8,1822.6 476.5,1824.3 479.0,1825.2 481.3,1826.1 483.6,1826.3 486.0,1826.8 488.8,1827.5 491.7,1828.7 494.3,1829.5 496.8,1830.0 499.2,1830.5 501.5,1831.5 503.9,1832.4 506.7,1834.1 508.6,1835.0 510.4,1835.7 513.1,1836.2 515.7,1836.9 518.1,1837.9 520.6,1839.2 523.2,1840.1 526.2,1840.9 529.0,1841.3 531.5,1841.8 533.9,1842.3 536.4,1843.0 539.2,1843.3 542.1,1843.5 544.6,1844.1 547.0,1844.9 549.5,1845.5 552.3,1845.5 554.8,1845.9 556.9,1846.2 558.9,1847.1 560.9,1848.2 563.0,1849.6 565.4,1850.4 568.3,1851.2 570.8,1851.8 573.1,1852.3 575.6,1852.9 578.5,1853.6 581.4,1854.1 583.9,1854.0 586.2,1854.5 588.7,1855.3 591.6,1856.6 594.5,1857.9 596.9,1858.5 599.3,1859.0 601.8,1859.0 604.7,1859.4 607.5,1859.8 610.0,1860.3 612.4,1860.9 614.9,1861.6 617.7,1862.6 620.6,1863.1 623.1,1863.5 625.5,1864.1 628.0,1864.6 630.8,1865.2 633.7,1865.5 636.2,1865.7 638.6,1866.3 641.0,1867.4 643.9,1868.6 646.8,1868.8 649.3,1868.9 651.6,1868.9 654.1,1868.9 657.0,1869.1 659.9,1869.3 662.4,1870.2 664.7,1871.0 667.2,1871.8 670.1,1872.0 673.0,1872.1 675.4,1872.3 677.8,1872.2 680.3,1872.5 683.2,1872.7 685.9,1873.4 688.0,1873.8 690.1,1874.4 692.7,1874.2 696.2,1873.7 698.5,1873.9 700.8,1874.3 703.1,1874.8 705.3,1874.6 707.7,1875.0 710.1,1875.1 712.6,1874.9 715.2,1874.4 718.1,1874.3 720.8,1874.4 723.3,1874.3 725.6,1874.0 727.9,1874.5 730.0,1875.3 732.3,1876.0 734.6,1875.9 737.1,1875.9 739.9,1875.6 742.6,1875.7 745.1,1875.9 747.5,1876.4 749.7,1876.2 751.9,1876.5 754.1,1876.5 756.4,1876.7 758.9,1875.7 761.7,1875.9 764.4,1876.0 766.9,1876.4 769.3,1876.1 771.5,1876.3 773.7,1876.6 775.9,1876.9 778.2,1877.3 780.7,1877.6 783.5,1877.8 786.1,1877.7 788.4,1877.7 790.4,1877.2 792.3,1877.1 794.3,1876.7 796.4,1876.8 798.8,1877.0 801.7,1877.5 805.3,1877.8 807.7,1877.9 810.2,1877.8 812.8,1877.5 815.5,1877.4 818.3,1877.7 821.0,1877.4 823.8,1877.7 826.5,1877.5 829.1,1878.0 831.6,1877.4 834.0,1877.2 836.2,1876.8 838.3,1876.8 840.1,1876.7 841.7,1877.2" fill="none" stroke="#000" stroke-width="2.2" stroke-linejoin="round" stroke-linecap="round" clip-path="url(#cl_c1)"/>
<path d="M168.8,1877.7 170.4,1876.6 172.5,1875.8 174.9,1875.0 177.6,1874.4 179.9,1873.3 181.9,1872.0 184.0,1870.9 186.3,1870.4 188.7,1869.9 190.8,1869.5 192.9,1868.7 195.1,1868.0 197.8,1867.8 200.0,1868.2 202.7,1867.8 204.9,1867.0 207.0,1866.6 209.2,1866.4 211.4,1866.2 214.1,1865.7 216.3,1865.0 219.0,1863.8 221.2,1862.4 223.2,1860.9 225.3,1859.8 227.8,1858.3 229.9,1857.2 231.8,1855.7 233.6,1854.4 235.6,1853.2 237.8,1851.8 240.1,1851.4 242.2,1850.8 244.2,1849.6 246.0,1847.2 247.8,1846.1 250.5,1844.4 252.9,1843.5 255.1,1842.5 257.3,1842.8 260.4,1842.9 262.6,1842.8 264.8,1842.0 267.1,1841.8 269.3,1841.9 271.7,1842.9 274.3,1844.0 276.3,1844.9 278.2,1845.3 280.5,1845.7 282.8,1846.2 284.7,1846.8 286.7,1847.5 289.3,1847.6 291.5,1847.8 293.6,1846.9 295.7,1846.8 297.9,1845.9 300.6,1845.2 303.2,1843.8 305.6,1842.6 307.9,1841.4 310.3,1840.0 313.1,1839.5 315.9,1839.0 318.4,1838.7 320.7,1838.6 323.1,1838.6 325.7,1839.0 328.6,1838.6 330.9,1838.1 333.1,1837.6 335.7,1837.0 338.2,1836.4 340.3,1835.7 342.4,1835.5 345.0,1835.9 347.2,1836.6 349.0,1837.5 350.9,1838.1 353.1,1838.3 355.8,1838.6 358.3,1839.0 360.6,1840.3 363.0,1841.1 365.4,1841.6 368.0,1841.8 370.8,1842.8 373.6,1842.8 376.1,1842.9 378.4,1842.7 380.7,1843.2 383.1,1843.4 385.9,1843.4 388.7,1843.4 391.3,1843.4 393.6,1843.8 395.9,1843.3 398.3,1843.0 401.0,1843.0 403.9,1842.9 406.3,1842.8 408.5,1843.0 410.8,1844.1 413.5,1844.6 416.2,1844.8 418.5,1844.7 420.7,1845.1 423.1,1845.9 426.1,1846.0 428.7,1846.2 431.1,1846.4 433.4,1847.4 435.8,1847.7 438.3,1847.6 441.1,1847.5 443.9,1848.0 446.3,1848.9 448.5,1849.6 450.7,1850.9 453.2,1851.5 456.2,1852.5 458.9,1852.6 461.5,1852.8 463.9,1852.8 466.4,1853.4 468.8,1854.5 471.2,1855.0 473.8,1855.7 476.9,1856.1 479.3,1856.5 481.5,1856.6 483.7,1856.9 486.3,1857.3 489.1,1857.7 491.4,1858.5 493.7,1859.3 496.1,1860.0 498.9,1860.5 501.6,1860.0 504.1,1859.4 506.5,1858.8 508.8,1858.8 511.4,1858.9 514.3,1859.7 516.6,1860.6 518.8,1861.8 521.8,1862.5 524.5,1863.1 526.9,1863.1 529.4,1863.3 532.0,1863.5 534.9,1864.0 537.8,1864.0 540.2,1863.9 542.6,1863.9 545.1,1864.3 548.0,1864.9 550.8,1865.5 553.3,1866.0 555.7,1866.6 558.2,1866.7 561.1,1867.1 563.9,1867.4 566.4,1867.9 568.8,1868.5 571.3,1869.1 574.1,1869.7 577.0,1869.7 579.5,1870.1 581.9,1870.7 584.4,1871.0 587.2,1870.9 590.1,1870.7 592.6,1871.0 594.9,1871.0 597.4,1871.0 600.3,1870.7 603.2,1871.1 605.7,1871.5 608.0,1871.9 610.5,1872.1 613.4,1872.2 616.3,1872.9 618.7,1873.6 621.1,1873.9 623.6,1873.8 626.5,1873.6 629.3,1874.0 631.8,1874.1 634.2,1874.2 636.7,1874.5 639.6,1874.4 642.4,1874.5 644.9,1874.4 647.3,1874.9 649.8,1874.9 652.6,1875.4 655.5,1875.0 658.0,1874.9 660.4,1875.2 662.9,1876.4 665.7,1876.9 668.6,1876.5 671.1,1876.6 673.4,1876.7 675.9,1877.8 678.8,1877.9 681.7,1878.2 684.2,1878.2 686.5,1878.2 689.0,1878.3 691.9,1877.9 694.8,1877.9 697.2,1877.7 699.6,1877.8 702.1,1877.7 705.0,1877.4 707.7,1877.3 709.8,1876.8 711.9,1876.4 714.5,1876.2 718.1,1876.0 720.4,1876.5 722.6,1876.7 724.9,1877.3 727.1,1877.4 729.5,1877.7 731.9,1877.7 734.4,1877.5 737.0,1877.4 739.9,1877.5 742.6,1877.8 745.1,1878.1 747.5,1878.3 749.7,1878.3 751.9,1878.1 754.1,1878.0 756.4,1877.9 758.9,1878.0 761.7,1878.6 764.4,1879.1 766.9,1879.1 769.3,1879.0 771.5,1878.8 773.7,1879.1 775.9,1878.9 778.2,1878.8 780.7,1878.6 783.5,1878.7 786.1,1879.3 788.4,1879.7 790.4,1880.0 792.3,1879.5 794.3,1879.8 796.4,1879.7 798.8,1879.8 801.7,1879.6 805.3,1880.2 807.7,1880.4 810.2,1880.6 812.8,1880.4 815.5,1879.9 818.3,1879.6 821.0,1879.4 823.8,1879.8 826.5,1880.1 829.1,1880.1 831.6,1879.4 834.0,1879.2 836.2,1879.0 838.3,1879.0 840.1,1878.8 841.7,1879.4" fill="none" stroke="#000" stroke-width="2.2" stroke-linejoin="round" stroke-linecap="round" clip-path="url(#cl_c1)"/>
<line x1="168.0" y1="1848.4" x2="178.0" y2="1848.4" stroke="#000" stroke-width="2.0"/>
<line x1="168.1" y1="1348.2" x2="842.3" y2="1348.2" stroke="#a8a8a8" stroke-width="1"/>
<line x1="841.5" y1="1347.7" x2="841.5" y2="1887.8" stroke="#a8a8a8" stroke-width="1"/>
<line x1="168.1" y1="1346.7" x2="168.1" y2="1888.9" stroke="#000" stroke-width="2.2"/>
<line x1="167.0" y1="1887.8" x2="842.9" y2="1887.8" stroke="#000" stroke-width="2.2"/>
<line x1="242.7" y1="1887.8" x2="242.7" y2="1876.3" stroke="#000" stroke-width="2.2"/>
<line x1="542.7" y1="1887.8" x2="542.7" y2="1876.3" stroke="#000" stroke-width="2.2"/>
<line x1="842.7" y1="1887.8" x2="842.7" y2="1876.3" stroke="#000" stroke-width="2.2"/>
<line x1="392.7" y1="1887.8" x2="392.7" y2="1881.3" stroke="#000" stroke-width="2.2"/>
<line x1="692.7" y1="1887.8" x2="692.7" y2="1881.3" stroke="#000" stroke-width="2.2"/>
<text transform="translate(241.8 1924.4) scale(1 1.05)" font-size="32.5" text-anchor="middle">400</text>
<text transform="translate(541.8 1924.4) scale(1 1.05)" font-size="32.5" text-anchor="middle">500</text>
<text transform="translate(841.8 1924.4) scale(1 1.05)" font-size="32.5" text-anchor="middle">600</text>
<line x1="168.1" y1="1347.7" x2="179.6" y2="1347.7" stroke="#000" stroke-width="2.2"/>
<line x1="168.1" y1="1525.8" x2="179.6" y2="1525.8" stroke="#000" stroke-width="2.2"/>
<line x1="168.1" y1="1703.9" x2="179.6" y2="1703.9" stroke="#000" stroke-width="2.2"/>
<line x1="168.1" y1="1882.2" x2="179.6" y2="1882.2" stroke="#000" stroke-width="2.2"/>
<line x1="168.1" y1="1436.7" x2="174.6" y2="1436.7" stroke="#000" stroke-width="2.2"/>
<line x1="168.1" y1="1614.8" x2="174.6" y2="1614.8" stroke="#000" stroke-width="2.2"/>
<line x1="168.1" y1="1793.0" x2="174.6" y2="1793.0" stroke="#000" stroke-width="2.2"/>
<text transform="translate(156.2 1358.6) scale(1 1.05)" font-size="32.5" text-anchor="end">3x10<tspan font-size="18.7" dy="-15.3">4</tspan></text>
<text transform="translate(156.2 1536.9) scale(1 1.05)" font-size="32.5" text-anchor="end">2x10<tspan font-size="18.7" dy="-15.3">4</tspan></text>
<text transform="translate(156.2 1715.0) scale(1 1.05)" font-size="32.5" text-anchor="end">1x10<tspan font-size="18.7" dy="-15.3">4</tspan></text>
<text transform="translate(156.2 1887.2) scale(1 1.05)" font-size="32.5" text-anchor="end">0</text>
<text transform="translate(25.5 1775.3) rotate(-90) scale(1 1.03)" font-size="35.45" font-weight="bold">PL Intensity (counts)</text>
<text transform="translate(501.9 1984.2) scale(1 1.03)" font-size="35.3" font-weight="bold" text-anchor="middle">Wavelenghts (nm)</text>
<text transform="translate(183.0 1388.4) scale(1 1.03)" font-size="33" font-weight="bold">c<tspan font-size="18.5" dy="12.4" dx="0.5">1</tspan></text>
<text transform="translate(828.0 1390.6) scale(1 1.03)" font-size="33.6" font-weight="bold" text-anchor="end">M-SWNTs</text>
<rect x="702.5" y="1409.5" width="128.0" height="254.0" fill="#fff" stroke="#333" stroke-width="1"/>
<line x1="715.4" y1="1451.2" x2="779.1" y2="1451.2" stroke="#000" stroke-width="2.0"/>
<text transform="translate(786.2 1461.0) scale(1 1.05)" font-size="27.2">30</text>
<line x1="715.4" y1="1485.2" x2="779.1" y2="1485.2" stroke="#000" stroke-width="2.0"/>
<text transform="translate(786.2 1495.0) scale(1 1.05)" font-size="27.2">25</text>
<line x1="715.4" y1="1519.6" x2="779.1" y2="1519.6" stroke="#000" stroke-width="2.0"/>
<text transform="translate(786.2 1529.4) scale(1 1.05)" font-size="27.2">20</text>
<line x1="715.4" y1="1553.8" x2="779.1" y2="1553.8" stroke="#000" stroke-width="2.0"/>
<text transform="translate(786.2 1563.6) scale(1 1.05)" font-size="27.2">15</text>
<line x1="715.4" y1="1588.0" x2="779.1" y2="1588.0" stroke="#000" stroke-width="2.0"/>
<text transform="translate(786.2 1597.8) scale(1 1.05)" font-size="27.2">10</text>
<line x1="715.4" y1="1622.4" x2="779.1" y2="1622.4" stroke="#000" stroke-width="2.0"/>
<text transform="translate(793.7 1632.2) scale(1 1.05)" font-size="27.2">5</text>
<line x1="681.0" y1="1434.0" x2="681.0" y2="1641.5" stroke="#000" stroke-width="1.6"/>
<path d="M681,1426 L677.8,1438 L684.2,1438 Z" fill="#000"/>
<text transform="translate(627.0 1707.0) scale(1 1.03)" font-size="33" font-weight="bold"><tspan font-family="'Liberation Serif', 'DejaVu Serif', serif" font-weight="normal" font-size="34">λ</tspan><tspan font-size="20" dy="10.5">exc</tspan><tspan dy="-10.5"> = 350 nm</tspan></text>
<text transform="translate(316.0 1414.0) scale(1 1.03)" font-size="32.4" font-weight="bold">434</text>
<text transform="translate(405.0 1425.3) scale(1 1.03)" font-size="32.4" font-weight="bold">456</text>
<text transform="translate(229.0 1544.0) scale(1 1.03)" font-size="32.4" font-weight="bold">409</text>
<text transform="translate(524.7 1620.5) scale(1 1.03)" font-size="32.4" font-weight="bold">488</text>
<path d="M976.5,534.5 978.1,534.4 980.3,534.0 982.8,533.7 985.7,533.3 988.7,533.0 991.8,532.6 993.9,532.2 996.2,532.3 998.6,532.1 1001.0,531.3 1003.6,530.7 1006.1,530.7 1008.6,530.6 1011.2,530.0 1013.6,529.5 1016.0,529.4 1018.5,529.6 1020.9,529.8 1023.3,529.7 1025.7,529.4 1028.1,528.9 1030.6,528.4 1033.0,528.1 1035.4,527.8 1037.8,527.7 1040.3,527.7 1042.7,528.0 1045.1,527.9 1047.5,527.3 1050.0,526.7 1052.4,526.5 1054.8,526.6 1057.2,526.1 1059.7,525.8 1062.2,525.4 1064.7,525.4 1067.2,525.3 1069.6,525.2 1072.1,525.1 1074.5,524.7 1076.8,524.2 1079.0,524.0 1081.8,524.0 1084.5,524.0 1087.0,523.6 1089.5,523.2 1091.9,522.9 1094.2,522.7 1096.5,522.3 1099.4,521.9 1102.0,521.4 1104.5,520.7 1107.0,520.1 1109.6,519.6 1112.2,519.2 1114.8,518.4 1117.4,517.7 1120.0,516.9 1122.6,516.1 1124.8,514.9 1127.0,513.9 1129.2,513.1 1131.4,512.4 1133.5,511.7 1135.7,511.0 1137.9,510.3 1140.1,509.6 1142.3,508.8 1144.4,508.1 1146.6,506.8 1148.8,506.0 1151.5,505.4 1154.2,504.8 1157.0,504.0 1159.6,503.0 1161.9,502.3 1164.4,501.6 1166.5,500.9 1168.5,500.3 1170.6,499.3 1172.8,498.1 1175.0,496.7 1177.2,495.5 1179.3,494.5 1181.5,493.4 1183.7,492.4 1185.9,491.4 1188.1,490.3 1190.2,488.8 1192.4,487.4 1194.6,485.6 1196.8,483.5 1198.5,481.9 1200.3,480.6 1202.0,479.3 1203.8,477.8 1205.5,476.5 1207.2,474.8 1209.0,472.8 1210.7,470.7 1212.5,468.7 1214.2,467.0 1216.0,465.4 1217.7,463.7 1219.5,462.4 1221.2,461.1 1222.9,459.6 1224.7,457.6 1226.5,455.7 1228.2,454.0 1229.9,452.6 1231.7,451.2 1233.8,449.8 1235.9,448.7 1238.0,447.8 1240.0,446.4 1242.0,445.0 1243.9,443.8 1245.8,442.7 1247.8,441.1 1249.7,439.2 1251.6,437.2 1253.6,435.3 1255.5,433.4 1257.5,431.6 1259.4,429.7 1261.3,427.8 1263.3,425.9 1265.2,424.1 1267.1,422.1 1269.1,420.0 1271.0,417.9 1272.6,416.2 1274.1,414.6 1275.7,412.6 1277.2,410.3 1278.8,407.6 1280.1,405.5 1281.4,403.4 1282.7,401.3 1284.0,399.0 1285.2,396.6 1286.5,394.3 1287.8,392.0 1289.1,390.2 1290.4,388.3 1291.7,386.2 1293.0,383.6 1294.3,381.1 1295.3,379.1 1296.2,377.4 1297.2,375.4 1298.2,373.1 1299.1,370.8 1300.1,368.7 1301.1,366.5 1302.0,363.6 1302.8,361.2 1303.6,359.2 1304.4,357.1 1305.1,355.1 1305.9,352.5 1306.7,349.9 1307.5,347.3 1308.3,345.0 1309.0,342.7 1309.8,340.3 1310.5,337.9 1311.2,335.6 1311.9,333.1 1312.6,330.7 1313.3,328.2 1314.0,326.1 1314.7,323.6 1315.4,321.1 1316.1,318.3 1316.9,316.1 1317.6,313.9 1318.3,311.7 1319.1,309.3 1319.9,307.0 1320.7,304.8 1321.4,302.7 1322.2,300.4 1323.0,297.8 1323.8,295.3 1324.5,293.1 1325.3,291.2 1326.2,288.9 1327.0,286.4 1327.9,283.9 1328.8,281.4 1329.6,279.2 1330.5,277.0 1331.3,274.6 1332.2,272.4 1333.1,270.2 1334.2,268.0 1335.3,265.3 1336.4,263.3 1337.5,260.9 1338.6,258.6 1339.7,256.5 1340.8,254.5 1342.1,252.6 1343.4,250.5 1344.7,248.5 1346.0,246.4 1347.3,244.1 1348.6,242.0 1350.2,239.4 1351.8,237.1 1353.4,234.9 1355.0,233.4 1356.3,231.8 1358.2,230.2 1359.7,229.0 1361.5,227.7 1362.9,226.3 1364.4,224.5 1366.0,222.0 1367.7,219.6 1369.3,217.3 1370.9,215.4 1372.5,213.8 1374.1,212.3 1375.6,210.3 1377.0,208.0 1377.9,206.2 1378.6,204.6 1379.3,202.5 1379.9,200.5 1380.6,198.2 1381.3,195.5 1382.2,192.6 1382.9,191.0 1383.6,189.3 1384.3,187.4 1385.1,184.9 1385.9,182.4 1386.7,179.9 1387.5,177.6 1388.4,175.0 1389.2,172.6 1389.9,169.6 1390.5,167.6 1391.0,165.0 1391.5,163.1 1392.0,160.5 1392.5,158.0 1393.1,155.6 1393.6,153.5 1394.1,151.3 1394.6,148.7 1395.1,146.3 1395.6,143.7 1396.2,141.1 1396.7,138.4 1397.2,136.0 1397.7,133.8 1398.3,131.3 1398.8,128.7 1399.4,126.3 1400.0,123.7 1400.5,121.0 1401.1,118.4 1401.7,116.0 1402.2,113.8 1402.8,111.9 1403.3,109.7 1403.9,107.1 1404.4,104.4 1404.9,102.2 1405.5,99.9 1406.0,97.1 1406.6,94.4 1407.2,92.0 1407.8,89.4 1408.3,86.9 1408.9,84.6 1409.4,82.4 1409.9,79.9 1410.4,77.5 1410.9,75.3 1411.4,73.4 1411.9,71.7 1412.9,68.3 1413.8,65.1 1414.7,62.7 1415.5,60.8 1416.3,59.0 1417.1,57.0 1418.5,53.1 1419.8,50.1 1421.0,48.6 1422.0,49.8 1423.0,52.7 1424.1,55.4 1425.4,57.3 1426.8,59.1 1428.2,62.4 1428.8,64.3 1429.4,66.6 1430.0,68.6 1430.6,71.3 1431.2,73.9 1431.9,77.0 1432.6,80.0 1433.2,82.3 1433.7,84.6 1434.4,86.8 1435.0,89.5 1435.6,92.3 1436.3,95.1 1437.0,97.5 1437.7,100.0 1438.4,102.7 1439.1,105.3 1439.8,107.5 1440.5,109.9 1441.3,112.2 1442.1,114.4 1442.9,116.6 1443.7,119.3 1444.5,121.8 1445.3,123.7 1446.0,125.8 1446.8,128.3 1447.7,130.8 1448.6,133.3 1449.5,135.4 1450.3,138.0 1451.2,140.2 1452.1,142.8 1452.9,145.2 1453.8,147.3 1454.6,149.0 1455.6,151.4 1456.6,154.0 1457.5,156.4 1458.5,158.5 1459.4,160.6 1460.2,162.5 1461.0,164.3 1462.7,167.4 1464.1,170.0 1465.7,171.4 1467.5,170.8 1469.5,168.7 1471.4,166.8 1474.1,165.5 1476.6,164.6 1478.7,164.9 1480.4,165.3 1481.7,163.6 1483.0,162.0 1484.9,162.4 1486.9,163.1 1488.8,162.8 1490.8,163.3 1492.4,164.4 1494.2,165.9 1495.9,168.3 1497.0,170.5 1498.0,172.8 1499.0,175.0 1500.1,177.3 1501.1,179.6 1502.0,181.7 1502.8,184.0 1503.7,186.3 1504.6,188.9 1505.4,191.5 1506.3,194.3 1506.9,196.2 1507.4,198.5 1508.0,200.9 1508.6,203.0 1509.2,205.4 1509.7,208.0 1510.3,211.1 1510.9,213.6 1511.5,216.5 1512.0,218.8 1512.5,220.9 1513.0,222.7 1513.5,224.8 1514.0,227.3 1514.6,229.8 1515.1,232.2 1515.6,234.2 1516.1,236.5 1516.6,239.1 1517.1,242.0 1517.5,244.3 1517.9,246.4 1518.4,248.3 1518.8,250.8 1519.2,253.1 1519.6,255.6 1520.1,258.1 1520.5,260.8 1520.9,263.1 1521.4,265.2 1521.8,267.4 1522.2,269.9 1522.7,272.3 1523.1,274.7 1523.5,277.3 1524.0,279.7 1524.4,282.2 1524.8,284.6 1525.2,287.1 1525.7,289.0 1526.1,291.4 1526.5,293.9 1527.0,296.4 1527.4,298.5 1527.8,300.8 1528.2,302.9 1528.6,305.0 1529.0,307.0 1529.4,309.4 1529.8,311.8 1530.2,314.2 1530.7,316.7 1531.1,319.1 1531.6,321.9 1532.1,324.8 1532.6,327.3 1533.0,329.6 1533.4,331.8 1533.9,333.7 1534.4,335.8 1534.9,338.4 1535.4,341.3 1535.9,343.8 1536.4,346.4 1536.9,348.7 1537.4,351.2 1537.9,353.6 1538.4,356.3 1538.9,358.9 1539.4,361.3 1539.9,363.4 1540.5,366.1 1541.0,368.8 1541.6,371.0 1542.1,373.5 1542.7,375.9 1543.2,378.5 1543.8,381.0 1544.3,383.4 1544.9,385.9 1545.4,388.2 1546.0,390.4 1546.5,392.8 1547.1,395.0 1547.7,397.2 1548.3,399.6 1548.9,402.3 1549.6,404.9 1550.2,407.4 1550.9,409.7 1551.5,412.0 1552.2,414.5 1552.8,416.6 1553.5,418.7 1554.1,420.9 1554.8,423.4 1555.4,425.5 1556.2,428.0 1557.0,430.3 1557.7,432.8 1558.5,435.0 1559.3,437.4 1560.1,439.7 1560.8,442.3 1561.6,444.8 1562.4,447.1 1563.2,449.2 1564.1,451.7 1565.1,454.2 1566.1,456.2 1567.0,458.3 1568.0,460.3 1569.0,462.6 1570.0,464.6 1570.9,466.9 1572.0,469.5 1573.1,471.8 1574.2,474.0 1575.4,476.3 1576.5,478.5 1577.6,480.5 1578.7,482.6 1580.0,484.9 1581.3,487.2 1582.6,489.2 1583.8,491.1 1585.1,493.2 1586.4,495.2 1588.0,497.7 1589.5,499.7 1591.1,501.7 1592.6,503.6 1594.2,505.4 1596.1,507.5 1598.1,509.6 1600.0,511.6 1601.9,513.4 1603.9,515.3 1605.8,517.1 1607.8,518.9 1609.7,520.4 1611.6,521.2 1613.6,521.9 1615.5,523.0 1617.5,524.0 1620.0,525.0 1622.6,525.7 1625.2,526.6 1627.8,527.0 1630.4,527.1 1633.0,527.0 1635.5,526.9 1637.9,526.2 1640.7,525.8 1643.4,525.1 1646.4,524.2 1649.1,523.0 1651.1,522.2" fill="none" stroke="#000" stroke-width="2.3" stroke-linejoin="round" stroke-linecap="round" clip-path="url(#cl_a2)"/>
<text transform="translate(1257.8 515.6) rotate(-90) scale(1 1.05)" font-size="35.1" font-weight="bold" fill="#fb0505">2.5</text>
<text transform="translate(1356.4 406.4) rotate(-90) scale(1 1.05)" font-size="35.1" font-weight="bold" fill="#fb0505">2.67</text>
<text transform="translate(1431.3 306.8) rotate(-90) scale(1 1.05)" font-size="35.1" font-weight="bold" fill="#fb0505">2.82</text>
<text transform="translate(1505.8 403.8) rotate(-90) scale(1 1.05)" font-size="35.1" font-weight="bold" fill="#fb0505">2.97</text>
<text transform="translate(1539.9 509.8) rotate(-90) scale(1 1.05)" font-size="35.1" font-weight="bold" fill="#fb0505">3.04</text>
<path d="M1013.0,534.6 C1015.3,534.6 1022.0,534.6 1026.5,534.6 C1031.0,534.6 1035.5,534.6 1040.0,534.5 C1044.5,534.5 1049.0,534.5 1053.5,534.4 C1058.0,534.4 1062.6,534.3 1067.1,534.2 C1071.6,534.1 1076.1,534.0 1080.6,533.8 C1085.1,533.6 1089.6,533.3 1094.1,532.9 C1098.6,532.5 1103.1,532.1 1107.6,531.4 C1112.1,530.6 1116.6,529.8 1121.1,528.7 C1125.6,527.5 1130.1,526.2 1134.6,524.4 C1139.1,522.6 1143.6,520.5 1148.1,518.0 C1152.6,515.5 1157.2,512.6 1161.7,509.3 C1166.2,506.0 1170.7,502.3 1175.2,498.3 C1179.7,494.3 1184.2,489.9 1188.7,485.5 C1193.2,481.1 1197.7,476.4 1202.2,472.1 C1206.7,467.8 1211.2,463.3 1215.7,459.7 C1220.2,456.0 1224.7,452.5 1229.2,450.0 C1233.7,447.6 1238.2,445.7 1242.7,444.8 C1247.2,443.9 1251.8,443.9 1256.3,444.8 C1260.8,445.7 1265.3,447.6 1269.8,450.0 C1274.3,452.5 1278.8,456.0 1283.3,459.7 C1287.8,463.3 1292.3,467.8 1296.8,472.1 C1301.3,476.4 1305.8,481.1 1310.3,485.5 C1314.8,489.9 1319.3,494.3 1323.8,498.3 C1328.3,502.3 1332.8,506.0 1337.3,509.3 C1341.8,512.6 1346.4,515.5 1350.9,518.0 C1355.4,520.5 1359.9,522.6 1364.4,524.4 C1368.9,526.2 1373.4,527.5 1377.9,528.7 C1382.4,529.8 1386.9,530.6 1391.4,531.4 C1395.9,532.1 1400.4,532.5 1404.9,532.9 C1409.4,533.3 1413.9,533.6 1418.4,533.8 C1422.9,534.0 1427.4,534.1 1431.9,534.2 C1436.4,534.3 1441.0,534.4 1445.5,534.4 C1450.0,534.5 1454.5,534.5 1459.0,534.5 C1463.5,534.6 1468.0,534.6 1472.5,534.6 C1477.0,534.6 1483.7,534.6 1486.0,534.6" fill="none" stroke="#0400d2" stroke-width="2.2" stroke-linejoin="round" stroke-linecap="round" clip-path="url(#cl_a2)"/>
<path d="M1192.2,534.6 C1193.7,534.6 1198.2,534.6 1201.2,534.5 C1204.2,534.5 1207.2,534.5 1210.2,534.4 C1213.2,534.4 1216.2,534.3 1219.2,534.2 C1222.1,534.0 1225.1,533.9 1228.1,533.6 C1231.1,533.3 1234.1,533.0 1237.1,532.4 C1240.1,531.8 1243.1,531.2 1246.1,530.1 C1249.1,529.0 1252.0,527.8 1255.0,525.9 C1258.0,523.9 1261.0,521.7 1264.0,518.6 C1267.0,515.5 1270.0,511.8 1273.0,507.0 C1276.0,502.3 1278.9,496.7 1281.9,489.9 C1284.9,483.2 1287.9,475.3 1290.9,466.4 C1293.9,457.6 1296.9,447.4 1299.9,436.7 C1302.9,426.0 1305.9,414.0 1308.8,402.2 C1311.8,390.4 1314.8,377.6 1317.8,366.0 C1320.8,354.4 1323.8,342.5 1326.8,332.6 C1329.8,322.7 1332.8,313.3 1335.7,306.6 C1338.7,299.9 1341.7,294.8 1344.7,292.4 C1347.7,290.1 1350.7,290.1 1353.7,292.4 C1356.7,294.8 1359.7,299.9 1362.7,306.6 C1365.6,313.3 1368.6,322.7 1371.6,332.6 C1374.6,342.5 1377.6,354.4 1380.6,366.0 C1383.6,377.6 1386.6,390.4 1389.6,402.2 C1392.5,414.0 1395.5,426.0 1398.5,436.7 C1401.5,447.4 1404.5,457.6 1407.5,466.4 C1410.5,475.3 1413.5,483.2 1416.5,489.9 C1419.5,496.7 1422.4,502.3 1425.4,507.0 C1428.4,511.8 1431.4,515.5 1434.4,518.6 C1437.4,521.7 1440.4,523.9 1443.4,525.9 C1446.4,527.8 1449.3,529.0 1452.3,530.1 C1455.3,531.2 1458.3,531.8 1461.3,532.4 C1464.3,533.0 1467.3,533.3 1470.3,533.6 C1473.3,533.9 1476.3,534.0 1479.2,534.2 C1482.2,534.3 1485.2,534.4 1488.2,534.4 C1491.2,534.5 1494.2,534.5 1497.2,534.5 C1500.2,534.6 1504.7,534.6 1506.2,534.6" fill="none" stroke="#0400d2" stroke-width="2.2" stroke-linejoin="round" stroke-linecap="round" clip-path="url(#cl_a2)"/>
<path d="M1289.7,534.6 C1291.0,534.5 1294.8,534.5 1297.3,534.5 C1299.9,534.4 1302.4,534.4 1304.9,534.3 C1307.5,534.2 1310.0,534.1 1312.6,533.9 C1315.1,533.6 1317.6,533.4 1320.2,532.9 C1322.7,532.4 1325.2,531.8 1327.8,530.8 C1330.3,529.8 1332.9,528.7 1335.4,526.8 C1337.9,524.8 1340.5,522.7 1343.0,519.4 C1345.6,516.0 1348.1,512.2 1350.6,506.7 C1353.2,501.3 1355.7,494.9 1358.3,486.6 C1360.8,478.3 1363.3,468.6 1365.9,456.8 C1368.4,445.0 1370.9,431.3 1373.5,415.9 C1376.0,400.4 1378.6,382.7 1381.1,364.1 C1383.6,345.4 1386.2,324.5 1388.7,304.0 C1391.3,283.5 1393.8,261.2 1396.3,241.0 C1398.9,220.8 1401.4,199.9 1404.0,182.7 C1406.5,165.4 1409.0,149.2 1411.6,137.5 C1414.1,125.9 1416.7,116.9 1419.2,112.8 C1421.7,108.7 1424.3,108.7 1426.8,112.8 C1429.3,116.9 1431.9,125.9 1434.4,137.5 C1437.0,149.2 1439.5,165.4 1442.0,182.7 C1444.6,199.9 1447.1,220.8 1449.7,241.0 C1452.2,261.2 1454.7,283.5 1457.3,304.0 C1459.8,324.5 1462.4,345.4 1464.9,364.1 C1467.4,382.7 1470.0,400.4 1472.5,415.9 C1475.1,431.3 1477.6,445.0 1480.1,456.8 C1482.7,468.6 1485.2,478.3 1487.7,486.6 C1490.3,494.9 1492.8,501.3 1495.4,506.7 C1497.9,512.2 1500.4,516.0 1503.0,519.4 C1505.5,522.7 1508.1,524.8 1510.6,526.8 C1513.1,528.7 1515.7,529.8 1518.2,530.8 C1520.8,531.8 1523.3,532.4 1525.8,532.9 C1528.4,533.4 1530.9,533.6 1533.4,533.9 C1536.0,534.1 1538.5,534.2 1541.1,534.3 C1543.6,534.4 1546.1,534.4 1548.7,534.5 C1551.2,534.5 1555.0,534.5 1556.3,534.6" fill="none" stroke="#0400d2" stroke-width="2.2" stroke-linejoin="round" stroke-linecap="round" clip-path="url(#cl_a2)"/>
<path d="M1373.9,534.6 C1375.1,534.6 1378.4,534.6 1380.7,534.5 C1383.0,534.5 1385.2,534.5 1387.5,534.4 C1389.7,534.3 1392.0,534.3 1394.3,534.1 C1396.5,534.0 1398.8,533.8 1401.0,533.5 C1403.3,533.1 1405.6,532.8 1407.8,532.1 C1410.1,531.5 1412.3,530.7 1414.6,529.5 C1416.9,528.2 1419.1,526.8 1421.4,524.7 C1423.7,522.5 1425.9,520.0 1428.2,516.4 C1430.4,512.9 1432.7,508.7 1435.0,503.3 C1437.2,497.9 1439.5,491.6 1441.7,483.9 C1444.0,476.2 1446.3,467.3 1448.5,457.2 C1450.8,447.2 1453.0,435.6 1455.3,423.5 C1457.6,411.3 1459.8,397.7 1462.1,384.3 C1464.3,370.9 1466.6,356.4 1468.9,343.2 C1471.1,330.1 1473.4,316.5 1475.6,305.2 C1477.9,294.0 1480.2,283.4 1482.4,275.8 C1484.7,268.2 1486.9,262.4 1489.2,259.7 C1491.5,257.0 1493.7,257.0 1496.0,259.7 C1498.3,262.4 1500.5,268.2 1502.8,275.8 C1505.0,283.4 1507.3,294.0 1509.6,305.2 C1511.8,316.5 1514.1,330.1 1516.3,343.2 C1518.6,356.4 1520.9,370.9 1523.1,384.3 C1525.4,397.7 1527.6,411.3 1529.9,423.5 C1532.2,435.6 1534.4,447.2 1536.7,457.2 C1538.9,467.3 1541.2,476.2 1543.5,483.9 C1545.7,491.6 1548.0,497.9 1550.2,503.3 C1552.5,508.7 1554.8,512.9 1557.0,516.4 C1559.3,520.0 1561.5,522.5 1563.8,524.7 C1566.1,526.8 1568.3,528.2 1570.6,529.5 C1572.9,530.7 1575.1,531.5 1577.4,532.1 C1579.6,532.8 1581.9,533.1 1584.2,533.5 C1586.4,533.8 1588.7,534.0 1590.9,534.1 C1593.2,534.3 1595.5,534.3 1597.7,534.4 C1600.0,534.5 1602.2,534.5 1604.5,534.5 C1606.8,534.6 1610.1,534.6 1611.3,534.6" fill="none" stroke="#0400d2" stroke-width="2.2" stroke-linejoin="round" stroke-linecap="round" clip-path="url(#cl_a2)"/>
<path d="M1404.9,534.6 C1406.1,534.6 1409.7,534.6 1412.1,534.6 C1414.6,534.6 1417.0,534.5 1419.4,534.5 C1421.8,534.5 1424.2,534.5 1426.6,534.4 C1429.0,534.3 1431.4,534.3 1433.9,534.1 C1436.3,534.0 1438.7,533.8 1441.1,533.6 C1443.5,533.3 1445.9,533.0 1448.3,532.4 C1450.7,531.9 1453.2,531.3 1455.6,530.4 C1458.0,529.4 1460.4,528.3 1462.8,526.8 C1465.2,525.3 1467.6,523.5 1470.0,521.2 C1472.5,518.9 1474.9,516.2 1477.3,512.9 C1479.7,509.6 1482.1,505.8 1484.5,501.6 C1486.9,497.3 1489.3,492.5 1491.8,487.4 C1494.2,482.4 1496.6,476.7 1499.0,471.3 C1501.4,465.8 1503.8,460.0 1506.2,454.7 C1508.6,449.5 1511.1,444.2 1513.5,439.9 C1515.9,435.7 1518.3,431.8 1520.7,429.2 C1523.1,426.6 1525.5,424.8 1527.9,424.3 C1530.4,423.8 1532.8,424.4 1535.2,426.1 C1537.6,427.8 1540.0,430.8 1542.4,434.4 C1544.8,438.0 1547.3,442.7 1549.7,447.6 C1552.1,452.5 1554.5,458.2 1556.9,463.7 C1559.3,469.1 1561.7,474.9 1564.1,480.2 C1566.6,485.5 1569.0,490.8 1571.4,495.5 C1573.8,500.1 1576.2,504.4 1578.6,508.1 C1581.0,511.8 1583.4,515.0 1585.9,517.8 C1588.3,520.5 1590.7,522.7 1593.1,524.5 C1595.5,526.4 1597.9,527.8 1600.3,529.0 C1602.7,530.1 1605.2,530.9 1607.6,531.6 C1610.0,532.3 1612.4,532.7 1614.8,533.1 C1617.2,533.5 1619.6,533.7 1622.0,533.9 C1624.5,534.1 1626.9,534.2 1629.3,534.3 C1631.7,534.4 1634.1,534.4 1636.5,534.5 C1638.9,534.5 1641.3,534.5 1643.8,534.6 C1646.2,534.6 1649.8,534.6 1651.0,534.6" fill="none" stroke="#0400d2" stroke-width="2.2" stroke-linejoin="round" stroke-linecap="round" clip-path="url(#cl_a2)"/>
<line x1="976.6" y1="534.6" x2="1651.0" y2="534.6" stroke="#0400d2" stroke-width="2.4"/>
<line x1="976.6" y1="1.5" x2="1652.0" y2="1.5" stroke="#a8a8a8" stroke-width="1"/>
<line x1="976.6" y1="0.0" x2="976.6" y2="540.7" stroke="#000" stroke-width="2.2"/>
<line x1="975.5" y1="539.6" x2="1652.0" y2="539.6" stroke="#000" stroke-width="2.2"/>
<line x1="1024.8" y1="539.6" x2="1024.8" y2="528.1" stroke="#000" stroke-width="2.2"/>
<line x1="1072.9" y1="539.6" x2="1072.9" y2="533.1" stroke="#000" stroke-width="2.2"/>
<line x1="1121.0" y1="539.6" x2="1121.0" y2="528.1" stroke="#000" stroke-width="2.2"/>
<line x1="1169.1" y1="539.6" x2="1169.1" y2="533.1" stroke="#000" stroke-width="2.2"/>
<line x1="1217.2" y1="539.6" x2="1217.2" y2="528.1" stroke="#000" stroke-width="2.2"/>
<line x1="1265.3" y1="539.6" x2="1265.3" y2="533.1" stroke="#000" stroke-width="2.2"/>
<line x1="1313.4" y1="539.6" x2="1313.4" y2="528.1" stroke="#000" stroke-width="2.2"/>
<line x1="1361.5" y1="539.6" x2="1361.5" y2="533.1" stroke="#000" stroke-width="2.2"/>
<line x1="1409.6" y1="539.6" x2="1409.6" y2="528.1" stroke="#000" stroke-width="2.2"/>
<line x1="1457.7" y1="539.6" x2="1457.7" y2="533.1" stroke="#000" stroke-width="2.2"/>
<line x1="1505.8" y1="539.6" x2="1505.8" y2="528.1" stroke="#000" stroke-width="2.2"/>
<line x1="1553.9" y1="539.6" x2="1553.9" y2="533.1" stroke="#000" stroke-width="2.2"/>
<line x1="1602.0" y1="539.6" x2="1602.0" y2="528.1" stroke="#000" stroke-width="2.2"/>
<line x1="1650.1" y1="539.6" x2="1650.1" y2="533.1" stroke="#000" stroke-width="2.2"/>
<text transform="translate(1024.3 578.6) scale(1 1.05)" font-size="35.2" text-anchor="middle">2,0</text>
<text transform="translate(1120.5 578.6) scale(1 1.05)" font-size="35.2" text-anchor="middle">2,2</text>
<text transform="translate(1216.7 578.6) scale(1 1.05)" font-size="35.2" text-anchor="middle">2,4</text>
<text transform="translate(1312.9 578.6) scale(1 1.05)" font-size="35.2" text-anchor="middle">2,6</text>
<text transform="translate(1409.1 578.6) scale(1 1.05)" font-size="35.2" text-anchor="middle">2,8</text>
<text transform="translate(1505.3 578.6) scale(1 1.05)" font-size="35.2" text-anchor="middle">3,0</text>
<text transform="translate(1601.5 578.6) scale(1 1.05)" font-size="35.2" text-anchor="middle">3,2</text>
<line x1="976.6" y1="49.6" x2="988.1" y2="49.6" stroke="#000" stroke-width="2.2"/>
<line x1="976.6" y1="292.3" x2="988.1" y2="292.3" stroke="#000" stroke-width="2.2"/>
<line x1="976.6" y1="170.9" x2="983.1" y2="170.9" stroke="#000" stroke-width="2.2"/>
<line x1="976.6" y1="413.6" x2="983.1" y2="413.6" stroke="#000" stroke-width="2.2"/>
<text transform="translate(1018.2 50.9) scale(1 1.03)" font-size="41" font-weight="bold">a<tspan font-size="24.0" dy="14.0" dx="-0.6">2</tspan></text>
<text transform="translate(943.9 474.0) rotate(-90) scale(1 1.03)" font-size="35.4" font-weight="bold">Normalized PL Intensity</text>
<text transform="translate(1342.0 623.2) scale(1 1.03)" font-size="35.3" font-weight="bold" text-anchor="middle">Energy (eV)</text>
<path d="M976.5,1194.8 977.0,1196.5 978.0,1199.0 979.1,1202.5 980.2,1204.4 980.9,1205.4 982.7,1206.0 985.5,1206.7 987.4,1206.4 989.3,1206.1 992.1,1207.0 994.0,1208.0 995.3,1207.9 997.3,1205.8 999.3,1203.2 1000.5,1202.1 1001.6,1200.2 1003.3,1197.3 1004.9,1193.5 1006.0,1192.5 1008.8,1191.9 1011.4,1192.8 1012.5,1194.2 1013.6,1195.6 1015.4,1195.1 1018.2,1195.1 1020.2,1195.4 1022.0,1194.2 1024.8,1191.3 1026.7,1190.1 1028.0,1191.5 1030.0,1195.3 1032.0,1198.2 1033.2,1199.3 1034.5,1197.7 1036.3,1195.1 1037.6,1193.7 1039.4,1193.0 1042.2,1192.9 1044.1,1192.5 1045.8,1191.6 1048.1,1189.7 1049.6,1188.1 1051.3,1189.7 1052.9,1191.4 1054.9,1192.0 1057.2,1191.9 1058.6,1191.0 1061.0,1189.2 1063.4,1186.7 1064.9,1185.8 1067.6,1185.6 1070.3,1186.5 1071.6,1187.3 1073.6,1189.2 1075.6,1190.5 1076.8,1191.6 1078.5,1193.5 1080.8,1195.5 1082.3,1196.7 1083.5,1195.0 1085.3,1192.1 1086.7,1189.7 1088.0,1188.7 1090.4,1186.9 1092.8,1185.6 1094.3,1184.4 1096.5,1183.4 1099.8,1182.0 1101.9,1182.2 1103.6,1183.8 1105.8,1186.2 1107.4,1186.9 1110.1,1187.9 1112.8,1188.5 1114.1,1187.5 1115.9,1185.0 1117.2,1183.3 1119.3,1181.8 1121.5,1181.6 1122.3,1183.1 1123.5,1186.4 1124.9,1189.9 1126.2,1193.1 1127.0,1193.9 1127.9,1192.6 1129.5,1189.9 1131.2,1187.2 1132.7,1184.6 1133.5,1183.4 1135.2,1182.2 1136.8,1181.2 1138.3,1181.7 1140.7,1183.2 1142.3,1184.2 1145.0,1184.4 1147.7,1184.0 1148.6,1183.1 1149.9,1180.6 1151.2,1178.2 1152.1,1176.6 1153.1,1175.1 1154.8,1171.5 1156.5,1168.5 1157.5,1166.8 1159.7,1168.2 1161.9,1170.0 1164.6,1170.6 1167.3,1171.0 1169.5,1169.6 1171.7,1168.2 1173.9,1167.8 1176.1,1167.6 1177.6,1169.4 1179.3,1170.3 1180.5,1168.9 1182.5,1167.0 1184.6,1164.8 1185.9,1163.1 1186.3,1161.9 1187.0,1160.2 1187.8,1157.4 1188.6,1154.2 1189.5,1150.9 1190.3,1148.3 1190.9,1145.7 1191.3,1144.2 1192.9,1142.0 1195.3,1139.8 1196.8,1138.8 1198.5,1136.8 1200.0,1135.8 1201.1,1138.2 1202.2,1140.8 1203.2,1139.0 1204.8,1136.0 1206.6,1132.9 1207.7,1131.3 1208.6,1130.0 1210.1,1126.9 1211.8,1123.8 1213.3,1121.3 1214.2,1120.1 1215.5,1119.2 1217.5,1116.9 1219.5,1114.9 1220.8,1113.0 1223.0,1113.5 1226.2,1114.8 1228.4,1115.2 1229.5,1113.4 1231.2,1110.2 1232.8,1107.4 1233.8,1105.5 1234.4,1103.6 1235.3,1100.1 1236.3,1096.3 1237.4,1093.0 1238.2,1090.6 1238.6,1089.9 1240.0,1087.9 1240.9,1086.0 1242.5,1083.2 1244.1,1080.6 1245.2,1079.6 1247.8,1078.5 1250.3,1077.7 1250.9,1076.7 1251.8,1075.0 1252.9,1072.2 1254.0,1068.9 1254.9,1066.0 1255.5,1064.7 1256.2,1063.0 1257.3,1060.0 1258.7,1056.9 1260.1,1053.9 1261.3,1051.7 1262.0,1050.6 1263.8,1050.0 1266.5,1049.6 1268.4,1049.2 1270.0,1048.6 1272.4,1046.7 1274.8,1045.0 1276.2,1044.0 1278.8,1041.1 1280.7,1040.7 1282.7,1040.3 1284.6,1038.9 1286.5,1037.2 1287.6,1035.7 1289.3,1033.7 1290.4,1031.1 1290.7,1030.1 1291.2,1028.0 1291.9,1026.0 1292.6,1023.0 1293.3,1019.5 1294.1,1015.3 1294.7,1012.4 1295.2,1010.4 1295.6,1010.0 1297.1,1008.1 1299.2,1006.5 1300.8,1005.2 1301.7,1004.1 1303.1,1001.3 1304.8,998.7 1306.3,996.1 1307.2,994.3 1307.6,992.7 1308.1,991.1 1308.8,989.0 1309.5,986.3 1310.2,983.4 1310.9,980.3 1311.5,977.5 1312.1,975.1 1312.4,973.5 1312.9,972.0 1313.6,970.2 1314.5,967.8 1315.5,964.8 1316.4,962.3 1317.1,960.0 1317.6,958.4 1318.1,957.0 1319.0,955.2 1320.1,952.6 1321.2,949.3 1322.1,947.3 1322.7,946.0 1323.1,944.7 1323.8,942.8 1324.6,940.3 1325.5,937.5 1326.4,933.7 1327.3,930.9 1328.1,928.4 1328.8,926.2 1329.2,924.4 1329.7,922.4 1330.5,921.0 1331.4,919.0 1332.5,916.0 1333.5,912.7 1334.5,910.1 1335.2,908.3 1335.7,907.3 1336.9,904.7 1338.5,901.4 1339.5,899.2 1340.6,897.3 1342.3,894.3 1343.4,892.3 1344.9,890.9 1347.1,888.2 1348.6,886.2 1349.9,883.4 1351.2,880.8 1353.7,880.1 1356.3,879.6 1357.8,879.1 1360.0,877.3 1361.5,876.2 1363.3,874.9 1366.1,872.9 1368.0,871.2 1369.8,871.7 1372.6,872.8 1374.4,874.4 1376.3,876.1 1379.0,878.7 1380.9,879.8 1382.2,879.3 1384.2,877.7 1386.1,875.5 1387.4,873.7 1387.9,872.5 1388.6,870.1 1389.5,867.7 1390.5,864.5 1391.3,861.8 1392.1,859.4 1392.5,857.7 1392.8,856.0 1393.3,853.9 1393.8,852.0 1394.5,849.2 1395.2,846.2 1395.8,842.7 1396.5,840.0 1397.0,837.7 1397.4,835.9 1397.7,834.2 1397.9,833.1 1398.3,831.3 1398.7,828.1 1399.2,824.2 1399.7,821.2 1400.2,818.3 1400.6,815.2 1401.0,811.9 1401.4,809.9 1401.6,808.8 1401.8,807.5 1402.1,805.4 1402.4,802.7 1402.8,799.7 1403.3,796.1 1403.7,792.4 1404.2,789.1 1404.6,785.8 1405.0,783.3 1405.3,781.6 1405.5,781.0 1405.7,780.0 1405.9,777.3 1406.3,773.8 1406.7,770.1 1407.2,766.7 1407.6,763.9 1408.1,761.2 1408.5,758.4 1408.9,755.7 1409.1,753.6 1409.3,752.1 1409.7,750.0 1410.3,746.7 1410.9,743.0 1411.7,739.2 1412.3,736.2 1412.9,734.5 1413.2,733.4 1414.5,731.5 1415.8,729.7 1416.9,727.8 1418.5,725.3 1419.7,724.0 1422.2,722.9 1424.9,722.7 1426.3,724.2 1428.5,726.3 1430.0,727.0 1431.9,727.4 1434.6,728.7 1436.5,730.4 1437.5,732.2 1439.1,735.3 1440.7,737.4 1441.7,738.7 1444.2,739.2 1446.8,739.9 1447.8,741.2 1449.4,744.2 1451.0,746.7 1452.0,747.8 1453.1,748.9 1454.7,751.5 1455.9,753.2 1458.4,752.4 1461.0,752.3 1462.1,753.9 1463.7,757.0 1465.2,759.3 1466.2,760.1 1468.2,759.2 1470.1,758.6 1471.0,759.9 1472.6,762.4 1474.2,765.0 1475.3,767.0 1477.1,768.5 1479.8,770.8 1481.7,772.6 1482.6,774.2 1484.1,775.8 1485.8,778.8 1487.3,781.1 1488.2,782.8 1489.1,783.6 1490.6,785.7 1492.3,788.5 1493.8,790.7 1494.7,792.6 1495.8,794.8 1497.4,798.0 1498.5,799.3 1499.5,800.7 1501.1,803.3 1502.7,806.3 1503.7,808.0 1506.4,806.7 1508.9,804.9 1511.5,803.7 1514.0,804.9 1516.0,803.5 1517.9,802.1 1519.8,803.5 1521.8,805.7 1522.5,807.2 1523.7,809.8 1525.0,812.0 1526.2,814.3 1527.0,815.7 1529.6,817.2 1532.1,818.5 1532.6,820.1 1533.3,822.7 1534.1,826.0 1534.9,829.5 1535.6,832.8 1536.0,834.4 1536.3,835.4 1536.8,837.8 1537.3,841.4 1538.0,844.8 1538.6,848.2 1539.1,850.9 1539.6,853.6 1539.9,855.0 1540.2,857.1 1540.6,859.2 1541.2,862.1 1541.8,864.9 1542.5,867.9 1543.0,871.3 1543.5,874.1 1543.8,876.0 1544.0,877.4 1544.4,879.9 1544.9,882.5 1545.5,885.2 1546.0,888.4 1546.6,892.2 1547.0,894.9 1547.4,897.1 1547.7,899.0 1547.8,900.6 1548.0,902.6 1548.2,905.4 1548.5,908.6 1548.8,911.8 1549.1,914.9 1549.4,918.5 1549.6,921.6 1549.9,923.8 1550.1,926.2 1550.2,927.9 1550.4,929.4 1550.6,930.7 1550.9,932.9 1551.2,935.6 1551.6,938.1 1551.9,940.5 1552.3,942.8 1552.7,946.1 1553.1,949.5 1553.4,953.0 1553.7,955.7 1554.0,957.5 1554.1,958.6 1554.3,959.7 1554.5,962.0 1554.8,964.0 1555.1,966.7 1555.5,969.0 1555.9,972.3 1556.2,975.4 1556.6,979.0 1557.0,982.1 1557.3,984.8 1557.6,986.4 1557.8,988.1 1558.0,989.8 1558.2,991.7 1558.4,993.0 1558.7,994.2 1559.0,996.3 1559.3,999.7 1559.7,1003.4 1560.1,1006.6 1560.5,1009.6 1560.8,1012.6 1561.2,1015.5 1561.5,1017.7 1561.7,1019.2 1561.9,1020.8 1562.1,1022.4 1562.4,1024.1 1562.7,1025.7 1563.2,1028.0 1563.6,1030.8 1564.1,1034.1 1564.7,1037.6 1565.2,1040.7 1565.7,1043.1 1566.1,1045.4 1566.5,1048.1 1566.8,1050.1 1567.0,1051.5 1567.3,1053.0 1567.7,1055.2 1568.1,1057.5 1568.7,1059.9 1569.3,1062.9 1569.9,1066.0 1570.5,1068.7 1571.2,1072.0 1571.8,1074.7 1572.3,1077.2 1572.8,1078.4 1573.2,1079.7 1573.5,1081.2 1573.8,1083.5 1574.3,1086.1 1574.8,1088.5 1575.5,1090.6 1576.2,1093.3 1577.0,1096.2 1577.7,1099.4 1578.5,1102.4 1579.2,1105.9 1579.9,1109.1 1580.5,1111.3 1580.9,1112.7 1581.3,1113.5 1581.7,1114.7 1582.2,1116.9 1583.0,1120.1 1583.8,1123.1 1584.7,1125.2 1585.6,1127.6 1586.5,1130.2 1587.3,1133.4 1588.0,1136.0 1588.6,1138.1 1589.0,1138.9 1589.7,1140.6 1590.8,1143.4 1592.2,1146.6 1593.6,1149.9 1595.0,1151.8 1596.1,1154.2 1596.8,1155.3 1597.9,1157.2 1599.7,1159.2 1601.7,1161.6 1603.4,1163.8 1604.5,1165.1 1606.8,1166.2 1610.0,1167.1 1612.3,1167.5 1614.5,1168.2 1617.8,1169.7 1620.0,1170.6 1621.5,1171.9 1623.9,1174.2 1626.3,1176.5 1627.8,1178.1 1630.1,1177.7 1633.4,1176.1 1635.6,1173.4 1636.4,1171.4 1637.5,1169.1 1638.9,1167.5 1640.0,1165.4 1640.7,1164.2 1641.5,1162.2 1642.6,1159.6 1644.0,1156.0 1645.2,1153.3 1645.9,1151.7 1646.9,1150.2 1648.6,1147.9 1650.2,1145.9 1651.1,1145.0" fill="none" stroke="#000" stroke-width="2.3" stroke-linejoin="round" stroke-linecap="round" clip-path="url(#cl_b2)"/>
<text transform="translate(1294.3 1148.2) rotate(-90) scale(1 1.05)" font-size="35.1" font-weight="bold" fill="#fb0505">2.54</text>
<text transform="translate(1381.2 1111.3) rotate(-90) scale(1 1.05)" font-size="35.1" font-weight="bold" fill="#fb0505">2.72</text>
<text transform="translate(1451.0 960.5) rotate(-90) scale(1 1.05)" font-size="35.1" font-weight="bold" fill="#fb0505">2.85</text>
<text transform="translate(1530.3 1000.0) rotate(-90) scale(1 1.05)" font-size="35.1" font-weight="bold" fill="#fb0505">3.01</text>
<text transform="translate(1576.9 1169.0) rotate(-90) scale(1 1.05)" font-size="35.1" font-weight="bold" fill="#fb0505">3.11</text>
<path d="M1004.5,1207.2 C1007.2,1207.2 1015.1,1207.2 1020.5,1207.2 C1025.8,1207.1 1031.1,1207.1 1036.4,1207.1 C1041.8,1207.0 1047.1,1207.0 1052.4,1206.9 C1057.7,1206.8 1063.1,1206.7 1068.4,1206.5 C1073.7,1206.4 1079.0,1206.2 1084.4,1205.8 C1089.7,1205.4 1095.0,1205.0 1100.3,1204.2 C1105.7,1203.5 1111.0,1202.7 1116.3,1201.5 C1121.6,1200.2 1126.9,1198.8 1132.3,1196.7 C1137.6,1194.7 1142.9,1192.3 1148.2,1189.1 C1153.6,1186.0 1158.9,1182.4 1164.2,1177.9 C1169.5,1173.5 1174.9,1168.3 1180.2,1162.5 C1185.5,1156.7 1190.8,1150.0 1196.2,1143.0 C1201.5,1136.0 1206.8,1128.1 1212.1,1120.4 C1217.5,1112.7 1222.8,1104.3 1228.1,1096.7 C1233.4,1089.0 1238.7,1081.2 1244.1,1074.7 C1249.4,1068.2 1254.7,1062.1 1260.0,1057.7 C1265.4,1053.3 1270.7,1050.0 1276.0,1048.4 C1281.3,1046.9 1286.7,1046.9 1292.0,1048.4 C1297.3,1050.0 1302.6,1053.3 1308.0,1057.7 C1313.3,1062.1 1318.6,1068.2 1323.9,1074.7 C1329.3,1081.2 1334.6,1089.0 1339.9,1096.7 C1345.2,1104.3 1350.5,1112.7 1355.9,1120.4 C1361.2,1128.1 1366.5,1136.0 1371.8,1143.0 C1377.2,1150.0 1382.5,1156.7 1387.8,1162.5 C1393.1,1168.3 1398.5,1173.5 1403.8,1177.9 C1409.1,1182.4 1414.4,1186.0 1419.8,1189.1 C1425.1,1192.3 1430.4,1194.7 1435.7,1196.7 C1441.1,1198.8 1446.4,1200.2 1451.7,1201.5 C1457.0,1202.7 1462.3,1203.5 1467.7,1204.2 C1473.0,1205.0 1478.3,1205.4 1483.6,1205.8 C1489.0,1206.2 1494.3,1206.4 1499.6,1206.5 C1504.9,1206.7 1510.3,1206.8 1515.6,1206.9 C1520.9,1207.0 1526.2,1207.0 1531.6,1207.1 C1536.9,1207.1 1542.2,1207.1 1547.5,1207.2 C1552.9,1207.2 1560.8,1207.2 1563.5,1207.2" fill="none" stroke="#0400d2" stroke-width="2.2" stroke-linejoin="round" stroke-linecap="round" clip-path="url(#cl_b2)"/>
<path d="M1191.7,1207.2 C1193.4,1207.2 1198.4,1207.2 1201.8,1207.1 C1205.1,1207.1 1208.5,1207.1 1211.8,1207.1 C1215.2,1207.0 1218.6,1207.0 1221.9,1206.9 C1225.3,1206.8 1228.6,1206.7 1232.0,1206.4 C1235.4,1206.2 1238.7,1206.0 1242.1,1205.5 C1245.4,1205.1 1248.8,1204.6 1252.1,1203.8 C1255.5,1202.9 1258.9,1202.0 1262.2,1200.5 C1265.6,1199.1 1268.9,1197.4 1272.3,1195.0 C1275.7,1192.6 1279.0,1189.8 1282.4,1186.2 C1285.7,1182.6 1289.1,1178.3 1292.4,1173.2 C1295.8,1168.0 1299.2,1162.0 1302.5,1155.2 C1305.9,1148.5 1309.2,1140.7 1312.6,1132.6 C1315.9,1124.4 1319.3,1115.2 1322.7,1106.3 C1326.0,1097.3 1329.4,1087.5 1332.7,1078.7 C1336.1,1069.8 1339.5,1060.7 1342.8,1053.2 C1346.2,1045.6 1349.5,1038.5 1352.9,1033.4 C1356.2,1028.3 1359.6,1024.4 1363.0,1022.6 C1366.3,1020.8 1369.7,1020.8 1373.0,1022.6 C1376.4,1024.4 1379.8,1028.3 1383.1,1033.4 C1386.5,1038.5 1389.8,1045.6 1393.2,1053.2 C1396.5,1060.7 1399.9,1069.8 1403.3,1078.7 C1406.6,1087.5 1410.0,1097.3 1413.3,1106.3 C1416.7,1115.2 1420.1,1124.4 1423.4,1132.6 C1426.8,1140.7 1430.1,1148.5 1433.5,1155.2 C1436.8,1162.0 1440.2,1168.0 1443.6,1173.2 C1446.9,1178.3 1450.3,1182.6 1453.6,1186.2 C1457.0,1189.8 1460.3,1192.6 1463.7,1195.0 C1467.1,1197.4 1470.4,1199.1 1473.8,1200.5 C1477.1,1202.0 1480.5,1202.9 1483.9,1203.8 C1487.2,1204.6 1490.6,1205.1 1493.9,1205.5 C1497.3,1206.0 1500.6,1206.2 1504.0,1206.4 C1507.4,1206.7 1510.7,1206.8 1514.1,1206.9 C1517.4,1207.0 1520.8,1207.0 1524.2,1207.1 C1527.5,1207.1 1530.9,1207.1 1534.2,1207.1 C1537.6,1207.2 1542.6,1207.2 1544.3,1207.2" fill="none" stroke="#0400d2" stroke-width="2.2" stroke-linejoin="round" stroke-linecap="round" clip-path="url(#cl_b2)"/>
<path d="M1273.5,1207.2 C1275.0,1207.2 1279.6,1207.1 1282.6,1207.1 C1285.6,1207.1 1288.7,1207.0 1291.7,1206.9 C1294.7,1206.8 1297.7,1206.7 1300.8,1206.5 C1303.8,1206.3 1306.8,1206.1 1309.9,1205.6 C1312.9,1205.2 1315.9,1204.7 1319.0,1203.7 C1322.0,1202.8 1325.0,1201.8 1328.0,1200.1 C1331.1,1198.3 1334.1,1196.4 1337.1,1193.4 C1340.2,1190.3 1343.2,1186.8 1346.2,1181.9 C1349.3,1176.9 1352.3,1171.2 1355.3,1163.6 C1358.4,1156.1 1361.4,1147.3 1364.4,1136.5 C1367.4,1125.8 1370.5,1113.4 1373.5,1099.4 C1376.5,1085.3 1379.6,1069.3 1382.6,1052.3 C1385.6,1035.4 1388.7,1016.4 1391.7,997.7 C1394.7,979.1 1397.7,958.9 1400.8,940.5 C1403.8,922.2 1406.8,903.2 1409.9,887.6 C1412.9,871.9 1415.9,857.1 1419.0,846.5 C1422.0,836.0 1425.0,827.8 1428.1,824.1 C1431.1,820.4 1434.1,820.4 1437.1,824.1 C1440.2,827.8 1443.2,836.0 1446.2,846.5 C1449.3,857.1 1452.3,871.9 1455.3,887.6 C1458.4,903.2 1461.4,922.2 1464.4,940.5 C1467.5,958.9 1470.5,979.1 1473.5,997.7 C1476.5,1016.4 1479.6,1035.4 1482.6,1052.3 C1485.6,1069.3 1488.7,1085.3 1491.7,1099.4 C1494.7,1113.4 1497.8,1125.8 1500.8,1136.5 C1503.8,1147.3 1506.8,1156.1 1509.9,1163.6 C1512.9,1171.2 1515.9,1176.9 1519.0,1181.9 C1522.0,1186.8 1525.0,1190.3 1528.1,1193.4 C1531.1,1196.4 1534.1,1198.3 1537.2,1200.1 C1540.2,1201.8 1543.2,1202.8 1546.2,1203.7 C1549.3,1204.7 1552.3,1205.2 1555.3,1205.6 C1558.4,1206.1 1561.4,1206.3 1564.4,1206.5 C1567.5,1206.7 1570.5,1206.8 1573.5,1206.9 C1576.5,1207.0 1579.6,1207.1 1582.6,1207.1 C1585.6,1207.1 1590.2,1207.2 1591.7,1207.2" fill="none" stroke="#0400d2" stroke-width="2.2" stroke-linejoin="round" stroke-linecap="round" clip-path="url(#cl_b2)"/>
<path d="M1361.9,1207.2 C1363.3,1207.2 1367.5,1207.1 1370.4,1207.1 C1373.2,1207.1 1376.0,1207.0 1378.9,1207.0 C1381.7,1206.9 1384.5,1206.8 1387.4,1206.6 C1390.2,1206.4 1393.0,1206.2 1395.9,1205.8 C1398.7,1205.4 1401.5,1205.0 1404.4,1204.2 C1407.2,1203.4 1410.0,1202.5 1412.9,1201.0 C1415.7,1199.5 1418.5,1197.8 1421.4,1195.2 C1424.2,1192.5 1427.1,1189.5 1429.9,1185.2 C1432.7,1180.9 1435.6,1175.8 1438.4,1169.3 C1441.2,1162.7 1444.1,1155.0 1446.9,1145.7 C1449.7,1136.4 1452.6,1125.6 1455.4,1113.5 C1458.2,1101.3 1461.1,1087.3 1463.9,1072.7 C1466.7,1058.0 1469.6,1041.6 1472.4,1025.5 C1475.2,1009.5 1478.1,992.1 1480.9,976.3 C1483.7,960.6 1486.6,944.4 1489.4,931.1 C1492.3,917.8 1495.1,905.3 1497.9,896.5 C1500.8,887.7 1503.6,881.0 1506.4,878.2 C1509.3,875.3 1512.1,875.7 1514.9,879.3 C1517.8,882.9 1520.6,890.3 1523.4,899.7 C1526.3,909.1 1529.1,922.1 1531.9,935.8 C1534.8,949.5 1537.6,965.9 1540.4,981.8 C1543.3,997.7 1546.1,1015.1 1548.9,1031.0 C1551.8,1047.0 1554.6,1063.2 1557.5,1077.6 C1560.3,1092.0 1563.1,1105.7 1566.0,1117.5 C1568.8,1129.4 1571.6,1139.8 1574.5,1148.8 C1577.3,1157.8 1580.1,1165.1 1583.0,1171.4 C1585.8,1177.7 1588.6,1182.5 1591.5,1186.6 C1594.3,1190.7 1597.1,1193.5 1600.0,1196.0 C1602.8,1198.5 1605.6,1200.1 1608.5,1201.5 C1611.3,1202.9 1614.1,1203.7 1617.0,1204.4 C1619.8,1205.2 1622.7,1205.6 1625.5,1206.0 C1628.3,1206.3 1631.2,1206.5 1634.0,1206.7 C1636.8,1206.8 1639.7,1206.9 1642.5,1207.0 C1645.3,1207.1 1649.6,1207.1 1651.0,1207.1" fill="none" stroke="#0400d2" stroke-width="2.2" stroke-linejoin="round" stroke-linecap="round" clip-path="url(#cl_b2)"/>
<path d="M1427.3,1207.2 C1428.6,1207.2 1432.4,1207.2 1435.0,1207.2 C1437.6,1207.1 1440.2,1207.1 1442.7,1207.1 C1445.3,1207.1 1447.9,1207.0 1450.4,1207.0 C1453.0,1206.9 1455.6,1206.8 1458.2,1206.6 C1460.7,1206.4 1463.3,1206.3 1465.9,1205.9 C1468.4,1205.6 1471.0,1205.2 1473.6,1204.5 C1476.2,1203.9 1478.7,1203.1 1481.3,1202.0 C1483.9,1200.9 1486.4,1199.5 1489.0,1197.7 C1491.6,1195.8 1494.2,1193.6 1496.7,1190.8 C1499.3,1188.0 1501.9,1184.7 1504.4,1180.7 C1507.0,1176.7 1509.6,1172.0 1512.2,1166.8 C1514.7,1161.6 1517.3,1155.6 1519.9,1149.4 C1522.4,1143.2 1525.0,1136.2 1527.6,1129.5 C1530.2,1122.8 1532.7,1115.5 1535.3,1109.0 C1537.9,1102.5 1540.4,1095.9 1543.0,1090.6 C1545.6,1085.2 1548.1,1080.3 1550.7,1077.0 C1553.3,1073.6 1555.9,1071.3 1558.4,1070.5 C1561.0,1069.8 1563.6,1070.4 1566.1,1072.4 C1568.7,1074.3 1571.3,1077.9 1573.9,1082.2 C1576.4,1086.5 1579.0,1092.3 1581.6,1098.2 C1584.1,1104.2 1586.7,1111.2 1589.3,1117.9 C1591.9,1124.6 1594.4,1131.9 1597.0,1138.4 C1599.6,1145.0 1602.1,1151.6 1604.7,1157.4 C1607.3,1163.2 1609.9,1168.7 1612.4,1173.3 C1615.0,1178.0 1617.6,1182.1 1620.1,1185.5 C1622.7,1189.0 1625.3,1191.8 1627.9,1194.2 C1630.4,1196.6 1633.0,1198.3 1635.6,1199.8 C1638.1,1201.4 1640.7,1202.4 1643.3,1203.3 C1645.9,1204.2 1649.7,1204.9 1651.0,1205.2" fill="none" stroke="#0400d2" stroke-width="2.2" stroke-linejoin="round" stroke-linecap="round" clip-path="url(#cl_b2)"/>
<line x1="976.6" y1="1207.2" x2="1651.0" y2="1207.2" stroke="#0400d2" stroke-width="2.4"/>
<line x1="976.6" y1="674.5" x2="1652.0" y2="674.5" stroke="#a8a8a8" stroke-width="1"/>
<line x1="976.6" y1="673.0" x2="976.6" y2="1213.5" stroke="#000" stroke-width="2.2"/>
<line x1="975.5" y1="1212.4" x2="1652.0" y2="1212.4" stroke="#000" stroke-width="2.2"/>
<line x1="1024.8" y1="1212.4" x2="1024.8" y2="1200.9" stroke="#000" stroke-width="2.2"/>
<line x1="1072.9" y1="1212.4" x2="1072.9" y2="1205.9" stroke="#000" stroke-width="2.2"/>
<line x1="1121.0" y1="1212.4" x2="1121.0" y2="1200.9" stroke="#000" stroke-width="2.2"/>
<line x1="1169.1" y1="1212.4" x2="1169.1" y2="1205.9" stroke="#000" stroke-width="2.2"/>
<line x1="1217.2" y1="1212.4" x2="1217.2" y2="1200.9" stroke="#000" stroke-width="2.2"/>
<line x1="1265.3" y1="1212.4" x2="1265.3" y2="1205.9" stroke="#000" stroke-width="2.2"/>
<line x1="1313.4" y1="1212.4" x2="1313.4" y2="1200.9" stroke="#000" stroke-width="2.2"/>
<line x1="1361.5" y1="1212.4" x2="1361.5" y2="1205.9" stroke="#000" stroke-width="2.2"/>
<line x1="1409.6" y1="1212.4" x2="1409.6" y2="1200.9" stroke="#000" stroke-width="2.2"/>
<line x1="1457.7" y1="1212.4" x2="1457.7" y2="1205.9" stroke="#000" stroke-width="2.2"/>
<line x1="1505.8" y1="1212.4" x2="1505.8" y2="1200.9" stroke="#000" stroke-width="2.2"/>
<line x1="1553.9" y1="1212.4" x2="1553.9" y2="1205.9" stroke="#000" stroke-width="2.2"/>
<line x1="1602.0" y1="1212.4" x2="1602.0" y2="1200.9" stroke="#000" stroke-width="2.2"/>
<line x1="1650.1" y1="1212.4" x2="1650.1" y2="1205.9" stroke="#000" stroke-width="2.2"/>
<text transform="translate(1024.3 1251.4) scale(1 1.05)" font-size="35.2" text-anchor="middle">2,0</text>
<text transform="translate(1120.5 1251.4) scale(1 1.05)" font-size="35.2" text-anchor="middle">2,2</text>
<text transform="translate(1216.7 1251.4) scale(1 1.05)" font-size="35.2" text-anchor="middle">2,4</text>
<text transform="translate(1312.9 1251.4) scale(1 1.05)" font-size="35.2" text-anchor="middle">2,6</text>
<text transform="translate(1409.1 1251.4) scale(1 1.05)" font-size="35.2" text-anchor="middle">2,8</text>
<text transform="translate(1505.3 1251.4) scale(1 1.05)" font-size="35.2" text-anchor="middle">3,0</text>
<text transform="translate(1601.5 1251.4) scale(1 1.05)" font-size="35.2" text-anchor="middle">3,2</text>
<line x1="976.6" y1="723.0" x2="988.1" y2="723.0" stroke="#000" stroke-width="2.2"/>
<line x1="976.6" y1="965.6" x2="988.1" y2="965.6" stroke="#000" stroke-width="2.2"/>
<line x1="976.6" y1="844.3" x2="983.1" y2="844.3" stroke="#000" stroke-width="2.2"/>
<line x1="976.6" y1="1086.9" x2="983.1" y2="1086.9" stroke="#000" stroke-width="2.2"/>
<text transform="translate(1009.6 726.0) scale(1 1.03)" font-size="41" font-weight="bold">b<tspan font-size="24.0" dy="14.0" dx="-0.6">2</tspan></text>
<text transform="translate(942.9 1139.1) rotate(-90) scale(1 1.03)" font-size="35.4" font-weight="bold">Normalized PL Intensity</text>
<text transform="translate(1327.5 1299.6) scale(1 1.03)" font-size="35.3" font-weight="bold" text-anchor="middle">Energy (eV)</text>
<path d="M976.5,1877.7 978.3,1878.4 980.9,1879.6 982.9,1879.2 985.2,1879.6 987.4,1879.3 989.6,1879.6 991.8,1879.7 994.0,1880.3 996.2,1881.1 998.3,1881.5 1000.5,1881.7 1002.7,1880.4 1004.9,1879.0 1007.1,1877.7 1009.2,1877.3 1011.4,1876.6 1013.6,1876.4 1015.8,1876.8 1018.0,1877.5 1020.2,1878.3 1022.3,1878.8 1024.4,1879.0 1026.7,1879.3 1028.7,1879.4 1030.9,1880.0 1033.2,1880.5 1035.4,1880.8 1037.6,1880.2 1039.9,1879.7 1042.1,1879.0 1044.1,1878.6 1046.5,1877.8 1048.6,1877.6 1050.7,1877.2 1052.9,1876.8 1055.1,1876.3 1057.2,1875.9 1059.1,1874.6 1060.9,1872.7 1062.7,1871.5 1064.5,1872.1 1066.2,1873.7 1068.1,1875.0 1070.1,1876.0 1072.3,1876.8 1074.7,1877.4 1077.5,1877.8 1080.6,1878.0 1083.4,1878.1 1085.8,1877.5 1087.9,1876.3 1089.9,1875.0 1091.8,1873.4 1093.6,1871.6 1095.4,1870.4 1098.2,1870.2 1100.8,1870.8 1102.9,1872.1 1105.2,1873.2 1107.1,1873.1 1109.3,1872.3 1111.7,1872.0 1114.5,1871.8 1117.5,1871.8 1120.5,1871.4 1122.6,1870.7 1124.8,1869.6 1127.0,1868.5 1129.2,1867.2 1131.4,1865.6 1133.7,1864.4 1135.9,1863.1 1137.9,1861.2 1140.2,1858.5 1142.3,1856.0 1144.4,1854.3 1146.6,1852.8 1148.8,1851.9 1151.0,1850.7 1152.6,1849.5 1154.3,1847.7 1155.9,1845.5 1157.5,1843.5 1159.8,1841.4 1162.0,1839.5 1164.1,1837.8 1165.7,1836.3 1167.1,1834.7 1168.4,1832.6 1169.5,1830.6 1170.5,1828.1 1171.5,1825.6 1172.8,1823.5 1174.0,1821.8 1175.3,1820.0 1176.6,1817.8 1178.0,1815.9 1179.3,1813.8 1181.0,1811.4 1182.6,1808.7 1184.2,1806.2 1185.9,1804.3 1187.5,1803.1 1189.1,1801.9 1190.8,1799.9 1192.4,1797.6 1193.7,1795.6 1195.0,1793.7 1196.3,1791.5 1197.6,1789.5 1199.0,1787.4 1200.6,1785.4 1202.2,1783.4 1203.9,1781.6 1205.5,1778.9 1206.4,1777.1 1207.4,1774.9 1208.3,1772.6 1209.2,1769.9 1210.2,1767.1 1211.1,1765.2 1212.0,1763.3 1213.1,1761.5 1214.2,1759.0 1215.3,1757.0 1216.4,1754.7 1217.5,1752.9 1218.6,1750.5 1219.9,1747.8 1221.2,1745.2 1222.5,1742.5 1223.8,1739.9 1225.1,1737.5 1226.2,1735.7 1227.3,1733.9 1228.4,1731.5 1229.5,1729.3 1230.6,1726.9 1231.7,1725.1 1232.8,1722.9 1234.0,1720.3 1235.2,1718.0 1236.4,1715.4 1237.4,1713.1 1238.2,1711.3 1240.0,1709.0 1240.8,1707.5 1241.8,1705.5 1242.9,1703.2 1244.1,1700.7 1245.4,1697.8 1246.6,1694.8 1247.8,1692.3 1248.7,1690.3 1249.7,1687.9 1250.7,1685.7 1251.6,1683.7 1252.6,1681.7 1253.6,1679.3 1254.5,1676.9 1255.5,1674.7 1256.8,1672.3 1258.1,1670.2 1259.4,1668.5 1260.7,1666.6 1262.0,1664.3 1263.3,1661.6 1264.4,1659.7 1265.5,1658.1 1266.6,1656.1 1267.7,1654.1 1268.8,1651.2 1269.9,1648.7 1271.0,1646.3 1272.3,1644.4 1273.6,1642.0 1274.9,1639.8 1276.2,1637.5 1277.5,1635.8 1278.8,1633.6 1279.9,1631.6 1281.0,1629.2 1282.1,1627.1 1283.2,1625.2 1284.3,1623.1 1285.4,1620.2 1286.5,1617.4 1287.5,1615.5 1288.5,1613.7 1289.6,1611.6 1290.6,1609.3 1291.6,1607.1 1292.5,1605.0 1293.4,1602.4 1294.3,1599.9 1295.1,1597.4 1295.8,1595.8 1296.4,1593.6 1297.0,1591.3 1297.6,1588.9 1298.2,1586.7 1298.8,1584.5 1299.5,1581.7 1300.0,1579.5 1300.6,1576.7 1301.2,1574.0 1301.8,1571.5 1302.3,1569.3 1302.9,1567.2 1303.5,1564.8 1304.1,1562.7 1304.6,1560.7 1305.5,1558.2 1306.3,1555.8 1307.1,1553.7 1308.0,1551.6 1308.9,1549.9 1309.8,1548.5 1311.0,1547.0 1312.3,1545.4 1313.6,1542.7 1315.0,1539.6 1316.3,1536.9 1317.2,1535.1 1318.1,1532.9 1319.0,1530.6 1320.0,1528.4 1320.9,1526.2 1321.8,1523.5 1322.7,1520.1 1323.4,1517.8 1324.0,1514.9 1324.7,1512.6 1325.3,1510.4 1326.0,1508.6 1326.6,1506.1 1327.3,1503.3 1327.9,1501.0 1328.5,1498.8 1329.2,1496.4 1330.0,1493.6 1330.8,1491.2 1331.6,1489.3 1332.4,1487.4 1333.2,1485.3 1334.0,1483.3 1334.8,1480.9 1335.7,1478.4 1336.4,1476.1 1337.1,1473.9 1337.8,1471.6 1338.5,1469.3 1339.2,1466.8 1340.0,1464.2 1340.7,1461.9 1341.4,1459.7 1342.1,1458.0 1342.9,1455.7 1343.8,1453.5 1344.6,1450.6 1345.4,1448.4 1346.3,1446.3 1347.1,1444.0 1347.8,1441.9 1348.6,1439.8 1349.5,1437.3 1350.4,1434.3 1351.2,1431.8 1352.1,1429.9 1352.9,1428.5 1353.8,1426.9 1355.0,1423.9 1356.3,1421.1 1357.6,1419.3 1358.9,1418.0 1360.6,1416.3 1362.4,1414.5 1364.1,1412.9 1366.8,1411.7 1369.3,1411.2 1371.3,1411.9 1373.1,1413.4 1374.4,1415.0 1375.7,1417.0 1377.0,1419.1 1378.8,1420.8 1380.9,1422.4 1382.8,1422.7 1385.0,1422.7 1387.4,1422.7 1389.9,1423.1 1392.6,1424.1 1395.1,1424.7 1397.4,1425.1 1399.5,1425.5 1401.6,1425.3 1403.2,1424.4 1404.9,1422.5 1406.5,1420.4 1408.0,1419.3 1409.8,1417.8 1411.4,1416.3 1413.2,1414.5 1414.8,1413.4 1416.5,1412.0 1418.2,1410.5 1419.7,1409.0 1421.7,1406.8 1423.6,1405.2 1425.1,1403.6 1426.9,1401.9 1428.7,1399.9 1430.8,1398.0 1433.1,1395.9 1435.2,1395.6 1437.0,1397.6 1438.6,1400.8 1440.4,1403.8 1441.6,1405.3 1442.9,1406.9 1444.3,1408.6 1445.6,1410.9 1446.8,1413.6 1447.6,1415.7 1448.3,1418.1 1449.0,1420.6 1449.7,1422.6 1450.4,1424.3 1451.1,1426.4 1452.0,1429.2 1452.7,1431.0 1453.4,1433.0 1454.1,1435.0 1454.9,1437.9 1455.7,1440.3 1456.5,1442.7 1457.3,1445.0 1458.2,1447.9 1459.0,1450.3 1459.8,1452.8 1460.5,1455.3 1461.3,1457.7 1462.1,1459.5 1462.9,1461.8 1463.6,1464.1 1464.4,1466.5 1465.2,1468.7 1466.0,1471.1 1466.7,1473.5 1467.5,1475.7 1468.4,1478.7 1469.2,1480.7 1470.1,1482.9 1471.0,1485.0 1471.8,1487.8 1472.7,1490.0 1473.5,1492.1 1474.4,1493.9 1475.3,1496.1 1476.1,1498.4 1477.0,1500.3 1477.8,1502.8 1478.7,1505.3 1479.6,1508.2 1480.4,1510.5 1481.3,1512.4 1482.2,1514.9 1483.0,1517.2 1483.9,1520.0 1484.7,1522.1 1485.6,1524.8 1486.5,1527.3 1487.3,1529.7 1488.2,1531.7 1489.1,1534.0 1489.9,1535.8 1490.8,1537.9 1492.1,1540.6 1493.4,1543.4 1494.7,1545.8 1495.9,1548.2 1497.2,1550.6 1498.5,1552.3 1500.5,1554.2 1502.6,1555.8 1504.5,1557.2 1506.3,1558.5 1508.2,1558.0 1509.8,1556.6 1511.5,1555.1 1513.2,1553.8 1514.9,1552.1 1516.6,1550.6 1519.2,1549.5 1521.8,1548.8 1524.4,1548.2 1527.0,1548.6 1528.3,1550.0 1529.6,1552.2 1530.8,1554.6 1532.1,1556.6 1533.2,1558.1 1534.2,1559.7 1535.2,1561.9 1536.3,1564.0 1537.3,1566.3 1538.0,1567.9 1538.6,1570.2 1539.3,1572.6 1539.9,1574.6 1540.5,1576.4 1541.2,1579.1 1541.8,1581.9 1542.5,1584.3 1543.0,1586.1 1543.5,1588.5 1544.0,1591.4 1544.6,1593.7 1545.1,1595.9 1545.6,1597.9 1546.1,1600.4 1546.6,1602.4 1547.1,1605.1 1547.7,1607.3 1548.1,1609.6 1548.6,1611.4 1549.1,1614.0 1549.5,1616.6 1550.0,1619.6 1550.5,1622.1 1550.9,1624.4 1551.4,1626.8 1551.9,1628.9 1552.4,1631.3 1552.8,1633.4 1553.3,1635.8 1553.9,1637.9 1554.4,1640.5 1554.9,1643.0 1555.4,1645.5 1555.9,1647.6 1556.4,1649.7 1557.0,1651.9 1557.5,1654.3 1558.0,1656.5 1558.5,1658.7 1559.0,1660.9 1559.5,1663.6 1560.0,1666.4 1560.5,1668.8 1561.0,1671.0 1561.5,1673.2 1562.0,1675.4 1562.6,1678.0 1563.2,1680.2 1563.7,1682.2 1564.3,1684.4 1564.8,1687.1 1565.4,1689.6 1566.0,1691.8 1566.6,1694.2 1567.2,1696.7 1567.8,1699.4 1568.4,1701.6 1569.0,1703.6 1569.6,1705.8 1570.3,1708.8 1570.9,1711.4 1571.5,1713.6 1572.2,1715.6 1572.8,1717.6 1573.4,1719.8 1574.1,1722.1 1574.7,1724.8 1575.4,1727.3 1576.1,1729.6 1576.8,1731.7 1577.6,1733.9 1578.3,1735.9 1579.1,1738.1 1579.9,1740.6 1580.7,1743.1 1581.5,1745.4 1582.3,1747.7 1583.1,1750.0 1583.8,1752.4 1584.7,1754.7 1585.6,1757.0 1586.5,1759.0 1587.4,1761.5 1588.3,1764.2 1589.2,1766.3 1590.1,1768.2 1590.9,1770.4 1591.6,1773.1 1592.4,1775.7 1593.0,1778.1 1593.6,1780.4 1594.2,1782.7 1594.8,1785.2 1595.4,1787.5 1596.0,1789.7 1596.8,1791.7 1597.9,1793.9 1599.2,1795.3 1600.5,1797.2 1601.8,1799.7 1603.2,1802.3 1604.5,1804.2 1605.6,1805.9 1606.7,1808.2 1607.9,1810.8 1609.0,1813.8 1610.1,1816.2 1611.2,1818.3 1612.3,1820.0 1613.8,1822.2 1615.4,1824.2 1616.9,1826.1 1618.5,1828.1 1620.0,1830.3 1621.1,1832.3 1622.3,1834.5 1623.4,1836.7 1624.5,1838.7 1625.6,1841.0 1626.7,1843.6 1627.8,1845.9 1629.1,1848.1 1630.4,1850.4 1631.7,1852.6 1633.0,1854.3 1634.3,1856.0 1635.6,1857.8 1637.5,1860.5 1639.4,1862.6 1641.4,1863.7 1643.3,1864.3 1646.2,1864.8 1649.1,1864.9 1651.1,1864.9" fill="none" stroke="#000" stroke-width="2.3" stroke-linejoin="round" stroke-linecap="round" clip-path="url(#cl_c2)"/>
<text transform="translate(1294.3 1785.0) rotate(-90) scale(1 1.05)" font-size="35.1" font-weight="bold" fill="#fb0505">2.54</text>
<text transform="translate(1386.9 1653.6) rotate(-90) scale(1 1.05)" font-size="35.1" font-weight="bold" fill="#fb0505">2.72</text>
<text transform="translate(1462.4 1708.2) rotate(-90) scale(1 1.05)" font-size="35.1" font-weight="bold" fill="#fb0505">2.87</text>
<text transform="translate(1527.8 1725.0) rotate(-90) scale(1 1.05)" font-size="35.1" font-weight="bold" fill="#fb0505">3.01</text>
<text transform="translate(1587.2 1834.1) rotate(-90) scale(1 1.05)" font-size="35.1" font-weight="bold" fill="#fb0505">3.14</text>
<path d="M994.2,1881.6 C997.0,1881.6 1005.3,1881.6 1010.8,1881.5 C1016.4,1881.5 1021.9,1881.5 1027.4,1881.5 C1033.0,1881.4 1038.5,1881.4 1044.0,1881.3 C1049.5,1881.2 1055.1,1881.0 1060.6,1880.8 C1066.1,1880.6 1071.6,1880.3 1077.2,1879.9 C1082.7,1879.4 1088.2,1878.9 1093.8,1878.0 C1099.3,1877.2 1104.8,1876.2 1110.3,1874.7 C1115.9,1873.2 1121.4,1871.4 1126.9,1868.9 C1132.5,1866.5 1138.0,1863.6 1143.5,1859.8 C1149.0,1856.0 1154.6,1851.6 1160.1,1846.3 C1165.6,1840.9 1171.2,1834.7 1176.7,1827.7 C1182.2,1820.7 1187.8,1812.6 1193.3,1804.2 C1198.8,1795.7 1204.3,1786.2 1209.9,1776.9 C1215.4,1767.6 1220.9,1757.4 1226.5,1748.3 C1232.0,1739.1 1237.5,1729.6 1243.0,1721.8 C1248.6,1714.0 1254.1,1706.6 1259.6,1701.3 C1265.2,1696.0 1270.7,1691.9 1276.2,1690.1 C1281.7,1688.2 1287.3,1688.2 1292.8,1690.1 C1298.3,1691.9 1303.8,1696.0 1309.4,1701.3 C1314.9,1706.6 1320.4,1714.0 1326.0,1721.8 C1331.5,1729.6 1337.0,1739.1 1342.5,1748.3 C1348.1,1757.4 1353.6,1767.6 1359.1,1776.9 C1364.7,1786.2 1370.2,1795.7 1375.7,1804.2 C1381.2,1812.6 1386.8,1820.7 1392.3,1827.7 C1397.8,1834.7 1403.4,1840.9 1408.9,1846.3 C1414.4,1851.6 1420.0,1856.0 1425.5,1859.8 C1431.0,1863.6 1436.5,1866.5 1442.1,1868.9 C1447.6,1871.4 1453.1,1873.2 1458.7,1874.7 C1464.2,1876.2 1469.7,1877.2 1475.2,1878.0 C1480.8,1878.9 1486.3,1879.4 1491.8,1879.9 C1497.3,1880.3 1502.9,1880.6 1508.4,1880.8 C1513.9,1881.0 1519.5,1881.2 1525.0,1881.3 C1530.5,1881.4 1536.0,1881.4 1541.6,1881.5 C1547.1,1881.5 1552.6,1881.5 1558.2,1881.5 C1563.7,1881.6 1572.0,1881.6 1574.8,1881.6" fill="none" stroke="#0400d2" stroke-width="2.2" stroke-linejoin="round" stroke-linecap="round" clip-path="url(#cl_c2)"/>
<path d="M1158.2,1881.6 C1160.3,1881.6 1166.4,1881.5 1170.4,1881.5 C1174.5,1881.5 1178.5,1881.4 1182.6,1881.4 C1186.6,1881.3 1190.7,1881.2 1194.7,1881.0 C1198.8,1880.8 1202.8,1880.6 1206.9,1880.2 C1211.0,1879.8 1215.0,1879.4 1219.1,1878.6 C1223.1,1877.8 1227.2,1876.9 1231.2,1875.4 C1235.3,1873.8 1239.3,1872.1 1243.4,1869.5 C1247.4,1866.8 1251.5,1863.7 1255.6,1859.4 C1259.6,1855.1 1263.7,1850.0 1267.7,1843.4 C1271.8,1836.7 1275.8,1829.0 1279.9,1819.6 C1283.9,1810.3 1288.0,1799.4 1292.0,1787.1 C1296.1,1774.7 1300.1,1760.6 1304.2,1745.8 C1308.3,1730.9 1312.3,1714.3 1316.4,1697.9 C1320.4,1681.6 1324.5,1663.8 1328.5,1647.7 C1332.6,1631.6 1336.6,1615.0 1340.7,1601.3 C1344.7,1587.6 1348.8,1574.6 1352.9,1565.3 C1356.9,1556.1 1361.0,1548.9 1365.0,1545.6 C1369.1,1542.4 1373.1,1542.4 1377.2,1545.6 C1381.2,1548.9 1385.3,1556.1 1389.3,1565.3 C1393.4,1574.6 1397.5,1587.6 1401.5,1601.3 C1405.6,1615.0 1409.6,1631.6 1413.7,1647.7 C1417.7,1663.8 1421.8,1681.6 1425.8,1697.9 C1429.9,1714.3 1433.9,1730.9 1438.0,1745.8 C1442.0,1760.6 1446.1,1774.7 1450.2,1787.1 C1454.2,1799.4 1458.3,1810.3 1462.3,1819.6 C1466.4,1829.0 1470.4,1836.7 1474.5,1843.4 C1478.5,1850.0 1482.6,1855.1 1486.6,1859.4 C1490.7,1863.7 1494.8,1866.8 1498.8,1869.5 C1502.9,1872.1 1506.9,1873.8 1511.0,1875.4 C1515.0,1876.9 1519.1,1877.8 1523.1,1878.6 C1527.2,1879.4 1531.2,1879.8 1535.3,1880.2 C1539.4,1880.6 1543.4,1880.8 1547.5,1881.0 C1551.5,1881.2 1555.6,1881.3 1559.6,1881.4 C1563.7,1881.4 1567.7,1881.5 1571.8,1881.5 C1575.8,1881.5 1581.9,1881.6 1583.9,1881.6" fill="none" stroke="#0400d2" stroke-width="2.2" stroke-linejoin="round" stroke-linecap="round" clip-path="url(#cl_c2)"/>
<path d="M1291.1,1881.6 C1292.6,1881.6 1296.9,1881.6 1299.8,1881.5 C1302.7,1881.5 1305.6,1881.5 1308.5,1881.4 C1311.3,1881.3 1314.2,1881.2 1317.1,1881.1 C1320.0,1880.9 1322.9,1880.7 1325.8,1880.4 C1328.7,1880.0 1331.6,1879.7 1334.5,1878.9 C1337.4,1878.2 1340.3,1877.4 1343.2,1876.1 C1346.0,1874.8 1348.9,1873.3 1351.8,1870.9 C1354.7,1868.6 1357.6,1865.9 1360.5,1862.1 C1363.4,1858.3 1366.3,1853.8 1369.2,1848.0 C1372.1,1842.2 1375.0,1835.4 1377.8,1827.2 C1380.7,1818.9 1383.6,1809.4 1386.5,1798.6 C1389.4,1787.7 1392.3,1775.4 1395.2,1762.3 C1398.1,1749.3 1401.0,1734.6 1403.9,1720.3 C1406.8,1705.9 1409.7,1690.3 1412.5,1676.2 C1415.4,1662.1 1418.3,1647.5 1421.2,1635.4 C1424.1,1623.4 1427.0,1612.0 1429.9,1603.8 C1432.8,1595.7 1435.7,1589.4 1438.6,1586.5 C1441.5,1583.7 1444.3,1583.7 1447.2,1586.5 C1450.1,1589.4 1453.0,1595.7 1455.9,1603.8 C1458.8,1612.0 1461.7,1623.4 1464.6,1635.4 C1467.5,1647.5 1470.4,1662.1 1473.3,1676.2 C1476.1,1690.3 1479.0,1705.9 1481.9,1720.3 C1484.8,1734.6 1487.7,1749.3 1490.6,1762.3 C1493.5,1775.4 1496.4,1787.7 1499.3,1798.6 C1502.2,1809.4 1505.1,1818.9 1508.0,1827.2 C1510.8,1835.4 1513.7,1842.2 1516.6,1848.0 C1519.5,1853.8 1522.4,1858.3 1525.3,1862.1 C1528.2,1865.9 1531.1,1868.6 1534.0,1870.9 C1536.9,1873.3 1539.8,1874.8 1542.6,1876.1 C1545.5,1877.4 1548.4,1878.2 1551.3,1878.9 C1554.2,1879.7 1557.1,1880.0 1560.0,1880.4 C1562.9,1880.7 1565.8,1880.9 1568.7,1881.1 C1571.6,1881.2 1574.5,1881.3 1577.3,1881.4 C1580.2,1881.5 1583.1,1881.5 1586.0,1881.5 C1588.9,1881.6 1593.2,1881.6 1594.7,1881.6" fill="none" stroke="#0400d2" stroke-width="2.2" stroke-linejoin="round" stroke-linecap="round" clip-path="url(#cl_c2)"/>
<path d="M1361.9,1881.6 C1363.3,1881.6 1367.5,1881.6 1370.4,1881.5 C1373.2,1881.5 1376.0,1881.5 1378.9,1881.4 C1381.7,1881.4 1384.5,1881.3 1387.4,1881.1 C1390.2,1881.0 1393.0,1880.9 1395.9,1880.5 C1398.7,1880.2 1401.5,1879.9 1404.4,1879.3 C1407.2,1878.7 1410.0,1878.0 1412.9,1876.8 C1415.7,1875.6 1418.5,1874.3 1421.4,1872.3 C1424.2,1870.2 1427.1,1867.9 1429.9,1864.5 C1432.7,1861.2 1435.6,1857.3 1438.4,1852.2 C1441.2,1847.1 1444.1,1841.1 1446.9,1833.9 C1449.7,1826.7 1452.6,1818.3 1455.4,1808.9 C1458.2,1799.5 1461.1,1788.6 1463.9,1777.3 C1466.7,1765.9 1469.6,1753.2 1472.4,1740.7 C1475.2,1728.3 1478.1,1714.8 1480.9,1702.6 C1483.7,1690.4 1486.6,1677.8 1489.4,1667.5 C1492.3,1657.2 1495.1,1647.5 1497.9,1640.7 C1500.8,1633.8 1503.6,1628.7 1506.4,1626.4 C1509.3,1624.2 1512.1,1624.5 1514.9,1627.3 C1517.8,1630.1 1520.6,1635.8 1523.4,1643.1 C1526.3,1650.4 1529.1,1660.5 1531.9,1671.1 C1534.8,1681.7 1537.6,1694.5 1540.4,1706.8 C1543.3,1719.1 1546.1,1732.6 1548.9,1745.0 C1551.8,1757.4 1554.6,1769.9 1557.5,1781.1 C1560.3,1792.3 1563.1,1802.9 1566.0,1812.1 C1568.8,1821.3 1571.6,1829.3 1574.5,1836.3 C1577.3,1843.3 1580.1,1849.0 1583.0,1853.8 C1585.8,1858.7 1588.6,1862.4 1591.5,1865.6 C1594.3,1868.8 1597.1,1871.0 1600.0,1872.9 C1602.8,1874.8 1605.6,1876.1 1608.5,1877.2 C1611.3,1878.3 1614.1,1878.9 1617.0,1879.5 C1619.8,1880.0 1622.7,1880.3 1625.5,1880.6 C1628.3,1880.9 1631.2,1881.1 1634.0,1881.2 C1636.8,1881.3 1639.7,1881.4 1642.5,1881.4 C1645.3,1881.5 1649.6,1881.5 1651.0,1881.5" fill="none" stroke="#0400d2" stroke-width="2.2" stroke-linejoin="round" stroke-linecap="round" clip-path="url(#cl_c2)"/>
<path d="M1404.9,1881.6 C1406.4,1881.6 1411.2,1881.6 1414.3,1881.6 C1417.5,1881.6 1420.6,1881.5 1423.8,1881.5 C1426.9,1881.5 1430.1,1881.4 1433.3,1881.4 C1436.4,1881.3 1439.6,1881.2 1442.7,1881.1 C1445.9,1880.9 1449.0,1880.8 1452.2,1880.5 C1455.3,1880.2 1458.5,1879.8 1461.7,1879.3 C1464.8,1878.7 1468.0,1878.1 1471.1,1877.1 C1474.3,1876.1 1477.4,1874.9 1480.6,1873.3 C1483.7,1871.7 1486.9,1869.8 1490.1,1867.3 C1493.2,1864.9 1496.4,1862.0 1499.5,1858.5 C1502.7,1855.0 1505.8,1850.9 1509.0,1846.3 C1512.1,1841.7 1515.3,1836.5 1518.5,1830.9 C1521.6,1825.4 1524.8,1819.2 1527.9,1813.1 C1531.1,1807.0 1534.2,1800.4 1537.4,1794.4 C1540.5,1788.4 1543.7,1782.3 1546.9,1777.2 C1550.0,1772.1 1553.2,1767.3 1556.3,1763.8 C1559.5,1760.4 1562.6,1757.8 1565.8,1756.6 C1569.0,1755.4 1572.1,1755.4 1575.3,1756.7 C1578.4,1758.0 1581.6,1760.6 1584.7,1764.1 C1587.9,1767.6 1591.0,1772.5 1594.2,1777.6 C1597.4,1782.7 1600.5,1788.9 1603.7,1794.9 C1606.8,1800.9 1610.0,1807.5 1613.1,1813.6 C1616.3,1819.7 1619.4,1825.9 1622.6,1831.4 C1625.8,1836.9 1628.9,1842.1 1632.1,1846.7 C1635.2,1851.3 1638.4,1855.3 1641.5,1858.8 C1644.7,1862.2 1649.4,1866.1 1651.0,1867.5" fill="none" stroke="#0400d2" stroke-width="2.2" stroke-linejoin="round" stroke-linecap="round" clip-path="url(#cl_c2)"/>
<line x1="976.6" y1="1881.6" x2="1651.0" y2="1881.6" stroke="#0400d2" stroke-width="2.4"/>
<line x1="976.6" y1="1348.5" x2="1652.0" y2="1348.5" stroke="#a8a8a8" stroke-width="1"/>
<line x1="976.6" y1="1347.0" x2="976.6" y2="1887.7" stroke="#000" stroke-width="2.2"/>
<line x1="975.5" y1="1886.6" x2="1652.0" y2="1886.6" stroke="#000" stroke-width="2.2"/>
<line x1="1024.8" y1="1886.6" x2="1024.8" y2="1875.1" stroke="#000" stroke-width="2.2"/>
<line x1="1072.9" y1="1886.6" x2="1072.9" y2="1880.1" stroke="#000" stroke-width="2.2"/>
<line x1="1121.0" y1="1886.6" x2="1121.0" y2="1875.1" stroke="#000" stroke-width="2.2"/>
<line x1="1169.1" y1="1886.6" x2="1169.1" y2="1880.1" stroke="#000" stroke-width="2.2"/>
<line x1="1217.2" y1="1886.6" x2="1217.2" y2="1875.1" stroke="#000" stroke-width="2.2"/>
<line x1="1265.3" y1="1886.6" x2="1265.3" y2="1880.1" stroke="#000" stroke-width="2.2"/>
<line x1="1313.4" y1="1886.6" x2="1313.4" y2="1875.1" stroke="#000" stroke-width="2.2"/>
<line x1="1361.5" y1="1886.6" x2="1361.5" y2="1880.1" stroke="#000" stroke-width="2.2"/>
<line x1="1409.6" y1="1886.6" x2="1409.6" y2="1875.1" stroke="#000" stroke-width="2.2"/>
<line x1="1457.7" y1="1886.6" x2="1457.7" y2="1880.1" stroke="#000" stroke-width="2.2"/>
<line x1="1505.8" y1="1886.6" x2="1505.8" y2="1875.1" stroke="#000" stroke-width="2.2"/>
<line x1="1553.9" y1="1886.6" x2="1553.9" y2="1880.1" stroke="#000" stroke-width="2.2"/>
<line x1="1602.0" y1="1886.6" x2="1602.0" y2="1875.1" stroke="#000" stroke-width="2.2"/>
<line x1="1650.1" y1="1886.6" x2="1650.1" y2="1880.1" stroke="#000" stroke-width="2.2"/>
<text transform="translate(1024.3 1925.6) scale(1 1.05)" font-size="35.2" text-anchor="middle">2,0</text>
<text transform="translate(1120.5 1925.6) scale(1 1.05)" font-size="35.2" text-anchor="middle">2,2</text>
<text transform="translate(1216.7 1925.6) scale(1 1.05)" font-size="35.2" text-anchor="middle">2,4</text>
<text transform="translate(1312.9 1925.6) scale(1 1.05)" font-size="35.2" text-anchor="middle">2,6</text>
<text transform="translate(1409.1 1925.6) scale(1 1.05)" font-size="35.2" text-anchor="middle">2,8</text>
<text transform="translate(1505.3 1925.6) scale(1 1.05)" font-size="35.2" text-anchor="middle">3,0</text>
<text transform="translate(1601.5 1925.6) scale(1 1.05)" font-size="35.2" text-anchor="middle">3,2</text>
<line x1="976.6" y1="1396.4" x2="988.1" y2="1396.4" stroke="#000" stroke-width="2.2"/>
<line x1="976.6" y1="1639.0" x2="988.1" y2="1639.0" stroke="#000" stroke-width="2.2"/>
<line x1="976.6" y1="1517.7" x2="983.1" y2="1517.7" stroke="#000" stroke-width="2.2"/>
<line x1="976.6" y1="1760.4" x2="983.1" y2="1760.4" stroke="#000" stroke-width="2.2"/>
<text transform="translate(1021.4 1406.0) scale(1 1.03)" font-size="41" font-weight="bold">c<tspan font-size="24.0" dy="14.0" dx="-0.6">2</tspan></text>
<text transform="translate(937.8 1820.9) rotate(-90) scale(1 1.03)" font-size="35.4" font-weight="bold">Normalized PL Intensity</text>
<text transform="translate(1313.9 1974.0) scale(1 1.03)" font-size="35.3" font-weight="bold" text-anchor="middle">Energy (eV)</text>
</svg>
</body></html>
